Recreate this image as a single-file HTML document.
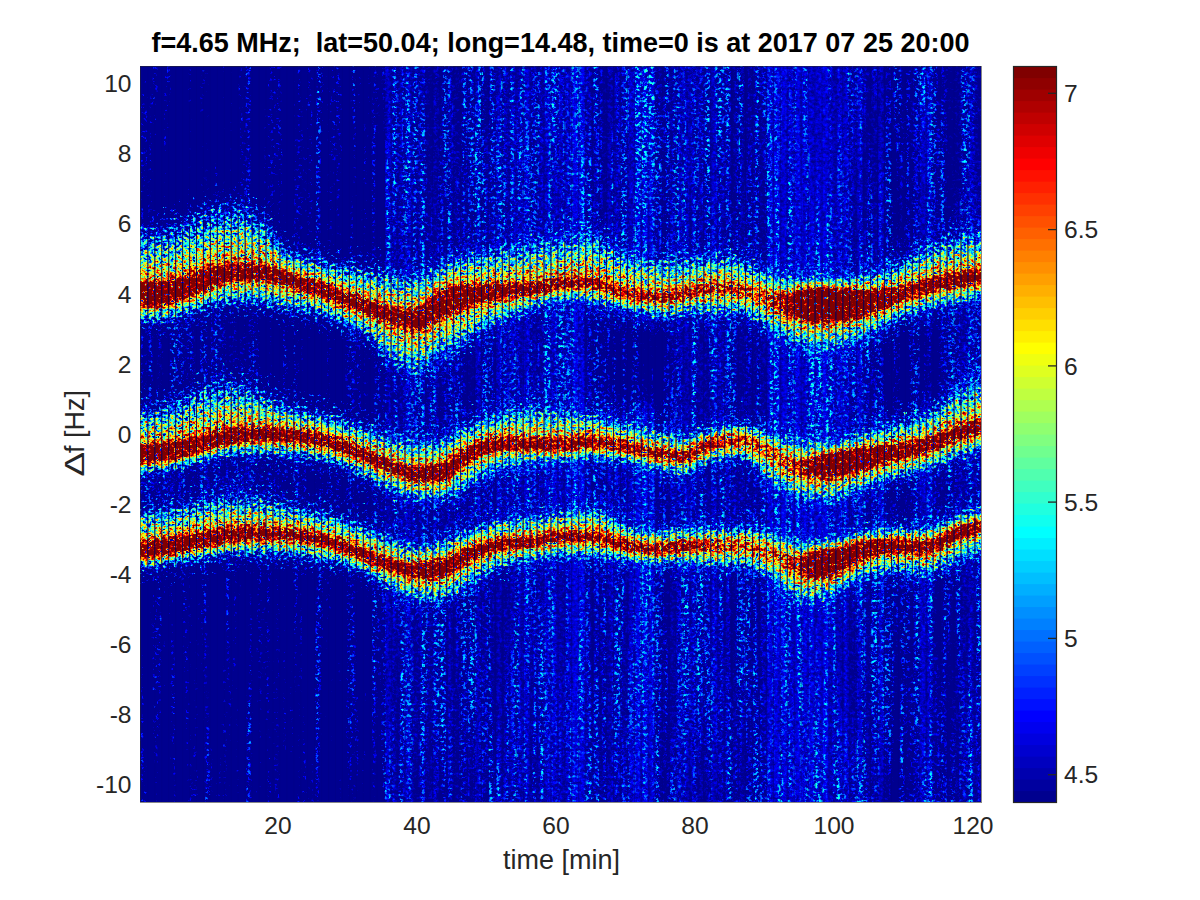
<!DOCTYPE html>
<html><head><meta charset="utf-8"><title>spectrogram</title>
<style>
html,body{margin:0;padding:0;background:#fff;}
svg{display:block}
text{font-family:"Liberation Sans",Arial,Helvetica,sans-serif;fill:#262626;font-size:24.6px}
.t{font-weight:bold;fill:#000;font-size:27.0px}
.l{font-size:27.0px}
</style></head><body>
<svg width="1200" height="900" viewBox="0 0 1200 900">
<defs>
<clipPath id="cb"><polygon points="119.0,238.0 126.0,238.0 132.9,238.0 139.9,238.0 146.8,237.8 153.8,237.1 160.7,236.2 167.7,235.1 174.6,232.8 181.6,229.8 188.5,226.8 195.5,223.9 202.4,220.6 209.4,217.8 216.3,216.2 223.3,215.1 230.2,214.3 237.2,213.9 244.1,214.4 251.1,217.3 258.0,221.8 265.0,226.8 271.9,234.3 278.9,244.4 285.8,252.9 292.8,256.5 299.7,258.1 306.7,259.4 313.6,260.7 320.6,262.3 327.5,263.9 334.5,265.5 341.4,267.1 348.4,268.7 355.3,270.3 362.3,271.8 369.2,272.9 376.2,273.9 383.1,274.8 390.1,275.6 397.0,276.6 404.0,277.5 410.9,278.1 417.9,277.7 424.8,274.9 431.8,270.9 438.7,267.0 445.7,264.1 452.6,261.2 459.6,258.7 466.5,257.0 473.5,255.7 480.4,254.6 487.4,253.5 494.3,252.3 501.3,251.1 508.2,249.9 515.2,248.7 522.1,247.3 529.1,246.0 536.0,244.8 543.0,243.8 549.9,243.0 556.9,242.3 563.8,241.5 570.8,240.1 577.7,237.8 584.7,235.7 591.6,235.2 598.6,238.7 605.5,244.5 612.5,249.9 619.4,252.8 626.4,255.2 633.3,257.2 640.3,258.5 647.2,259.4 654.2,260.2 661.1,260.7 668.1,260.8 675.0,260.6 682.0,260.3 688.9,260.1 695.9,259.5 702.8,258.5 709.8,257.5 716.7,257.2 723.7,257.9 730.6,259.2 737.6,260.8 744.5,262.7 751.5,265.5 758.4,268.7 765.4,271.4 772.3,273.8 779.3,276.1 786.2,277.6 793.2,277.7 800.1,277.4 807.1,277.1 814.0,277.0 821.0,277.0 827.9,277.1 834.9,277.1 841.8,277.2 848.8,276.9 855.7,276.3 862.7,275.5 869.6,274.5 876.6,273.0 883.5,270.9 890.5,268.5 897.4,265.3 904.4,261.2 911.3,257.0 918.3,253.4 925.2,249.8 932.2,246.5 939.1,243.6 946.1,241.1 953.0,238.6 960.0,236.9 966.9,236.3 973.9,236.9 980.8,238.4 987.8,238.5 994.7,238.5 1001.7,238.5 1001.7,299.5 994.7,299.5 987.8,299.5 980.8,299.5 973.9,300.6 966.9,301.7 960.0,302.9 953.0,304.3 946.1,305.6 939.1,307.0 932.2,308.4 925.2,309.7 918.3,311.3 911.3,313.5 904.4,316.6 897.4,320.4 890.5,324.0 883.5,327.4 876.6,330.8 869.6,334.1 862.7,337.2 855.7,340.2 848.8,342.9 841.8,345.1 834.9,346.8 827.9,348.4 821.0,349.6 814.0,350.0 807.1,348.5 800.1,345.6 793.2,342.2 786.2,338.8 779.3,334.7 772.3,330.2 765.4,326.0 758.4,321.8 751.5,317.5 744.5,314.3 737.6,313.5 730.6,313.5 723.7,313.5 716.7,313.6 709.8,313.4 702.8,312.8 695.9,312.3 688.9,312.3 682.0,313.6 675.0,315.5 668.1,317.0 661.1,317.0 654.2,315.9 647.2,314.3 640.3,312.8 633.3,311.4 626.4,310.0 619.4,308.5 612.5,307.0 605.5,305.4 598.6,303.7 591.6,302.5 584.7,301.7 577.7,300.9 570.8,300.4 563.8,300.3 556.9,301.0 549.9,302.6 543.0,304.5 536.0,306.6 529.1,309.7 522.1,313.2 515.2,316.4 508.2,318.9 501.3,321.2 494.3,323.7 487.4,326.9 480.4,331.1 473.5,335.9 466.5,340.6 459.6,344.7 452.6,348.6 445.7,352.3 438.7,356.2 431.8,361.4 424.8,366.8 417.9,370.2 410.9,369.8 404.0,367.1 397.0,363.1 390.1,358.7 383.1,352.6 376.2,344.7 369.2,337.2 362.3,332.1 355.3,328.5 348.4,325.4 341.4,322.5 334.5,319.3 327.5,316.1 320.6,313.3 313.6,311.6 306.7,310.6 299.7,309.8 292.8,309.0 285.8,307.9 278.9,306.2 271.9,304.6 265.0,303.4 258.0,302.5 251.1,301.8 244.1,301.3 237.2,301.3 230.2,301.9 223.3,302.8 216.3,304.0 209.4,305.5 202.4,307.8 195.5,310.4 188.5,312.7 181.6,315.3 174.6,317.8 167.7,319.5 160.7,319.8 153.8,319.9 146.8,320.0 139.9,320.1 132.9,320.1 126.0,320.1 119.0,320.1"/><polygon points="119.0,412.8 126.0,412.8 132.9,412.8 139.9,412.8 146.8,412.2 153.8,411.1 160.7,409.7 167.7,408.0 174.6,405.9 181.6,402.6 188.5,398.7 195.5,395.1 202.4,392.6 209.4,390.6 216.3,388.7 223.3,387.2 230.2,386.5 237.2,387.0 244.1,389.2 251.1,392.2 258.0,395.5 265.0,398.4 271.9,401.6 278.9,405.0 285.8,408.2 292.8,410.5 299.7,412.0 306.7,413.2 313.6,414.4 320.6,415.7 327.5,417.4 334.5,419.3 341.4,421.5 348.4,423.7 355.3,425.9 362.3,428.1 369.2,430.5 376.2,432.7 383.1,434.8 390.1,436.8 397.0,438.9 404.0,440.7 410.9,441.8 417.9,441.9 424.8,441.4 431.8,440.6 438.7,439.6 445.7,438.0 452.6,434.9 459.6,431.1 466.5,427.4 473.5,424.4 480.4,421.4 487.4,418.5 494.3,416.0 501.3,414.1 508.2,412.5 515.2,411.1 522.1,409.9 529.1,409.2 536.0,409.3 543.0,409.8 549.9,410.5 556.9,411.3 563.8,412.1 570.8,412.8 577.7,413.6 584.7,414.5 591.6,415.5 598.6,416.9 605.5,418.6 612.5,420.5 619.4,422.4 626.4,424.1 633.3,425.8 640.3,427.4 647.2,428.9 654.2,430.3 661.1,431.7 668.1,433.1 675.0,434.3 682.0,435.0 688.9,434.6 695.9,433.2 702.8,431.4 709.8,428.7 716.7,426.7 723.7,425.5 730.6,424.6 737.6,424.1 744.5,424.5 751.5,426.3 758.4,429.1 765.4,431.9 772.3,434.1 779.3,436.2 786.2,438.2 793.2,439.8 800.1,440.9 807.1,441.5 814.0,441.9 821.0,442.2 827.9,442.4 834.9,442.1 841.8,440.6 848.8,438.2 855.7,435.6 862.7,433.4 869.6,431.5 876.6,429.7 883.5,427.9 890.5,426.1 897.4,424.3 904.4,422.6 911.3,420.9 918.3,418.8 925.2,416.0 932.2,411.6 939.1,406.1 946.1,400.3 953.0,395.1 960.0,390.9 966.9,387.0 973.9,383.4 980.8,380.2 987.8,380.1 994.7,380.1 1001.7,380.1 1001.7,449.9 994.7,449.9 987.8,449.9 980.8,449.9 973.9,452.1 966.9,454.4 960.0,456.7 953.0,459.2 946.1,461.9 939.1,464.8 932.2,467.6 925.2,470.2 918.3,472.4 911.3,474.4 904.4,476.4 897.4,478.3 890.5,480.3 883.5,482.4 876.6,484.5 869.6,486.6 862.7,488.9 855.7,491.7 848.8,495.1 841.8,498.3 834.9,500.3 827.9,500.6 821.0,500.3 814.0,499.6 807.1,498.7 800.1,497.6 793.2,495.3 786.2,491.6 779.3,487.3 772.3,482.8 765.4,477.8 758.4,471.0 751.5,464.2 744.5,459.5 737.6,458.5 730.6,458.8 723.7,459.5 716.7,460.4 709.8,462.4 702.8,466.1 695.9,469.7 688.9,473.5 682.0,474.5 675.0,473.9 668.1,472.8 661.1,471.3 654.2,469.8 647.2,468.0 640.3,465.8 633.3,463.5 626.4,461.7 619.4,460.8 612.5,460.1 605.5,459.4 598.6,459.0 591.6,458.9 584.7,459.2 577.7,459.8 570.8,460.4 563.8,461.0 556.9,461.4 549.9,461.7 543.0,462.0 536.0,462.4 529.1,462.9 522.1,463.7 515.2,464.8 508.2,466.1 501.3,467.7 494.3,470.3 487.4,474.2 480.4,478.7 473.5,483.0 466.5,486.8 459.6,491.3 452.6,495.5 445.7,498.6 438.7,499.6 431.8,499.6 424.8,499.2 417.9,498.8 410.9,497.8 404.0,495.6 397.0,492.4 390.1,488.9 383.1,485.6 376.2,482.3 369.2,478.8 362.3,475.3 355.3,472.0 348.4,468.9 341.4,465.8 334.5,462.9 327.5,460.6 320.6,459.3 313.6,458.4 306.7,457.6 299.7,457.0 292.8,456.4 285.8,455.7 278.9,454.8 271.9,454.1 265.0,453.7 258.0,453.7 251.1,453.8 244.1,453.9 237.2,454.0 230.2,454.1 223.3,454.9 216.3,456.4 209.4,458.2 202.4,460.1 195.5,462.0 188.5,464.2 181.6,466.6 174.6,468.5 167.7,469.7 160.7,470.6 153.8,471.5 146.8,472.1 139.9,472.3 132.9,472.3 126.0,472.3 119.0,472.3"/><polygon points="119.0,513.0 126.0,513.0 132.9,513.0 139.9,513.0 146.8,512.5 153.8,511.8 160.7,511.0 167.7,510.1 174.6,509.1 181.6,507.8 188.5,506.4 195.5,504.9 202.4,503.5 209.4,501.8 216.3,500.1 223.3,498.7 230.2,497.9 237.2,498.0 244.1,498.4 251.1,499.1 258.0,499.9 265.0,500.9 271.9,502.5 278.9,504.6 285.8,506.7 292.8,508.5 299.7,509.9 306.7,511.1 313.6,512.4 320.6,513.9 327.5,515.5 334.5,517.5 341.4,519.6 348.4,521.9 355.3,524.2 362.3,526.9 369.2,529.9 376.2,532.8 383.1,535.5 390.1,538.1 397.0,541.0 404.0,543.5 410.9,545.0 417.9,545.2 424.8,544.4 431.8,543.2 438.7,541.7 445.7,539.9 452.6,537.0 459.6,533.8 466.5,530.6 473.5,528.2 480.4,525.8 487.4,523.6 494.3,521.7 501.3,520.3 508.2,519.5 515.2,518.9 522.1,518.3 529.1,517.6 536.0,516.7 543.0,515.2 549.9,513.6 556.9,512.2 563.8,511.3 570.8,510.5 577.7,509.7 584.7,509.1 591.6,508.9 598.6,509.9 605.5,513.2 612.5,517.5 619.4,521.5 626.4,524.2 633.3,526.7 640.3,529.0 647.2,530.7 654.2,531.4 661.1,530.9 668.1,530.0 675.0,529.0 682.0,528.4 688.9,528.4 695.9,528.4 702.8,528.4 709.8,528.4 716.7,528.4 723.7,528.3 730.6,528.2 737.6,528.2 744.5,528.3 751.5,528.9 758.4,529.9 765.4,531.1 772.3,532.4 779.3,534.7 786.2,537.5 793.2,539.8 800.1,540.9 807.1,540.5 814.0,540.1 821.0,539.9 827.9,539.8 834.9,539.5 841.8,537.7 848.8,535.0 855.7,532.4 862.7,530.8 869.6,529.9 876.6,529.1 883.5,528.4 890.5,528.1 897.4,528.1 904.4,528.1 911.3,528.2 918.3,528.3 925.2,528.2 932.2,526.3 939.1,523.1 946.1,519.5 953.0,516.5 960.0,514.5 966.9,512.7 973.9,511.1 980.8,509.7 987.8,509.7 994.7,509.7 1001.7,509.7 1001.7,550.3 994.7,550.3 987.8,550.3 980.8,550.4 973.9,553.5 966.9,556.6 960.0,559.6 953.0,562.5 946.1,565.9 939.1,569.5 932.2,572.5 925.2,574.2 918.3,574.1 911.3,573.4 904.4,572.5 897.4,571.8 890.5,571.7 883.5,572.3 876.6,573.7 869.6,575.5 862.7,577.6 855.7,580.7 848.8,585.3 841.8,590.2 834.9,594.3 827.9,596.7 821.0,598.6 814.0,600.1 807.1,600.8 800.1,600.8 793.2,597.6 786.2,591.4 779.3,584.3 772.3,578.6 765.4,574.9 758.4,571.4 751.5,568.4 744.5,566.4 737.6,566.1 730.6,566.1 723.7,566.2 716.7,566.2 709.8,566.0 702.8,565.3 695.9,564.4 688.9,563.7 682.0,563.5 675.0,563.6 668.1,563.7 661.1,563.9 654.2,563.9 647.2,563.7 640.3,563.0 633.3,562.0 626.4,561.1 619.4,560.2 612.5,559.1 605.5,558.0 598.6,557.2 591.6,556.9 584.7,556.9 577.7,556.9 570.8,556.9 563.8,556.9 556.9,557.1 549.9,557.7 543.0,558.6 536.0,559.7 529.1,560.7 522.1,561.7 515.2,562.8 508.2,564.3 501.3,566.0 494.3,568.7 487.4,572.5 480.4,576.9 473.5,581.3 466.5,585.4 459.6,590.4 452.6,595.3 445.7,598.8 438.7,600.0 431.8,599.9 424.8,599.7 417.9,599.3 410.9,598.4 404.0,595.8 397.0,591.9 390.1,587.7 383.1,583.7 376.2,579.5 369.2,575.0 362.3,570.7 355.3,567.5 348.4,565.4 341.4,563.7 334.5,562.3 327.5,561.0 320.6,559.7 313.6,558.3 306.7,557.1 299.7,556.0 292.8,555.3 285.8,554.9 278.9,554.5 271.9,554.2 265.0,554.1 258.0,554.1 251.1,554.2 244.1,554.2 237.2,554.3 230.2,554.4 223.3,554.9 216.3,555.6 209.4,556.6 202.4,557.6 195.5,558.8 188.5,560.3 181.6,562.0 174.6,563.5 167.7,564.5 160.7,565.4 153.8,566.3 146.8,566.9 139.9,567.4 132.9,567.4 126.0,567.4 119.0,567.4"/></clipPath>
<clipPath id="cp"><rect x="140" y="66" width="841" height="736"/></clipPath>
<filter id="b1" x="-5%" y="-5%" width="110%" height="110%" color-interpolation-filters="sRGB"><feGaussianBlur stdDeviation="0.8 0"/></filter>
<filter id="b2" x="-5%" y="-30%" width="110%" height="160%" color-interpolation-filters="sRGB"><feGaussianBlur stdDeviation="2 2.5"/></filter>
<filter id="b3" x="-5%" y="-30%" width="110%" height="160%" color-interpolation-filters="sRGB"><feGaussianBlur stdDeviation="2.5 3"/></filter>
<filter id="b8" x="-10%" y="-20%" width="120%" height="140%" color-interpolation-filters="sRGB"><feGaussianBlur stdDeviation="9"/></filter>
<filter id="spec" filterUnits="userSpaceOnUse" x="115" y="41" width="891" height="786" color-interpolation-filters="sRGB">
<feTurbulence type="fractalNoise" baseFrequency="0.27 0.33" numOctaves="3" seed="5" result="tp"/>
<feComponentTransfer in="tp" result="npA"><feFuncR type="table" tableValues="0 0 0 0 0 0 0 0 0 0 0 0 0 0 0 0 0 0 0 0 0 0 0 0 0 0 0 0 0 0 0 0 0 0 0 0 0 0 0 0 0 0 0 0 0 0 0 0 0 0 0 0 0 0 0 0 0 0 0 0 0 0 0 0 0 0 0 0 0.001 0.059 0.124 0.227 0.265 0.283 0.296 0.305 0.314 0.321 0.327 0.333 0.338 0.343 0.348 0.353 0.357 0.361 0.365 0.369 0.373 0.377 0.38 0.384 0.387 0.391 0.394 0.397 0.401 0.404 0.407 0.41 0.413 0.416 0.419 0.422 0.425 0.428 0.431 0.435 0.438 0.44 0.444 0.447 0.45 0.453 0.455 0.458 0.461 0.464 0.467 0.47 0.473 0.476 0.479 0.483 0.486 0.489 0.492 0.494 0.497 0.501 0.504 0.507 0.51 0.513 0.516 0.519 0.522 0.525 0.528 0.53 0.533 0.536 0.539 0.541 0.544 0.547 0.55 0.552 0.555 0.558 0.561 0.563 0.566 0.569 0.572 0.574 0.577 0.58 0.582 0.585 0.588 0.59 0.593 0.596 0.599 0.601 0.604 0.607 0.61 0.613 0.616 0.618 0.621 0.624 0.627 0.63 0.633 0.636 0.639 0.642 0.645 0.648 0.652 0.655 0.658 0.662 0.665 0.668 0.672 0.675 0.679 0.682 0.686 0.689 0.693 0.696 0.7 0.703 0.707 0.711 0.715 0.718 0.722 0.726 0.73 0.734 0.737 0.742 0.746 0.75 0.753 0.757 0.761 0.766 0.77 0.773 0.778 0.782 0.786 0.79 0.795 0.799 0.803 0.808 0.813 0.818 0.823 0.829 0.831 0.831 0.831 0.831 0.831 0.831 0.831 0.831 0.831 0.831 0.831 0.831 0.831 0.831 0.831 0.831 0.831 0.831 0.831 0.831 0.831 0.831 0.831 0.831 0.831 0.831 0.831 0.831"/><feFuncG type="table" tableValues="0.445 0.445 0.445 0.445 0.445 0.445 0.445 0.445 0.445 0.445 0.445 0.445 0.445 0.445 0.445 0.445 0.445 0.445 0.446 0.447 0.447 0.448 0.449 0.449 0.45 0.451 0.451 0.452 0.453 0.453 0.454 0.455 0.456 0.456 0.457 0.458 0.458 0.459 0.459 0.46 0.46 0.461 0.462 0.462 0.463 0.463 0.464 0.465 0.465 0.466 0.466 0.467 0.467 0.468 0.468 0.469 0.469 0.47 0.47 0.471 0.471 0.472 0.472 0.473 0.473 0.474 0.474 0.475 0.475 0.476 0.476 0.477 0.477 0.478 0.478 0.479 0.479 0.479 0.48 0.48 0.481 0.481 0.482 0.482 0.482 0.483 0.483 0.484 0.484 0.484 0.485 0.485 0.486 0.486 0.486 0.487 0.487 0.488 0.488 0.488 0.489 0.489 0.49 0.49 0.49 0.491 0.491 0.492 0.492 0.492 0.493 0.493 0.494 0.494 0.494 0.495 0.495 0.496 0.496 0.496 0.497 0.497 0.498 0.498 0.499 0.499 0.499 0.5 0.5 0.501 0.501 0.502 0.502 0.502 0.503 0.503 0.504 0.504 0.504 0.505 0.505 0.506 0.506 0.506 0.507 0.507 0.508 0.508 0.508 0.509 0.509 0.51 0.51 0.51 0.511 0.511 0.512 0.512 0.512 0.513 0.513 0.513 0.514 0.514 0.515 0.515 0.515 0.516 0.516 0.517 0.517 0.517 0.518 0.518 0.519 0.519 0.52 0.52 0.52 0.521 0.521 0.522 0.522 0.523 0.523 0.524 0.524 0.525 0.525 0.526 0.526 0.527 0.527 0.528 0.528 0.529 0.529 0.53 0.53 0.531 0.531 0.532 0.533 0.533 0.534 0.534 0.535 0.535 0.536 0.537 0.537 0.538 0.538 0.539 0.539 0.54 0.541 0.541 0.542 0.542 0.543 0.544 0.544 0.545 0.546 0.546 0.547 0.548 0.549 0.549 0.55 0.551 0.552 0.552 0.553 0.553 0.554 0.554 0.555 0.555 0.555 0.555 0.555 0.555 0.555 0.555 0.555 0.555 0.555 0.555 0.555 0.555 0.555 0.555 0.555 0.555"/><feFuncB type="linear" slope="0" intercept="0"/><feFuncA type="linear" slope="0" intercept="1"/></feComponentTransfer>
<feComponentTransfer in="tp" result="npB"><feFuncR type="linear" slope="0" intercept="0"/><feFuncG type="linear" slope="0" intercept="0"/><feFuncB type="table" tableValues="0 0 0 0 0 0 0 0 0 0 0 0 0 0 0 0 0 0 0 0 0 0 0 0 0 0 0 0 0 0 0 0 0 0 0 0 0 0 0 0 0 0 0 0 0 0 0 0 0 0 0 0 0 0 0 0 0 0 0 0 0 0 0 0 0 0 0 0 0 0 0 0 0 0 0 0 0 0 0 0 0 0 0 0 0 0 0 0 0 0 0 0 0 0 0 0 0 0 0 0 0 0 0 0 0 0 0 0 0 0 0 0 0 0 0 0 0 0 0 0 0 0 0.006 0.017 0.03 0.045 0.061 0.074 0.09 0.113 0.132 0.151 0.171 0.19 0.21 0.229 0.249 0.269 0.289 0.309 0.328 0.347 0.367 0.386 0.405 0.424 0.443 0.461 0.479 0.497 0.515 0.533 0.55 0.567 0.584 0.6 0.616 0.631 0.646 0.661 0.676 0.69 0.704 0.717 0.73 0.744 0.756 0.768 0.78 0.792 0.803 0.813 0.824 0.834 0.844 0.853 0.862 0.87 0.879 0.887 0.895 0.902 0.909 0.916 0.922 0.929 0.934 0.94 0.945 0.95 0.954 0.958 0.962 0.966 0.969 0.972 0.974 0.977 0.979 0.982 0.984 0.985 0.987 0.989 0.99 0.991 0.992 0.993 0.994 0.995 0.995 0.996 0.997 0.997 0.997 0.998 0.998 0.998 0.999 0.999 0.999 0.999 0.999 0.999 1 1 1 1 1 1 1 1 1 1 1 1 1 1 1 1 1 1 1 1 1 1 1 1 1 1 1 1 1 1 1 1"/><feFuncA type="linear" slope="0" intercept="1"/></feComponentTransfer>
<feTurbulence type="fractalNoise" baseFrequency="0.15 0.004" numOctaves="2" seed="8" result="ts"/>
<feComponentTransfer in="ts" result="ns"><feFuncR type="linear" slope="0" intercept="0"/><feFuncG type="linear" slope="0" intercept="0"/><feFuncB type="table" tableValues="0 0 0 0 0 0 0 0 0 0 0 0 0 0 0 0 0 0 0 0 0 0 0 0 0 0 0 0 0 0 0 0 0 0 0 0 0 0 0 0 0 0 0 0 0 0 0 0 0 0 0 0 0 0 0 0 0 0 0 0 0 0 0 0 0 0 0 0 0 0 0 0 0 0 0 0 0 0 0.002 0.005 0.008 0.011 0.015 0.018 0.023 0.027 0.031 0.035 0.04 0.045 0.051 0.057 0.063 0.069 0.075 0.081 0.088 0.095 0.103 0.11 0.118 0.127 0.135 0.145 0.154 0.163 0.173 0.183 0.193 0.203 0.213 0.224 0.235 0.246 0.257 0.269 0.281 0.294 0.306 0.319 0.332 0.345 0.359 0.373 0.387 0.401 0.416 0.428 0.442 0.461 0.476 0.491 0.505 0.519 0.533 0.547 0.56 0.574 0.588 0.601 0.613 0.626 0.639 0.651 0.663 0.675 0.687 0.697 0.708 0.719 0.73 0.74 0.75 0.76 0.77 0.78 0.789 0.799 0.807 0.816 0.825 0.833 0.841 0.849 0.857 0.864 0.871 0.878 0.885 0.892 0.898 0.903 0.909 0.915 0.92 0.925 0.93 0.935 0.939 0.943 0.947 0.951 0.955 0.958 0.961 0.964 0.967 0.97 0.972 0.974 0.977 0.979 0.981 0.983 0.984 0.986 0.987 0.988 0.99 0.991 0.992 0.992 0.993 0.994 0.995 0.995 0.996 0.996 0.997 0.997 0.998 0.998 0.998 0.999 0.999 0.999 0.999 0.999 0.999 0.999 1 1 1 1 1 1 1 1 1 1 1 1 1 1 1 1 1 1 1 1 1 1 1 1 1 1 1 1 1 1 1 1 1 1 1 1"/><feFuncA type="linear" slope="0" intercept="1"/></feComponentTransfer>
<feComposite in="npB" in2="ns" operator="arithmetic" k1="1" k2="0" k3="0" k4="0" result="pr0"/>
<feColorMatrix in="pr0" type="matrix" values="0 0 0 0 0  0 0 0.1852 0 0  0 0 0 0 0  0 0 0 0 1" result="pr"/>
<feComposite in="SourceGraphic" in2="npA" operator="arithmetic" k1="0" k2="1" k3="1" k4="-0.5" result="s1"/>
<feComposite in="s1" in2="pr" operator="arithmetic" k1="0" k2="1" k3="1" k4="0" result="s2"/>
<feColorMatrix in="s2" type="matrix" values="1 0 0 0 0  1 0 0 0 0  1 0 0 0 0  0 0 0 0 1" result="ga"/>
<feColorMatrix in="s2" type="matrix" values="0 1 0 0 0  0 1 0 0 0  0 1 0 0 0  0 0 0 0 1" result="gb"/>
<feBlend in="ga" in2="gb" mode="lighten" result="mx"/>
<feComponentTransfer in="mx"><feFuncR type="table" tableValues="0 0 0 0 0 0 0 0 0 0 0 0 0 0 0 0 0 0 0 0 0 0 0 0 0 0 0 0 0 0 0 0 0 0 0 0 0 0 0 0 0 0 0 0 0 0 0 0 0 0 0 0 0 0 0 0 0 0 0 0 0 0 0 0 0 0 0 0 0 0 0 0 0 0 0 0 0 0 0 0 0 0 0 0 0 0 0 0 0 0 0 0 0 0 0 0 0 0 0 0 0 0 0 0 0 0 0 0 0 0 0 0 0 0 0 0 0 0 0 0 0 0 0 0 0 0 0 0 0 0 0 0 0 0.062 0.062 0.125 0.125 0.188 0.188 0.25 0.25 0.312 0.312 0.375 0.375 0.438 0.438 0.5 0.5 0.562 0.562 0.625 0.625 0.688 0.688 0.75 0.75 0.812 0.812 0.875 0.875 0.938 0.938 1 1 1 1 1 1 1 1 1 1 1 1 1 1 1 1 1 1 1 1 1 1 1 1 1 1 1 1 1 1 1 1 1 1 0.938 0.938 0.875 0.875 0.812 0.812 0.75 0.75 0.688 0.688 0.625 0.625 0.562 0.562 0.5 0.5 0.5 0.5 0.5 0.5 0.5 0.5 0.5 0.5 0.5 0.5 0.5 0.5 0.5 0.5 0.5 0.5 0.5 0.5 0.5 0.5 0.5 0.5 0.5 0.5 0.5 0.5 0.5 0.5 0.5 0.5 0.5 0.5 0.5 0.5 0.5 0.5 0.5 0.5 0.5 0.5 0.5 0.5 0.5"/><feFuncG type="table" tableValues="0 0 0 0 0 0 0 0 0 0 0 0 0 0 0 0 0 0 0 0 0 0 0 0 0 0 0 0 0 0 0 0 0 0 0 0 0 0 0 0 0 0 0 0 0 0 0 0 0 0 0 0 0 0 0 0 0 0 0 0 0 0 0 0 0 0 0 0 0 0 0 0 0 0 0 0 0 0 0 0 0 0 0 0 0 0 0 0 0 0 0 0 0 0 0 0 0 0 0 0 0 0.062 0.062 0.125 0.125 0.188 0.188 0.25 0.25 0.312 0.312 0.375 0.375 0.438 0.438 0.5 0.5 0.562 0.562 0.625 0.625 0.688 0.688 0.75 0.75 0.812 0.812 0.875 0.875 0.938 0.938 1 1 1 1 1 1 1 1 1 1 1 1 1 1 1 1 1 1 1 1 1 1 1 1 1 1 1 1 1 1 1 1 1 1 0.938 0.938 0.875 0.875 0.812 0.812 0.75 0.75 0.688 0.688 0.625 0.625 0.562 0.562 0.5 0.5 0.438 0.438 0.375 0.375 0.312 0.312 0.25 0.25 0.188 0.188 0.125 0.125 0.062 0.062 0 0 0 0 0 0 0 0 0 0 0 0 0 0 0 0 0 0 0 0 0 0 0 0 0 0 0 0 0 0 0 0 0 0 0 0 0 0 0 0 0 0 0 0 0 0 0 0 0 0 0 0 0 0 0 0 0 0 0 0 0"/><feFuncB type="table" tableValues="0.562 0.562 0.562 0.562 0.562 0.562 0.562 0.562 0.562 0.562 0.562 0.562 0.562 0.562 0.562 0.562 0.562 0.562 0.562 0.562 0.562 0.562 0.562 0.562 0.562 0.562 0.562 0.562 0.562 0.562 0.562 0.562 0.562 0.562 0.562 0.562 0.562 0.562 0.562 0.562 0.562 0.562 0.562 0.562 0.562 0.562 0.562 0.562 0.562 0.562 0.562 0.562 0.562 0.562 0.562 0.562 0.562 0.562 0.562 0.562 0.562 0.562 0.562 0.562 0.562 0.562 0.562 0.562 0.562 0.562 0.562 0.562 0.562 0.562 0.562 0.562 0.562 0.562 0.562 0.562 0.562 0.562 0.562 0.562 0.562 0.562 0.562 0.625 0.625 0.688 0.688 0.75 0.75 0.812 0.812 0.875 0.875 0.938 0.938 1 1 1 1 1 1 1 1 1 1 1 1 1 1 1 1 1 1 1 1 1 1 1 1 1 1 1 1 1 1 1 1 1 1 0.938 0.938 0.875 0.875 0.812 0.812 0.75 0.75 0.688 0.688 0.625 0.625 0.562 0.562 0.5 0.5 0.438 0.438 0.375 0.375 0.312 0.312 0.25 0.25 0.188 0.188 0.125 0.125 0.062 0.062 0 0 0 0 0 0 0 0 0 0 0 0 0 0 0 0 0 0 0 0 0 0 0 0 0 0 0 0 0 0 0 0 0 0 0 0 0 0 0 0 0 0 0 0 0 0 0 0 0 0 0 0 0 0 0 0 0 0 0 0 0 0 0 0 0 0 0 0 0 0 0 0 0 0 0 0 0 0 0 0 0 0 0 0 0 0 0 0 0 0 0 0 0"/><feFuncA type="linear" slope="0" intercept="1"/></feComponentTransfer>
</filter>
</defs>
<rect width="1200" height="900" fill="#fff"/>
<g clip-path="url(#cp)">
<g filter="url(#spec)">
<rect x="110" y="36" width="901" height="796" fill="#003b00"/>
<g filter="url(#b1)">
<rect x="133.95" y="36" width="7.00" height="796" fill="#003a00"/>
<rect x="140.90" y="36" width="7.00" height="796" fill="#003900"/>
<rect x="147.85" y="36" width="7.00" height="796" fill="#003c00"/>
<rect x="154.80" y="36" width="7.00" height="796" fill="#003d00"/>
<rect x="161.75" y="36" width="7.00" height="796" fill="#003b00"/>
<rect x="168.70" y="36" width="7.00" height="796" fill="#004700"/>
<rect x="175.65" y="36" width="7.00" height="796" fill="#003900"/>
<rect x="182.60" y="36" width="7.00" height="796" fill="#003c00"/>
<rect x="189.55" y="36" width="7.00" height="796" fill="#003e00"/>
<rect x="196.50" y="36" width="7.00" height="796" fill="#003e00"/>
<rect x="203.45" y="36" width="7.00" height="796" fill="#005100"/>
<rect x="210.40" y="36" width="7.00" height="796" fill="#003900"/>
<rect x="217.35" y="36" width="7.00" height="796" fill="#003e00"/>
<rect x="224.30" y="36" width="7.00" height="796" fill="#004900"/>
<rect x="231.25" y="36" width="7.00" height="796" fill="#003a00"/>
<rect x="238.20" y="36" width="7.00" height="796" fill="#003d00"/>
<rect x="245.15" y="36" width="7.00" height="796" fill="#004f00"/>
<rect x="252.10" y="36" width="7.00" height="796" fill="#003900"/>
<rect x="259.05" y="36" width="7.00" height="796" fill="#004700"/>
<rect x="266.00" y="36" width="7.00" height="796" fill="#003a00"/>
<rect x="272.95" y="36" width="7.00" height="796" fill="#003d00"/>
<rect x="279.90" y="36" width="7.00" height="796" fill="#003e00"/>
<rect x="286.85" y="36" width="7.00" height="796" fill="#003b00"/>
<rect x="293.80" y="36" width="7.00" height="796" fill="#004c00"/>
<rect x="300.75" y="36" width="7.00" height="796" fill="#003900"/>
<rect x="307.70" y="36" width="7.00" height="796" fill="#003900"/>
<rect x="314.65" y="36" width="7.00" height="796" fill="#005100"/>
<rect x="321.60" y="36" width="7.00" height="796" fill="#003c00"/>
<rect x="328.55" y="36" width="7.00" height="796" fill="#003900"/>
<rect x="335.50" y="36" width="7.00" height="796" fill="#003c00"/>
<rect x="342.45" y="36" width="7.00" height="796" fill="#003b00"/>
<rect x="349.40" y="36" width="7.00" height="796" fill="#004c00"/>
<rect x="356.35" y="36" width="7.00" height="796" fill="#003d00"/>
<rect x="363.30" y="36" width="7.00" height="796" fill="#003c00"/>
<rect x="370.25" y="36" width="7.00" height="796" fill="#005000"/>
<rect x="377.20" y="36" width="7.00" height="796" fill="#003e00"/>
<rect x="384.15" y="36" width="7.00" height="796" fill="#005b00"/>
<rect x="391.10" y="36" width="7.00" height="796" fill="#005700"/>
<rect x="398.05" y="36" width="7.00" height="796" fill="#005600"/>
<rect x="405.00" y="36" width="7.00" height="796" fill="#005a00"/>
<rect x="411.95" y="36" width="7.00" height="796" fill="#005500"/>
<rect x="418.90" y="36" width="7.00" height="796" fill="#005700"/>
<rect x="425.85" y="36" width="7.00" height="796" fill="#005500"/>
<rect x="432.80" y="36" width="7.00" height="796" fill="#005700"/>
<rect x="439.75" y="36" width="7.00" height="796" fill="#005400"/>
<rect x="446.70" y="36" width="7.00" height="796" fill="#005700"/>
<rect x="453.65" y="36" width="7.00" height="796" fill="#005500"/>
<rect x="460.60" y="36" width="7.00" height="796" fill="#005400"/>
<rect x="467.55" y="36" width="7.00" height="796" fill="#005500"/>
<rect x="474.50" y="36" width="7.00" height="796" fill="#005900"/>
<rect x="481.45" y="36" width="7.00" height="796" fill="#005500"/>
<rect x="488.40" y="36" width="7.00" height="796" fill="#005500"/>
<rect x="495.35" y="36" width="7.00" height="796" fill="#005a00"/>
<rect x="502.30" y="36" width="7.00" height="796" fill="#005700"/>
<rect x="509.25" y="36" width="7.00" height="796" fill="#005900"/>
<rect x="516.20" y="36" width="7.00" height="796" fill="#005900"/>
<rect x="523.15" y="36" width="7.00" height="796" fill="#005b00"/>
<rect x="530.10" y="36" width="7.00" height="796" fill="#005700"/>
<rect x="537.05" y="36" width="7.00" height="796" fill="#005700"/>
<rect x="544.00" y="36" width="7.00" height="796" fill="#005a00"/>
<rect x="550.95" y="36" width="7.00" height="796" fill="#005a00"/>
<rect x="557.90" y="36" width="7.00" height="796" fill="#005900"/>
<rect x="564.85" y="36" width="7.00" height="796" fill="#005a00"/>
<rect x="571.80" y="36" width="7.00" height="796" fill="#005f00"/>
<rect x="578.75" y="36" width="7.00" height="796" fill="#005e00"/>
<rect x="585.70" y="36" width="7.00" height="796" fill="#005700"/>
<rect x="592.65" y="36" width="7.00" height="796" fill="#005700"/>
<rect x="599.60" y="36" width="7.00" height="796" fill="#005500"/>
<rect x="606.55" y="36" width="7.00" height="796" fill="#005900"/>
<rect x="613.50" y="36" width="7.00" height="796" fill="#005800"/>
<rect x="620.45" y="36" width="7.00" height="796" fill="#005700"/>
<rect x="627.40" y="36" width="7.00" height="796" fill="#005b00"/>
<rect x="634.35" y="36" width="7.00" height="796" fill="#005e00"/>
<rect x="641.30" y="36" width="7.00" height="796" fill="#005e00"/>
<rect x="648.25" y="36" width="7.00" height="796" fill="#005d00"/>
<rect x="655.20" y="36" width="7.00" height="796" fill="#005400"/>
<rect x="662.15" y="36" width="7.00" height="796" fill="#005200"/>
<rect x="669.10" y="36" width="7.00" height="796" fill="#005700"/>
<rect x="676.05" y="36" width="7.00" height="796" fill="#005800"/>
<rect x="683.00" y="36" width="7.00" height="796" fill="#005900"/>
<rect x="689.95" y="36" width="7.00" height="796" fill="#005800"/>
<rect x="696.90" y="36" width="7.00" height="796" fill="#005700"/>
<rect x="703.85" y="36" width="7.00" height="796" fill="#005600"/>
<rect x="710.80" y="36" width="7.00" height="796" fill="#005a00"/>
<rect x="717.75" y="36" width="7.00" height="796" fill="#005700"/>
<rect x="724.70" y="36" width="7.00" height="796" fill="#005700"/>
<rect x="731.65" y="36" width="7.00" height="796" fill="#005500"/>
<rect x="738.60" y="36" width="7.00" height="796" fill="#005700"/>
<rect x="745.55" y="36" width="7.00" height="796" fill="#005500"/>
<rect x="752.50" y="36" width="7.00" height="796" fill="#005600"/>
<rect x="759.45" y="36" width="7.00" height="796" fill="#005600"/>
<rect x="766.40" y="36" width="7.00" height="796" fill="#005d00"/>
<rect x="773.35" y="36" width="7.00" height="796" fill="#005e00"/>
<rect x="780.30" y="36" width="7.00" height="796" fill="#005e00"/>
<rect x="787.25" y="36" width="7.00" height="796" fill="#005b00"/>
<rect x="794.20" y="36" width="7.00" height="796" fill="#005e00"/>
<rect x="801.15" y="36" width="7.00" height="796" fill="#005c00"/>
<rect x="808.10" y="36" width="7.00" height="796" fill="#005d00"/>
<rect x="815.05" y="36" width="7.00" height="796" fill="#005c00"/>
<rect x="822.00" y="36" width="7.00" height="796" fill="#005e00"/>
<rect x="828.95" y="36" width="7.00" height="796" fill="#005a00"/>
<rect x="835.90" y="36" width="7.00" height="796" fill="#005b00"/>
<rect x="842.85" y="36" width="7.00" height="796" fill="#005b00"/>
<rect x="849.80" y="36" width="7.00" height="796" fill="#005700"/>
<rect x="856.75" y="36" width="7.00" height="796" fill="#005b00"/>
<rect x="863.70" y="36" width="7.00" height="796" fill="#005600"/>
<rect x="870.65" y="36" width="7.00" height="796" fill="#005700"/>
<rect x="877.60" y="36" width="7.00" height="796" fill="#005b00"/>
<rect x="884.55" y="36" width="7.00" height="796" fill="#005200"/>
<rect x="891.50" y="36" width="7.00" height="796" fill="#004f00"/>
<rect x="898.45" y="36" width="7.00" height="796" fill="#005000"/>
<rect x="905.40" y="36" width="7.00" height="796" fill="#004f00"/>
<rect x="912.35" y="36" width="7.00" height="796" fill="#005500"/>
<rect x="919.30" y="36" width="7.00" height="796" fill="#005b00"/>
<rect x="926.25" y="36" width="7.00" height="796" fill="#005b00"/>
<rect x="933.20" y="36" width="7.00" height="796" fill="#005200"/>
<rect x="940.15" y="36" width="7.00" height="796" fill="#005300"/>
<rect x="947.10" y="36" width="7.00" height="796" fill="#005300"/>
<rect x="954.05" y="36" width="7.00" height="796" fill="#005500"/>
<rect x="961.00" y="36" width="7.00" height="796" fill="#005600"/>
<rect x="967.95" y="36" width="7.00" height="796" fill="#005900"/>
<rect x="974.90" y="36" width="7.00" height="796" fill="#005500"/>
<rect x="981.85" y="36" width="7.00" height="796" fill="#005a00"/>
<rect x="988.80" y="36" width="7.00" height="796" fill="#005b00"/>
</g>
<g filter="url(#b8)">
<polygon points="585.0,318.0 640.0,328.0 670.0,335.0 670.0,395.0 640.0,402.0 600.0,390.0" fill="#004400" fill-opacity="0.60"/>
<polygon points="878.0,335.0 930.0,325.0 935.0,395.0 880.0,400.0" fill="#004400" fill-opacity="0.60"/>
<polygon points="110.0,472.0 200.0,462.0 265.0,458.0 270.0,500.0 200.0,500.0 110.0,508.0" fill="#005700" fill-opacity="0.90"/>
<polygon points="265.0,462.0 330.0,470.0 385.0,500.0 385.0,525.0 320.0,505.0 265.0,497.0" fill="#005000" fill-opacity="0.80"/>
<polygon points="110.0,325.0 240.0,312.0 250.0,370.0 180.0,385.0 110.0,395.0" fill="#005000" fill-opacity="0.85"/>
<polygon points="250.0,320.0 320.0,328.0 385.0,372.0 385.0,420.0 320.0,400.0 250.0,372.0" fill="#004900" fill-opacity="0.70"/>
</g>
<g style="mix-blend-mode:lighten">
<g filter="url(#b3)">
<polygon points="119.0,206.0 126.0,206.0 132.9,206.0 139.9,206.0 146.8,205.8 153.8,205.1 160.7,204.2 167.7,202.9 174.6,200.5 181.6,197.3 188.5,194.1 195.5,191.1 202.4,187.8 209.4,184.9 216.3,183.3 223.3,182.3 230.2,181.5 237.2,181.0 244.1,181.6 251.1,185.0 258.0,190.2 265.0,196.0 271.9,204.6 278.9,215.9 285.8,225.5 292.8,229.4 299.7,231.0 306.7,232.1 313.6,233.2 320.6,234.6 327.5,236.0 334.5,237.4 341.4,238.8 348.4,240.3 355.3,241.8 362.3,243.1 369.2,244.0 376.2,244.7 383.1,245.4 390.1,246.0 397.0,246.8 404.0,247.7 410.9,248.4 417.9,248.2 424.8,245.9 431.8,242.2 438.7,238.5 445.7,235.7 452.6,232.8 459.6,230.2 466.5,228.1 473.5,226.6 480.4,225.3 487.4,224.0 494.3,222.6 501.3,221.2 508.2,219.9 515.2,218.5 522.1,217.0 529.1,215.5 536.0,214.1 543.0,213.1 549.9,212.5 556.9,211.9 563.8,211.2 570.8,209.5 577.7,206.7 584.7,204.2 591.6,203.7 598.6,207.4 605.5,213.8 612.5,219.6 619.4,222.8 626.4,225.2 633.3,227.2 640.3,228.5 647.2,229.6 654.2,230.4 661.1,230.9 668.1,231.0 675.0,231.0 682.0,231.0 688.9,231.0 695.9,230.7 702.8,229.7 709.8,228.8 716.7,228.5 723.7,229.3 730.6,230.6 737.6,232.4 744.5,234.4 751.5,237.4 758.4,240.8 765.4,243.6 772.3,246.3 779.3,249.0 786.2,250.7 793.2,251.0 800.1,251.0 807.1,251.0 814.0,251.0 821.0,251.0 827.9,251.0 834.9,251.0 841.8,251.0 848.8,250.6 855.7,249.8 862.7,248.9 869.6,247.6 876.6,245.8 883.5,243.5 890.5,240.8 897.4,237.2 904.4,232.7 911.3,228.2 918.3,224.2 925.2,220.4 932.2,216.9 939.1,213.8 946.1,211.1 953.0,208.4 960.0,206.5 966.9,206.0 973.9,206.9 980.8,208.9 987.8,209.0 994.7,209.0 1001.7,209.0 1001.7,322.5 994.7,322.5 987.8,322.5 980.8,322.5 973.9,323.5 966.9,324.7 960.0,325.9 953.0,327.3 946.1,328.8 939.1,330.2 932.2,331.4 925.2,332.7 918.3,334.1 911.3,336.3 904.4,339.6 897.4,343.5 890.5,347.3 883.5,350.8 876.6,354.4 869.6,357.9 862.7,361.1 855.7,364.2 848.8,367.1 841.8,369.5 834.9,371.4 827.9,373.2 821.0,374.6 814.0,375.0 807.1,373.4 800.1,370.3 793.2,366.6 786.2,363.0 779.3,358.9 772.3,354.4 765.4,350.2 758.4,345.8 751.5,341.1 744.5,337.7 737.6,337.0 730.6,337.2 723.7,337.4 716.7,337.5 709.8,337.2 702.8,336.3 695.9,335.3 688.9,335.0 682.0,336.2 675.0,338.2 668.1,339.8 661.1,339.8 654.2,338.5 647.2,336.7 640.3,335.1 633.3,333.7 626.4,332.3 619.4,330.9 612.5,329.5 605.5,328.0 598.6,326.5 591.6,325.2 584.7,324.3 577.7,323.4 570.8,322.7 563.8,322.5 556.9,323.2 549.9,324.7 543.0,326.7 536.0,328.9 529.1,332.4 522.1,336.3 515.2,339.9 508.2,342.7 501.3,345.3 494.3,348.0 487.4,351.5 480.4,356.2 473.5,361.5 466.5,366.5 459.6,370.8 452.6,374.8 445.7,378.7 438.7,382.8 431.8,388.2 424.8,393.6 417.9,397.1 410.9,397.0 404.0,394.2 397.0,389.9 390.1,385.0 383.1,378.3 376.2,369.5 369.2,361.2 362.3,355.7 355.3,351.8 348.4,348.6 341.4,345.6 334.5,342.4 327.5,339.1 320.6,336.4 313.6,334.8 306.7,334.0 299.7,333.5 292.8,332.8 285.8,331.8 278.9,330.3 271.9,328.7 265.0,327.5 258.0,326.5 251.1,325.7 244.1,325.1 237.2,325.0 230.2,325.5 223.3,326.3 216.3,327.3 209.4,328.7 202.4,330.8 195.5,333.2 188.5,335.5 181.6,338.1 174.6,340.7 167.7,342.3 160.7,342.5 153.8,342.5 146.8,342.5 139.9,342.5 132.9,342.5 126.0,342.5 119.0,342.5" fill="#340000"/>
<polygon points="119.0,215.6 126.0,215.6 132.9,215.6 139.9,215.6 146.8,215.4 153.8,214.7 160.7,213.8 167.7,212.5 174.6,210.1 181.6,206.9 188.5,203.7 195.5,200.7 202.4,197.4 209.4,194.5 216.3,192.9 223.3,191.9 230.2,191.1 237.2,190.6 244.1,191.2 251.1,194.6 258.0,199.8 265.0,205.6 271.9,214.2 278.9,225.5 285.8,235.1 292.8,239.0 299.7,240.6 306.7,241.7 313.6,242.8 320.6,244.2 327.5,245.6 334.5,247.0 341.4,248.4 348.4,249.9 355.3,251.4 362.3,252.7 369.2,253.6 376.2,254.3 383.1,255.0 390.1,255.6 397.0,256.4 404.0,257.3 410.9,258.0 417.9,257.8 424.8,255.5 431.8,251.8 438.7,248.1 445.7,245.3 452.6,242.4 459.6,239.8 466.5,237.7 473.5,236.2 480.4,234.9 487.4,233.6 494.3,232.2 501.3,230.8 508.2,229.5 515.2,228.1 522.1,226.6 529.1,225.1 536.0,223.7 543.0,222.7 549.9,222.1 556.9,221.5 563.8,220.8 570.8,219.1 577.7,216.3 584.7,213.8 591.6,213.3 598.6,217.0 605.5,223.4 612.5,229.2 619.4,232.4 626.4,234.8 633.3,236.8 640.3,238.1 647.2,239.2 654.2,240.0 661.1,240.5 668.1,240.6 675.0,240.6 682.0,240.6 688.9,240.6 695.9,240.3 702.8,239.3 709.8,238.4 716.7,238.1 723.7,238.9 730.6,240.2 737.6,242.0 744.5,244.0 751.5,247.0 758.4,250.4 765.4,253.2 772.3,255.9 779.3,258.6 786.2,260.3 793.2,260.6 800.1,260.6 807.1,260.6 814.0,260.6 821.0,260.6 827.9,260.6 834.9,260.6 841.8,260.6 848.8,260.2 855.7,259.4 862.7,258.5 869.6,257.2 876.6,255.4 883.5,253.1 890.5,250.4 897.4,246.8 904.4,242.3 911.3,237.8 918.3,233.8 925.2,230.0 932.2,226.5 939.1,223.4 946.1,220.7 953.0,218.0 960.0,216.1 966.9,215.6 973.9,216.5 980.8,218.5 987.8,218.6 994.7,218.6 1001.7,218.6 1001.7,314.5 994.7,314.5 987.8,314.5 980.8,314.5 973.9,315.5 966.9,316.7 960.0,317.9 953.0,319.3 946.1,320.8 939.1,322.2 932.2,323.4 925.2,324.7 918.3,326.1 911.3,328.3 904.4,331.6 897.4,335.5 890.5,339.3 883.5,342.8 876.6,346.4 869.6,349.9 862.7,353.1 855.7,356.2 848.8,359.1 841.8,361.5 834.9,363.4 827.9,365.2 821.0,366.6 814.0,367.0 807.1,365.4 800.1,362.3 793.2,358.6 786.2,355.0 779.3,350.9 772.3,346.4 765.4,342.2 758.4,337.8 751.5,333.1 744.5,329.7 737.6,329.0 730.6,329.2 723.7,329.4 716.7,329.5 709.8,329.2 702.8,328.3 695.9,327.3 688.9,327.0 682.0,328.2 675.0,330.2 668.1,331.8 661.1,331.8 654.2,330.5 647.2,328.7 640.3,327.1 633.3,325.7 626.4,324.3 619.4,322.9 612.5,321.5 605.5,320.0 598.6,318.5 591.6,317.2 584.7,316.3 577.7,315.4 570.8,314.7 563.8,314.5 556.9,315.2 549.9,316.7 543.0,318.7 536.0,320.9 529.1,324.4 522.1,328.3 515.2,331.9 508.2,334.7 501.3,337.3 494.3,340.0 487.4,343.5 480.4,348.2 473.5,353.5 466.5,358.5 459.6,362.8 452.6,366.8 445.7,370.7 438.7,374.8 431.8,380.2 424.8,385.6 417.9,389.1 410.9,389.0 404.0,386.2 397.0,381.9 390.1,377.0 383.1,370.3 376.2,361.5 369.2,353.2 362.3,347.7 355.3,343.8 348.4,340.6 341.4,337.6 334.5,334.4 327.5,331.1 320.6,328.4 313.6,326.8 306.7,326.0 299.7,325.5 292.8,324.8 285.8,323.8 278.9,322.3 271.9,320.7 265.0,319.5 258.0,318.5 251.1,317.7 244.1,317.1 237.2,317.0 230.2,317.5 223.3,318.3 216.3,319.3 209.4,320.7 202.4,322.8 195.5,325.2 188.5,327.5 181.6,330.1 174.6,332.7 167.7,334.3 160.7,334.5 153.8,334.5 146.8,334.5 139.9,334.5 132.9,334.5 126.0,334.5 119.0,334.5" fill="#420000"/>
<polygon points="119.0,224.0 126.0,224.0 132.9,224.0 139.9,224.0 146.8,223.8 153.8,223.1 160.7,222.2 167.7,220.9 174.6,218.5 181.6,215.3 188.5,212.1 195.5,209.1 202.4,205.8 209.4,202.9 216.3,201.3 223.3,200.3 230.2,199.5 237.2,199.0 244.1,199.6 251.1,203.0 258.0,208.2 265.0,214.0 271.9,222.6 278.9,233.9 285.8,243.5 292.8,247.4 299.7,249.0 306.7,250.1 313.6,251.2 320.6,252.6 327.5,254.0 334.5,255.4 341.4,256.8 348.4,258.3 355.3,259.8 362.3,261.1 369.2,262.0 376.2,262.7 383.1,263.4 390.1,264.0 397.0,264.8 404.0,265.7 410.9,266.4 417.9,266.2 424.8,263.9 431.8,260.2 438.7,256.5 445.7,253.7 452.6,250.8 459.6,248.2 466.5,246.1 473.5,244.6 480.4,243.3 487.4,242.0 494.3,240.6 501.3,239.2 508.2,237.9 515.2,236.5 522.1,235.0 529.1,233.5 536.0,232.1 543.0,231.1 549.9,230.5 556.9,229.9 563.8,229.2 570.8,227.5 577.7,224.7 584.7,222.2 591.6,221.7 598.6,225.4 605.5,231.8 612.5,237.6 619.4,240.8 626.4,243.2 633.3,245.2 640.3,246.5 647.2,247.6 654.2,248.4 661.1,248.9 668.1,249.0 675.0,249.0 682.0,249.0 688.9,249.0 695.9,248.7 702.8,247.7 709.8,246.8 716.7,246.5 723.7,247.3 730.6,248.6 737.6,250.4 744.5,252.4 751.5,255.4 758.4,258.8 765.4,261.6 772.3,264.3 779.3,267.0 786.2,268.7 793.2,269.0 800.1,269.0 807.1,269.0 814.0,269.0 821.0,269.0 827.9,269.0 834.9,269.0 841.8,269.0 848.8,268.6 855.7,267.8 862.7,266.9 869.6,265.6 876.6,263.8 883.5,261.5 890.5,258.8 897.4,255.2 904.4,250.7 911.3,246.2 918.3,242.2 925.2,238.4 932.2,234.9 939.1,231.8 946.1,229.1 953.0,226.4 960.0,224.5 966.9,224.0 973.9,224.9 980.8,226.9 987.8,227.0 994.7,227.0 1001.7,227.0 1001.7,307.5 994.7,307.5 987.8,307.5 980.8,307.5 973.9,308.5 966.9,309.7 960.0,310.9 953.0,312.3 946.1,313.8 939.1,315.2 932.2,316.4 925.2,317.7 918.3,319.1 911.3,321.3 904.4,324.6 897.4,328.5 890.5,332.3 883.5,335.8 876.6,339.4 869.6,342.9 862.7,346.1 855.7,349.2 848.8,352.1 841.8,354.5 834.9,356.4 827.9,358.2 821.0,359.6 814.0,360.0 807.1,358.4 800.1,355.3 793.2,351.6 786.2,348.0 779.3,343.9 772.3,339.4 765.4,335.2 758.4,330.8 751.5,326.1 744.5,322.7 737.6,322.0 730.6,322.2 723.7,322.4 716.7,322.5 709.8,322.2 702.8,321.3 695.9,320.3 688.9,320.0 682.0,321.2 675.0,323.2 668.1,324.8 661.1,324.8 654.2,323.5 647.2,321.7 640.3,320.1 633.3,318.7 626.4,317.3 619.4,315.9 612.5,314.5 605.5,313.0 598.6,311.5 591.6,310.2 584.7,309.3 577.7,308.4 570.8,307.7 563.8,307.5 556.9,308.2 549.9,309.7 543.0,311.7 536.0,313.9 529.1,317.4 522.1,321.3 515.2,324.9 508.2,327.7 501.3,330.3 494.3,333.0 487.4,336.5 480.4,341.2 473.5,346.5 466.5,351.5 459.6,355.8 452.6,359.8 445.7,363.7 438.7,367.8 431.8,373.2 424.8,378.6 417.9,382.1 410.9,382.0 404.0,379.2 397.0,374.9 390.1,370.0 383.1,363.3 376.2,354.5 369.2,346.2 362.3,340.7 355.3,336.8 348.4,333.6 341.4,330.6 334.5,327.4 327.5,324.1 320.6,321.4 313.6,319.8 306.7,319.0 299.7,318.5 292.8,317.8 285.8,316.8 278.9,315.3 271.9,313.7 265.0,312.5 258.0,311.5 251.1,310.7 244.1,310.1 237.2,310.0 230.2,310.5 223.3,311.3 216.3,312.3 209.4,313.7 202.4,315.8 195.5,318.2 188.5,320.5 181.6,323.1 174.6,325.7 167.7,327.3 160.7,327.5 153.8,327.5 146.8,327.5 139.9,327.5 132.9,327.5 126.0,327.5 119.0,327.5" fill="#500000"/>
<polygon points="119.0,230.0 126.0,230.0 132.9,230.0 139.9,230.0 146.8,229.8 153.8,229.1 160.7,228.2 167.7,226.9 174.6,224.5 181.6,221.3 188.5,218.1 195.5,215.1 202.4,211.8 209.4,208.9 216.3,207.3 223.3,206.3 230.2,205.5 237.2,205.0 244.1,205.6 251.1,209.0 258.0,214.2 265.0,220.0 271.9,228.6 278.9,239.9 285.8,249.5 292.8,253.4 299.7,255.0 306.7,256.1 313.6,257.2 320.6,258.6 327.5,260.0 334.5,261.4 341.4,262.8 348.4,264.3 355.3,265.8 362.3,267.1 369.2,268.0 376.2,268.7 383.1,269.4 390.1,270.0 397.0,270.8 404.0,271.7 410.9,272.4 417.9,272.2 424.8,269.9 431.8,266.2 438.7,262.5 445.7,259.7 452.6,256.8 459.6,254.2 466.5,252.1 473.5,250.6 480.4,249.3 487.4,248.0 494.3,246.6 501.3,245.2 508.2,243.9 515.2,242.5 522.1,241.0 529.1,239.5 536.0,238.1 543.0,237.1 549.9,236.5 556.9,235.9 563.8,235.2 570.8,233.5 577.7,230.7 584.7,228.2 591.6,227.7 598.6,231.4 605.5,237.8 612.5,243.6 619.4,246.8 626.4,249.2 633.3,251.2 640.3,252.5 647.2,253.6 654.2,254.4 661.1,254.9 668.1,255.0 675.0,255.0 682.0,255.0 688.9,255.0 695.9,254.7 702.8,253.7 709.8,252.8 716.7,252.5 723.7,253.3 730.6,254.6 737.6,256.4 744.5,258.4 751.5,261.4 758.4,264.8 765.4,267.6 772.3,270.3 779.3,273.0 786.2,274.7 793.2,275.0 800.1,275.0 807.1,275.0 814.0,275.0 821.0,275.0 827.9,275.0 834.9,275.0 841.8,275.0 848.8,274.6 855.7,273.8 862.7,272.9 869.6,271.6 876.6,269.8 883.5,267.5 890.5,264.8 897.4,261.2 904.4,256.7 911.3,252.2 918.3,248.2 925.2,244.4 932.2,240.9 939.1,237.8 946.1,235.1 953.0,232.4 960.0,230.5 966.9,230.0 973.9,230.9 980.8,232.9 987.8,233.0 994.7,233.0 1001.7,233.0 1001.7,302.5 994.7,302.5 987.8,302.5 980.8,302.5 973.9,303.5 966.9,304.7 960.0,305.9 953.0,307.3 946.1,308.8 939.1,310.2 932.2,311.4 925.2,312.7 918.3,314.1 911.3,316.3 904.4,319.6 897.4,323.5 890.5,327.3 883.5,330.8 876.6,334.4 869.6,337.9 862.7,341.1 855.7,344.2 848.8,347.1 841.8,349.5 834.9,351.4 827.9,353.2 821.0,354.6 814.0,355.0 807.1,353.4 800.1,350.3 793.2,346.6 786.2,343.0 779.3,338.9 772.3,334.4 765.4,330.2 758.4,325.8 751.5,321.1 744.5,317.7 737.6,317.0 730.6,317.2 723.7,317.4 716.7,317.5 709.8,317.2 702.8,316.3 695.9,315.3 688.9,315.0 682.0,316.2 675.0,318.2 668.1,319.8 661.1,319.8 654.2,318.5 647.2,316.7 640.3,315.1 633.3,313.7 626.4,312.3 619.4,310.9 612.5,309.5 605.5,308.0 598.6,306.5 591.6,305.2 584.7,304.3 577.7,303.4 570.8,302.7 563.8,302.5 556.9,303.2 549.9,304.7 543.0,306.7 536.0,308.9 529.1,312.4 522.1,316.3 515.2,319.9 508.2,322.7 501.3,325.3 494.3,328.0 487.4,331.5 480.4,336.2 473.5,341.5 466.5,346.5 459.6,350.8 452.6,354.8 445.7,358.7 438.7,362.8 431.8,368.2 424.8,373.6 417.9,377.1 410.9,377.0 404.0,374.2 397.0,369.9 390.1,365.0 383.1,358.3 376.2,349.5 369.2,341.2 362.3,335.7 355.3,331.8 348.4,328.6 341.4,325.6 334.5,322.4 327.5,319.1 320.6,316.4 313.6,314.8 306.7,314.0 299.7,313.5 292.8,312.8 285.8,311.8 278.9,310.3 271.9,308.7 265.0,307.5 258.0,306.5 251.1,305.7 244.1,305.1 237.2,305.0 230.2,305.5 223.3,306.3 216.3,307.3 209.4,308.7 202.4,310.8 195.5,313.2 188.5,315.5 181.6,318.1 174.6,320.7 167.7,322.3 160.7,322.5 153.8,322.5 146.8,322.5 139.9,322.5 132.9,322.5 126.0,322.5 119.0,322.5" fill="#5e0000"/>
<polygon points="119.0,238.0 126.0,238.0 132.9,238.0 139.9,238.0 146.8,237.8 153.8,237.1 160.7,236.2 167.7,235.1 174.6,232.8 181.6,229.8 188.5,226.8 195.5,223.9 202.4,220.6 209.4,217.8 216.3,216.2 223.3,215.1 230.2,214.3 237.2,213.9 244.1,214.4 251.1,217.3 258.0,221.8 265.0,226.8 271.9,234.3 278.9,244.4 285.8,252.9 292.8,256.5 299.7,258.1 306.7,259.4 313.6,260.7 320.6,262.3 327.5,263.9 334.5,265.5 341.4,267.1 348.4,268.7 355.3,270.3 362.3,271.8 369.2,272.9 376.2,273.9 383.1,274.8 390.1,275.6 397.0,276.6 404.0,277.5 410.9,278.1 417.9,277.7 424.8,274.9 431.8,270.9 438.7,267.0 445.7,264.1 452.6,261.2 459.6,258.7 466.5,257.0 473.5,255.7 480.4,254.6 487.4,253.5 494.3,252.3 501.3,251.1 508.2,249.9 515.2,248.7 522.1,247.3 529.1,246.0 536.0,244.8 543.0,243.8 549.9,243.0 556.9,242.3 563.8,241.5 570.8,240.1 577.7,237.8 584.7,235.7 591.6,235.2 598.6,238.7 605.5,244.5 612.5,249.9 619.4,252.8 626.4,255.2 633.3,257.2 640.3,258.5 647.2,259.4 654.2,260.2 661.1,260.7 668.1,260.8 675.0,260.6 682.0,260.3 688.9,260.1 695.9,259.5 702.8,258.5 709.8,257.5 716.7,257.2 723.7,257.9 730.6,259.2 737.6,260.8 744.5,262.7 751.5,265.5 758.4,268.7 765.4,271.4 772.3,273.8 779.3,276.1 786.2,277.6 793.2,277.7 800.1,277.4 807.1,277.1 814.0,277.0 821.0,277.0 827.9,277.1 834.9,277.1 841.8,277.2 848.8,276.9 855.7,276.3 862.7,275.5 869.6,274.5 876.6,273.0 883.5,270.9 890.5,268.5 897.4,265.3 904.4,261.2 911.3,257.0 918.3,253.4 925.2,249.8 932.2,246.5 939.1,243.6 946.1,241.1 953.0,238.6 960.0,236.9 966.9,236.3 973.9,236.9 980.8,238.4 987.8,238.5 994.7,238.5 1001.7,238.5 1001.7,299.5 994.7,299.5 987.8,299.5 980.8,299.5 973.9,300.6 966.9,301.7 960.0,302.9 953.0,304.3 946.1,305.6 939.1,307.0 932.2,308.4 925.2,309.7 918.3,311.3 911.3,313.5 904.4,316.6 897.4,320.4 890.5,324.0 883.5,327.4 876.6,330.8 869.6,334.1 862.7,337.2 855.7,340.2 848.8,342.9 841.8,345.1 834.9,346.8 827.9,348.4 821.0,349.6 814.0,350.0 807.1,348.5 800.1,345.6 793.2,342.2 786.2,338.8 779.3,334.7 772.3,330.2 765.4,326.0 758.4,321.8 751.5,317.5 744.5,314.3 737.6,313.5 730.6,313.5 723.7,313.5 716.7,313.6 709.8,313.4 702.8,312.8 695.9,312.3 688.9,312.3 682.0,313.6 675.0,315.5 668.1,317.0 661.1,317.0 654.2,315.9 647.2,314.3 640.3,312.8 633.3,311.4 626.4,310.0 619.4,308.5 612.5,307.0 605.5,305.4 598.6,303.7 591.6,302.5 584.7,301.7 577.7,300.9 570.8,300.4 563.8,300.3 556.9,301.0 549.9,302.6 543.0,304.5 536.0,306.6 529.1,309.7 522.1,313.2 515.2,316.4 508.2,318.9 501.3,321.2 494.3,323.7 487.4,326.9 480.4,331.1 473.5,335.9 466.5,340.6 459.6,344.7 452.6,348.6 445.7,352.3 438.7,356.2 431.8,361.4 424.8,366.8 417.9,370.2 410.9,369.8 404.0,367.1 397.0,363.1 390.1,358.7 383.1,352.6 376.2,344.7 369.2,337.2 362.3,332.1 355.3,328.5 348.4,325.4 341.4,322.5 334.5,319.3 327.5,316.1 320.6,313.3 313.6,311.6 306.7,310.6 299.7,309.8 292.8,309.0 285.8,307.9 278.9,306.2 271.9,304.6 265.0,303.4 258.0,302.5 251.1,301.8 244.1,301.3 237.2,301.3 230.2,301.9 223.3,302.8 216.3,304.0 209.4,305.5 202.4,307.8 195.5,310.4 188.5,312.7 181.6,315.3 174.6,317.8 167.7,319.5 160.7,319.8 153.8,319.9 146.8,320.0 139.9,320.1 132.9,320.1 126.0,320.1 119.0,320.1" fill="#710000"/>
<polygon points="119.0,248.7 126.0,248.7 132.9,248.7 139.9,248.7 146.8,248.5 153.8,247.9 160.7,247.0 167.7,245.9 174.6,243.8 181.6,241.2 188.5,238.4 195.5,235.6 202.4,232.4 209.4,229.6 216.3,228.0 223.3,226.9 230.2,226.1 237.2,225.7 244.1,226.2 251.1,228.5 258.0,232.1 265.0,236.0 271.9,242.1 278.9,250.2 285.8,257.3 292.8,260.6 299.7,262.4 306.7,263.9 313.6,265.4 320.6,267.2 327.5,269.1 334.5,271.0 341.4,272.8 348.4,274.6 355.3,276.4 362.3,278.0 369.2,279.4 376.2,280.8 383.1,282.0 390.1,283.1 397.0,284.2 404.0,285.3 410.9,285.6 417.9,284.9 424.8,281.7 431.8,277.2 438.7,273.0 445.7,269.9 452.6,267.0 459.6,264.8 466.5,263.5 473.5,262.6 480.4,261.8 487.4,260.9 494.3,259.9 501.3,258.9 508.2,257.9 515.2,256.9 522.1,255.8 529.1,254.7 536.0,253.6 543.0,252.7 549.9,251.7 556.9,250.8 563.8,250.0 570.8,248.9 577.7,247.2 584.7,245.6 591.6,245.3 598.6,248.3 605.5,253.4 612.5,258.2 619.4,260.9 626.4,263.2 633.3,265.1 640.3,266.4 647.2,267.2 654.2,268.0 661.1,268.4 668.1,268.4 675.0,268.0 682.0,267.4 688.9,266.8 695.9,266.0 702.8,264.8 709.8,263.7 716.7,263.4 723.7,264.0 730.6,265.2 737.6,266.6 744.5,268.4 751.5,271.0 758.4,274.0 765.4,276.4 772.3,278.5 779.3,280.4 786.2,281.6 793.2,281.2 800.1,280.5 807.1,280.0 814.0,279.7 821.0,279.7 827.9,279.8 834.9,280.0 841.8,280.2 848.8,280.0 855.7,279.5 862.7,279.0 869.6,278.3 876.6,277.1 883.5,275.4 890.5,273.4 897.4,270.7 904.4,267.2 911.3,263.5 918.3,260.2 925.2,257.0 932.2,253.9 939.1,251.3 946.1,249.0 953.0,246.9 960.0,245.4 966.9,244.7 973.9,244.9 980.8,245.7 987.8,245.8 994.7,245.8 1001.7,245.8 1001.7,295.5 994.7,295.5 987.8,295.5 980.8,295.5 973.9,296.6 966.9,297.8 960.0,298.9 953.0,300.2 946.1,301.5 939.1,302.8 932.2,304.3 925.2,305.8 918.3,307.6 911.3,309.7 904.4,312.7 897.4,316.2 890.5,319.6 883.5,322.8 876.6,326.0 869.6,329.1 862.7,332.0 855.7,334.8 848.8,337.3 841.8,339.2 834.9,340.7 827.9,342.0 821.0,343.0 814.0,343.3 807.1,342.0 800.1,339.4 793.2,336.3 786.2,333.2 779.3,329.2 772.3,324.7 765.4,320.5 758.4,316.6 751.5,312.7 744.5,309.8 737.6,308.8 730.6,308.6 723.7,308.4 716.7,308.4 709.8,308.3 702.8,308.2 695.9,308.3 688.9,308.6 682.0,310.0 675.0,311.9 668.1,313.3 661.1,313.3 654.2,312.4 647.2,311.1 640.3,309.8 633.3,308.5 626.4,307.0 619.4,305.4 612.5,303.8 605.5,301.9 598.6,300.1 591.6,298.9 584.7,298.3 577.7,297.7 570.8,297.3 563.8,297.3 556.9,298.1 549.9,299.8 543.0,301.7 536.0,303.6 529.1,306.1 522.1,309.0 515.2,311.6 508.2,313.8 501.3,315.8 494.3,318.0 487.4,320.7 480.4,324.3 473.5,328.4 466.5,332.7 459.6,336.5 452.6,340.3 445.7,343.8 438.7,347.5 431.8,352.5 424.8,357.7 417.9,360.9 410.9,360.3 404.0,357.7 397.0,354.1 390.1,350.2 383.1,345.0 376.2,338.2 369.2,331.8 362.3,327.3 355.3,324.0 348.4,321.1 341.4,318.2 334.5,315.2 327.5,312.0 320.6,309.3 313.6,307.4 306.7,306.1 299.7,305.0 292.8,304.0 285.8,302.6 278.9,300.8 271.9,299.1 265.0,297.9 258.0,297.2 251.1,296.6 244.1,296.2 237.2,296.3 230.2,297.0 223.3,298.2 216.3,299.5 209.4,301.3 202.4,303.8 195.5,306.6 188.5,309.0 181.6,311.5 174.6,313.9 167.7,315.6 160.7,316.1 153.8,316.5 146.8,316.8 139.9,316.9 132.9,316.9 126.0,316.9 119.0,316.9" fill="#890000"/>
<polygon points="119.0,262.1 126.0,262.1 132.9,262.1 139.9,262.1 146.8,261.8 153.8,261.3 160.7,260.4 167.7,259.4 174.6,257.6 181.6,255.3 188.5,252.9 195.5,250.3 202.4,247.2 209.4,244.4 216.3,242.7 223.3,241.6 230.2,240.8 237.2,240.4 244.1,240.8 251.1,242.4 258.0,244.8 265.0,247.5 271.9,251.7 278.9,257.6 285.8,262.9 292.8,265.8 299.7,267.7 306.7,269.4 313.6,271.2 320.6,273.3 327.5,275.6 334.5,277.9 341.4,280.0 348.4,282.0 355.3,284.0 362.3,285.8 369.2,287.6 376.2,289.4 383.1,291.1 390.1,292.5 397.0,293.8 404.0,294.9 410.9,295.1 417.9,294.0 424.8,290.2 431.8,285.1 438.7,280.4 445.7,277.2 452.6,274.4 459.6,272.5 466.5,271.6 473.5,271.2 480.4,270.7 487.4,270.1 494.3,269.4 501.3,268.7 508.2,268.0 515.2,267.2 522.1,266.4 529.1,265.5 536.0,264.7 543.0,263.8 549.9,262.6 556.9,261.4 563.8,260.6 570.8,260.0 577.7,259.0 584.7,258.1 591.6,257.9 598.6,260.4 605.5,264.6 612.5,268.6 619.4,271.1 626.4,273.2 633.3,275.1 640.3,276.3 647.2,277.0 654.2,277.7 661.1,278.1 668.1,278.0 675.0,277.4 682.0,276.3 688.9,275.3 695.9,274.2 702.8,272.7 709.8,271.5 716.7,271.1 723.7,271.7 730.6,272.7 737.6,273.9 744.5,275.5 751.5,277.8 758.4,280.5 765.4,282.7 772.3,284.3 779.3,285.7 786.2,286.5 793.2,285.7 800.1,284.5 807.1,283.5 814.0,283.1 821.0,283.1 827.9,283.3 834.9,283.6 841.8,283.9 848.8,283.9 855.7,283.6 862.7,283.4 869.6,283.1 876.6,282.3 883.5,281.1 890.5,279.6 897.4,277.5 904.4,274.7 911.3,271.7 918.3,268.8 925.2,265.9 932.2,263.2 939.1,260.9 946.1,259.0 953.0,257.3 960.0,256.0 966.9,255.2 973.9,254.8 980.8,254.9 987.8,254.9 994.7,254.9 1001.7,254.9 1001.7,290.5 994.7,290.5 987.8,290.5 980.8,290.5 973.9,291.7 966.9,292.8 960.0,294.0 953.0,295.1 946.1,296.3 939.1,297.6 932.2,299.1 925.2,301.0 918.3,302.9 911.3,305.1 904.4,307.8 897.4,311.0 890.5,314.2 883.5,317.1 876.6,320.0 869.6,322.9 862.7,325.6 855.7,328.1 848.8,330.3 841.8,331.9 834.9,333.0 827.9,334.0 821.0,334.7 814.0,334.9 807.1,333.8 800.1,331.6 793.2,329.0 786.2,326.2 779.3,322.4 772.3,317.8 765.4,313.6 758.4,310.1 751.5,306.7 744.5,304.1 737.6,303.0 730.6,302.4 723.7,302.1 716.7,301.9 709.8,302.0 702.8,302.5 695.9,303.2 688.9,304.0 682.0,305.5 675.0,307.4 668.1,308.7 661.1,308.8 654.2,308.1 647.2,307.1 640.3,306.0 633.3,304.8 626.4,303.2 619.4,301.5 612.5,299.8 605.5,297.7 598.6,295.6 591.6,294.3 584.7,294.0 577.7,293.7 570.8,293.5 563.8,293.5 556.9,294.5 549.9,296.2 543.0,298.1 536.0,299.7 529.1,301.7 522.1,303.8 515.2,305.7 508.2,307.4 501.3,309.0 494.3,310.8 487.4,313.0 480.4,315.8 473.5,319.1 466.5,322.7 459.6,326.3 452.6,329.9 445.7,333.2 438.7,336.5 431.8,341.2 424.8,346.3 417.9,349.3 410.9,348.4 404.0,345.8 397.0,342.8 390.1,339.5 383.1,335.4 376.2,330.2 369.2,325.1 362.3,321.4 355.3,318.4 348.4,315.6 341.4,313.0 334.5,310.1 327.5,307.0 320.6,304.2 313.6,302.0 306.7,300.4 299.7,299.0 292.8,297.6 285.8,296.0 278.9,294.0 271.9,292.2 265.0,291.1 258.0,290.5 251.1,290.1 244.1,289.9 237.2,290.1 230.2,291.0 223.3,292.4 216.3,293.9 209.4,296.0 202.4,298.8 195.5,301.8 188.5,304.3 181.6,306.8 174.6,309.1 167.7,310.8 160.7,311.6 153.8,312.2 146.8,312.7 139.9,312.9 132.9,312.9 126.0,312.9 119.0,312.9" fill="#9e0000"/>
<polygon points="119.0,275.5 126.0,275.5 132.9,275.5 139.9,275.5 146.8,275.2 153.8,274.7 160.7,273.9 167.7,272.9 174.6,271.4 181.6,269.5 188.5,267.3 195.5,264.9 202.4,261.9 209.4,259.2 216.3,257.5 223.3,256.4 230.2,255.5 237.2,255.1 244.1,255.5 251.1,256.4 258.0,257.6 265.0,259.0 271.9,261.4 278.9,265.0 285.8,268.5 292.8,271.0 299.7,273.0 306.7,274.9 313.6,277.0 320.6,279.4 327.5,282.1 334.5,284.7 341.4,287.2 348.4,289.4 355.3,291.5 362.3,293.6 369.2,295.7 376.2,298.0 383.1,300.1 390.1,301.9 397.0,303.4 404.0,304.6 410.9,304.5 417.9,303.0 424.8,298.6 431.8,293.0 438.7,287.9 445.7,284.5 452.6,281.7 459.6,280.1 466.5,279.7 473.5,279.7 480.4,279.7 487.4,279.3 494.3,278.9 501.3,278.5 508.2,278.1 515.2,277.5 522.1,277.0 529.1,276.4 536.0,275.7 543.0,274.9 549.9,273.5 556.9,272.0 563.8,271.2 570.8,271.0 577.7,270.7 584.7,270.5 591.6,270.5 598.6,272.4 605.5,275.7 612.5,279.0 619.4,281.2 626.4,283.3 633.3,285.0 640.3,286.1 647.2,286.8 654.2,287.4 661.1,287.7 668.1,287.6 675.0,286.7 682.0,285.2 688.9,283.7 695.9,282.3 702.8,280.6 709.8,279.3 716.7,278.9 723.7,279.3 730.6,280.2 737.6,281.3 744.5,282.6 751.5,284.7 758.4,287.1 765.4,289.0 772.3,290.1 779.3,291.1 786.2,291.4 793.2,290.1 800.1,288.4 807.1,287.1 814.0,286.4 821.0,286.5 827.9,286.8 834.9,287.1 841.8,287.6 848.8,287.7 855.7,287.6 862.7,287.7 869.6,287.9 876.6,287.6 883.5,286.7 890.5,285.7 897.4,284.2 904.4,282.2 911.3,279.8 918.3,277.4 925.2,274.8 932.2,272.4 939.1,270.5 946.1,269.0 953.0,267.7 960.0,266.6 966.9,265.7 973.9,264.8 980.8,264.1 987.8,264.0 994.7,264.0 1001.7,264.0 1001.7,285.5 994.7,285.5 987.8,285.5 980.8,285.5 973.9,286.7 966.9,287.9 960.0,289.0 953.0,290.0 946.1,291.0 939.1,292.3 932.2,294.0 925.2,296.1 918.3,298.3 911.3,300.4 904.4,302.9 897.4,305.8 890.5,308.7 883.5,311.4 876.6,314.0 869.6,316.6 862.7,319.1 855.7,321.5 848.8,323.3 841.8,324.5 834.9,325.3 827.9,326.0 821.0,326.4 814.0,326.6 807.1,325.7 800.1,323.9 793.2,321.6 786.2,319.2 779.3,315.5 772.3,310.8 765.4,306.6 758.4,303.5 751.5,300.7 744.5,298.4 737.6,297.1 730.6,296.3 723.7,295.7 716.7,295.4 709.8,295.7 702.8,296.7 695.9,298.1 688.9,299.4 682.0,301.1 675.0,302.9 668.1,304.1 661.1,304.2 654.2,303.7 647.2,303.0 640.3,302.2 633.3,301.1 626.4,299.4 619.4,297.5 612.5,295.7 605.5,293.4 598.6,291.1 591.6,289.8 584.7,289.7 577.7,289.6 570.8,289.6 563.8,289.7 556.9,290.8 549.9,292.7 543.0,294.6 536.0,295.9 529.1,297.2 522.1,298.5 515.2,299.8 508.2,301.0 501.3,302.3 494.3,303.7 487.4,305.4 480.4,307.3 473.5,309.8 466.5,312.8 459.6,316.2 452.6,319.5 445.7,322.5 438.7,325.5 431.8,330.0 424.8,335.0 417.9,337.7 410.9,336.5 404.0,334.0 397.0,331.5 390.1,328.9 383.1,325.9 376.2,322.2 369.2,318.5 362.3,315.4 355.3,312.8 348.4,310.2 341.4,307.7 334.5,304.9 327.5,301.9 320.6,299.1 313.6,296.7 306.7,294.8 299.7,293.0 292.8,291.3 285.8,289.4 278.9,287.2 271.9,285.3 265.0,284.2 258.0,283.8 251.1,283.6 244.1,283.6 237.2,283.9 230.2,285.0 223.3,286.6 216.3,288.4 209.4,290.6 202.4,293.8 195.5,297.0 188.5,299.7 181.6,302.1 174.6,304.3 167.7,306.0 160.7,307.0 153.8,307.9 146.8,308.6 139.9,308.9 132.9,308.9 126.0,308.9 119.0,308.9" fill="#af0000"/>
<polygon points="119.0,283.5 126.0,283.5 132.9,283.5 139.9,283.5 146.8,283.2 153.8,282.7 160.7,281.9 167.7,281.1 174.6,279.7 181.6,278.0 188.5,276.0 195.5,273.7 202.4,270.8 209.4,268.1 216.3,266.4 223.3,265.2 230.2,264.3 237.2,264.0 244.1,264.3 251.1,264.8 258.0,265.3 265.0,265.9 271.9,267.2 278.9,269.4 285.8,271.9 292.8,274.1 299.7,276.1 306.7,278.2 313.6,280.5 320.6,283.1 327.5,285.9 334.5,288.8 341.4,291.5 348.4,293.8 355.3,296.1 362.3,298.3 369.2,300.6 376.2,303.2 383.1,305.6 390.1,307.5 397.0,309.1 404.0,310.4 410.9,310.2 417.9,308.5 424.8,303.7 431.8,297.7 438.7,292.3 445.7,288.9 452.6,286.1 459.6,284.7 466.5,284.5 473.5,284.9 480.4,285.0 487.4,284.9 494.3,284.6 501.3,284.4 508.2,284.1 515.2,283.7 522.1,283.3 529.1,282.9 536.0,282.4 543.0,281.6 549.9,280.0 556.9,278.4 563.8,277.6 570.8,277.7 577.7,277.8 584.7,277.9 591.6,278.1 598.6,279.7 605.5,282.4 612.5,285.2 619.4,287.3 626.4,289.3 633.3,291.0 640.3,292.1 647.2,292.7 654.2,293.2 661.1,293.5 668.1,293.4 675.0,292.3 682.0,290.5 688.9,288.8 695.9,287.2 702.8,285.3 709.8,283.9 716.7,283.6 723.7,283.9 730.6,284.7 737.6,285.7 744.5,286.9 751.5,288.8 758.4,291.0 765.4,292.7 772.3,293.6 779.3,294.3 786.2,294.3 793.2,292.8 800.1,290.8 807.1,289.2 814.0,288.5 821.0,288.5 827.9,288.8 834.9,289.3 841.8,289.8 848.8,290.0 855.7,290.1 862.7,290.4 869.6,290.7 876.6,290.7 883.5,290.1 890.5,289.4 897.4,288.3 904.4,286.7 911.3,284.7 918.3,282.5 925.2,280.2 932.2,278.0 939.1,276.2 946.1,275.0 953.0,274.0 960.0,273.0 966.9,272.0 973.9,270.8 980.8,269.6 987.8,269.5 994.7,269.5 1001.7,269.5 1001.7,282.5 994.7,282.5 987.8,282.5 980.8,282.5 973.9,283.7 966.9,284.9 960.0,286.0 953.0,286.9 946.1,287.9 939.1,289.2 932.2,291.0 925.2,293.2 918.3,295.5 911.3,297.6 904.4,300.0 897.4,302.7 890.5,305.4 883.5,307.9 876.6,310.4 869.6,312.9 862.7,315.3 855.7,317.5 848.8,319.1 841.8,320.1 834.9,320.7 827.9,321.2 821.0,321.5 814.0,321.5 807.1,320.8 800.1,319.2 793.2,317.2 786.2,315.0 779.3,311.4 772.3,306.7 765.4,302.5 758.4,299.6 751.5,297.1 744.5,294.9 737.6,293.6 730.6,292.6 723.7,291.9 716.7,291.5 709.8,291.9 702.8,293.3 695.9,295.1 688.9,296.7 682.0,298.4 675.0,300.2 668.1,301.3 661.1,301.4 654.2,301.1 647.2,300.6 640.3,300.0 633.3,298.9 626.4,297.2 619.4,295.2 612.5,293.3 605.5,290.8 598.6,288.4 591.6,287.0 584.7,287.1 577.7,287.2 570.8,287.3 563.8,287.5 556.9,288.6 549.9,290.6 543.0,292.4 536.0,293.6 529.1,294.5 522.1,295.4 515.2,296.3 508.2,297.2 501.3,298.2 494.3,299.4 487.4,300.8 480.4,302.2 473.5,304.2 466.5,306.9 459.6,310.0 452.6,313.3 445.7,316.1 438.7,318.9 431.8,323.3 424.8,328.2 417.9,330.7 410.9,329.4 404.0,326.9 397.0,324.7 390.1,322.5 383.1,320.2 376.2,317.4 369.2,314.5 362.3,311.8 355.3,309.4 348.4,307.0 341.4,304.5 334.5,301.8 327.5,298.9 320.6,296.1 313.6,293.6 306.7,291.4 299.7,289.4 292.8,287.5 285.8,285.5 278.9,283.2 271.9,281.2 265.0,280.1 258.0,279.8 251.1,279.7 244.1,279.8 237.2,280.2 230.2,281.3 223.3,283.1 216.3,285.0 209.4,287.5 202.4,290.8 195.5,294.2 188.5,296.9 181.6,299.3 174.6,301.4 167.7,303.1 160.7,304.3 153.8,305.3 146.8,306.1 139.9,306.5 132.9,306.5 126.0,306.5 119.0,306.5" fill="#b80000"/>
</g>
<g filter="url(#b2)">
<polygon points="119.0,283.5 126.2,283.5 126.2,306.5 119.0,306.5" fill="#e70000"/>
<polygon points="126.0,283.5 133.2,283.5 133.2,306.5 126.0,306.5" fill="#e70000"/>
<polygon points="132.9,283.5 140.2,283.5 140.2,306.5 132.9,306.5" fill="#e70000"/>
<polygon points="139.9,283.5 147.1,283.2 147.1,306.1 139.9,306.5" fill="#e70000"/>
<polygon points="146.8,283.2 154.1,282.7 154.1,305.3 146.8,306.1" fill="#e60000"/>
<polygon points="153.8,282.7 161.0,281.9 161.0,304.3 153.8,305.3" fill="#e60000"/>
<polygon points="160.7,281.9 168.0,281.1 168.0,303.1 160.7,304.3" fill="#e50000"/>
<polygon points="167.7,281.1 174.9,279.7 174.9,301.4 167.7,303.1" fill="#e50000"/>
<polygon points="174.6,279.7 181.9,278.0 181.9,299.3 174.6,301.4" fill="#e40000"/>
<polygon points="181.6,278.0 188.8,276.0 188.8,296.9 181.6,299.3" fill="#e40000"/>
<polygon points="188.5,276.0 195.8,273.7 195.8,294.2 188.5,296.9" fill="#e30000"/>
<polygon points="195.5,273.7 202.7,270.8 202.7,290.8 195.5,294.2" fill="#e30000"/>
<polygon points="202.4,270.8 209.7,268.1 209.7,287.5 202.4,290.8" fill="#e20000"/>
<polygon points="209.4,268.1 216.6,266.4 216.6,285.0 209.4,287.5" fill="#e20000"/>
<polygon points="216.3,266.4 223.6,265.2 223.6,283.1 216.3,285.0" fill="#e20000"/>
<polygon points="223.3,265.2 230.5,264.3 230.5,281.3 223.3,283.1" fill="#e10000"/>
<polygon points="230.2,264.3 237.5,264.0 237.5,280.2 230.2,281.3" fill="#e10000"/>
<polygon points="237.2,264.0 244.4,264.3 244.4,279.8 237.2,280.2" fill="#e10000"/>
<polygon points="244.1,264.3 251.4,264.8 251.4,279.7 244.1,279.8" fill="#e10000"/>
<polygon points="251.1,264.8 258.3,265.3 258.3,279.8 251.1,279.7" fill="#e10000"/>
<polygon points="258.0,265.3 265.3,265.9 265.3,280.1 258.0,279.8" fill="#e00000"/>
<polygon points="265.0,265.9 272.2,267.2 272.2,281.2 265.0,280.1" fill="#e00000"/>
<polygon points="271.9,267.2 279.2,269.4 279.2,283.2 271.9,281.2" fill="#e00000"/>
<polygon points="278.9,269.4 286.1,271.9 286.1,285.5 278.9,283.2" fill="#df0000"/>
<polygon points="285.8,271.9 293.1,274.1 293.1,287.5 285.8,285.5" fill="#df0000"/>
<polygon points="292.8,274.1 300.0,276.1 300.0,289.4 292.8,287.5" fill="#df0000"/>
<polygon points="299.7,276.1 307.0,278.2 307.0,291.4 299.7,289.4" fill="#de0000"/>
<polygon points="306.7,278.2 313.9,280.5 313.9,293.6 306.7,291.4" fill="#de0000"/>
<polygon points="313.6,280.5 320.9,283.1 320.9,296.1 313.6,293.6" fill="#de0000"/>
<polygon points="320.6,283.1 327.8,285.9 327.8,298.9 320.6,296.1" fill="#de0000"/>
<polygon points="327.5,285.9 334.8,288.8 334.8,301.8 327.5,298.9" fill="#de0000"/>
<polygon points="334.5,288.8 341.7,291.5 341.7,304.5 334.5,301.8" fill="#de0000"/>
<polygon points="341.4,291.5 348.7,293.8 348.7,307.0 341.4,304.5" fill="#de0000"/>
<polygon points="348.4,293.8 355.6,296.1 355.6,309.4 348.4,307.0" fill="#de0000"/>
<polygon points="355.3,296.1 362.6,298.3 362.6,311.8 355.3,309.4" fill="#df0000"/>
<polygon points="362.3,298.3 369.5,300.6 369.5,314.5 362.3,311.8" fill="#df0000"/>
<polygon points="369.2,300.6 376.5,303.2 376.5,317.4 369.2,314.5" fill="#e00000"/>
<polygon points="376.2,303.2 383.4,305.6 383.4,320.2 376.2,317.4" fill="#e00000"/>
<polygon points="383.1,305.6 390.4,307.5 390.4,322.5 383.1,320.2" fill="#e00000"/>
<polygon points="390.1,307.5 397.3,309.1 397.3,324.7 390.1,322.5" fill="#e00000"/>
<polygon points="397.0,309.1 404.3,310.4 404.3,326.9 397.0,324.7" fill="#e00000"/>
<polygon points="404.0,310.4 411.2,310.2 411.2,329.4 404.0,326.9" fill="#e00000"/>
<polygon points="410.9,310.2 418.2,308.5 418.2,330.7 410.9,329.4" fill="#df0000"/>
<polygon points="417.9,308.5 425.1,303.7 425.1,328.2 417.9,330.7" fill="#de0000"/>
<polygon points="424.8,303.7 432.1,297.7 432.1,323.3 424.8,328.2" fill="#de0000"/>
<polygon points="431.8,297.7 439.0,292.3 439.0,318.9 431.8,323.3" fill="#de0000"/>
<polygon points="438.7,292.3 446.0,288.9 446.0,316.1 438.7,318.9" fill="#de0000"/>
<polygon points="445.7,288.9 452.9,286.1 452.9,313.3 445.7,316.1" fill="#de0000"/>
<polygon points="452.6,286.1 459.9,284.7 459.9,310.0 452.6,313.3" fill="#de0000"/>
<polygon points="459.6,284.7 466.8,284.5 466.8,306.9 459.6,310.0" fill="#de0000"/>
<polygon points="466.5,284.5 473.8,284.9 473.8,304.2 466.5,306.9" fill="#de0000"/>
<polygon points="473.5,284.9 480.7,285.0 480.7,302.2 473.5,304.2" fill="#de0000"/>
<polygon points="480.4,285.0 487.7,284.9 487.7,300.8 480.4,302.2" fill="#de0000"/>
<polygon points="487.4,284.9 494.6,284.6 494.6,299.4 487.4,300.8" fill="#de0000"/>
<polygon points="494.3,284.6 501.6,284.4 501.6,298.2 494.3,299.4" fill="#de0000"/>
<polygon points="501.3,284.4 508.5,284.1 508.5,297.2 501.3,298.2" fill="#de0000"/>
<polygon points="508.2,284.1 515.5,283.7 515.5,296.3 508.2,297.2" fill="#de0000"/>
<polygon points="515.2,283.7 522.4,283.3 522.4,295.4 515.2,296.3" fill="#de0000"/>
<polygon points="522.1,283.3 529.4,282.9 529.4,294.5 522.1,295.4" fill="#dd0000"/>
<polygon points="529.1,282.9 536.3,282.4 536.3,293.6 529.1,294.5" fill="#dd0000"/>
<polygon points="536.0,282.4 543.3,281.6 543.3,292.4 536.0,293.6" fill="#dc0000"/>
<polygon points="543.0,281.6 550.2,280.0 550.2,290.6 543.0,292.4" fill="#db0000"/>
<polygon points="549.9,280.0 557.2,278.4 557.2,288.6 549.9,290.6" fill="#da0000"/>
<polygon points="556.9,278.4 564.1,277.6 564.1,287.5 556.9,288.6" fill="#d90000"/>
<polygon points="563.8,277.6 571.1,277.7 571.1,287.3 563.8,287.5" fill="#d80000"/>
<polygon points="570.8,277.7 578.0,277.8 578.0,287.2 570.8,287.3" fill="#d80000"/>
<polygon points="577.7,277.8 585.0,277.9 585.0,287.1 577.7,287.2" fill="#d70000"/>
<polygon points="584.7,277.9 591.9,278.1 591.9,287.0 584.7,287.1" fill="#d60000"/>
<polygon points="591.6,278.1 598.9,279.7 598.9,288.4 591.6,287.0" fill="#d50000"/>
<polygon points="598.6,279.7 605.8,282.4 605.8,290.8 598.6,288.4" fill="#d40000"/>
<polygon points="605.5,282.4 612.8,285.2 612.8,293.3 605.5,290.8" fill="#d30000"/>
<polygon points="612.5,285.2 619.7,287.3 619.7,295.2 612.5,293.3" fill="#d30000"/>
<polygon points="619.4,287.3 626.7,289.3 626.7,297.2 619.4,295.2" fill="#d20000"/>
<polygon points="626.4,289.3 633.6,291.0 633.6,298.9 626.4,297.2" fill="#d20000"/>
<polygon points="633.3,291.0 640.6,292.1 640.6,300.0 633.3,298.9" fill="#d10000"/>
<polygon points="640.3,292.1 647.5,292.7 647.5,300.6 640.3,300.0" fill="#d10000"/>
<polygon points="647.2,292.7 654.5,293.2 654.5,301.1 647.2,300.6" fill="#d10000"/>
<polygon points="654.2,293.2 661.4,293.5 661.4,301.4 654.2,301.1" fill="#d10000"/>
<polygon points="661.1,293.5 668.4,293.4 668.4,301.3 661.1,301.4" fill="#d10000"/>
<polygon points="668.1,293.4 675.3,292.3 675.3,300.2 668.1,301.3" fill="#d00000"/>
<polygon points="675.0,292.3 682.3,290.5 682.3,298.4 675.0,300.2" fill="#d00000"/>
<polygon points="682.0,290.5 689.2,288.8 689.2,296.7 682.0,298.4" fill="#cf0000"/>
<polygon points="688.9,288.8 696.2,287.2 696.2,295.1 688.9,296.7" fill="#ce0000"/>
<polygon points="695.9,287.2 703.1,285.3 703.1,293.3 695.9,295.1" fill="#cd0000"/>
<polygon points="702.8,285.3 710.1,283.9 710.1,291.9 702.8,293.3" fill="#cc0000"/>
<polygon points="709.8,283.9 717.0,283.6 717.0,291.5 709.8,291.9" fill="#ca0000"/>
<polygon points="716.7,283.6 724.0,283.9 724.0,291.9 716.7,291.5" fill="#c90000"/>
<polygon points="723.7,283.9 730.9,284.7 730.9,292.6 723.7,291.9" fill="#c70000"/>
<polygon points="730.6,284.7 737.9,285.7 737.9,293.6 730.6,292.6" fill="#c50000"/>
<polygon points="737.6,285.7 744.8,286.9 744.8,294.9 737.6,293.6" fill="#c20000"/>
<polygon points="744.5,286.9 751.8,288.8 751.8,297.1 744.5,294.9" fill="#c00000"/>
<polygon points="751.5,288.8 758.7,291.0 758.7,299.6 751.5,297.1" fill="#be0000"/>
<polygon points="758.4,291.0 765.7,292.7 765.7,302.5 758.4,299.6" fill="#be0000"/>
<polygon points="765.4,292.7 772.6,293.6 772.6,306.7 765.4,302.5" fill="#c20000"/>
<polygon points="772.3,293.6 779.6,294.3 779.6,311.4 772.3,306.7" fill="#ca0000"/>
<polygon points="779.3,294.3 786.5,294.3 786.5,315.0 779.3,311.4" fill="#d20000"/>
<polygon points="786.2,294.3 793.5,292.8 793.5,317.2 786.2,315.0" fill="#d90000"/>
<polygon points="793.2,292.8 800.4,290.8 800.4,319.2 793.2,317.2" fill="#e00000"/>
<polygon points="800.1,290.8 807.4,289.2 807.4,320.8 800.1,319.2" fill="#e60000"/>
<polygon points="807.1,289.2 814.3,288.5 814.3,321.5 807.1,320.8" fill="#eb0000"/>
<polygon points="814.0,288.5 821.3,288.5 821.3,321.5 814.0,321.5" fill="#ec0000"/>
<polygon points="821.0,288.5 828.2,288.8 828.2,321.2 821.0,321.5" fill="#eb0000"/>
<polygon points="827.9,288.8 835.2,289.3 835.2,320.7 827.9,321.2" fill="#eb0000"/>
<polygon points="834.9,289.3 842.1,289.8 842.1,320.1 834.9,320.7" fill="#e90000"/>
<polygon points="841.8,289.8 849.1,290.0 849.1,319.1 841.8,320.1" fill="#e80000"/>
<polygon points="848.8,290.0 856.0,290.1 856.0,317.5 848.8,319.1" fill="#e70000"/>
<polygon points="855.7,290.1 863.0,290.4 863.0,315.3 855.7,317.5" fill="#e60000"/>
<polygon points="862.7,290.4 869.9,290.7 869.9,312.9 862.7,315.3" fill="#e50000"/>
<polygon points="869.6,290.7 876.9,290.7 876.9,310.4 869.6,312.9" fill="#e40000"/>
<polygon points="876.6,290.7 883.8,290.1 883.8,307.9 876.6,310.4" fill="#e30000"/>
<polygon points="883.5,290.1 890.8,289.4 890.8,305.4 883.5,307.9" fill="#e10000"/>
<polygon points="890.5,289.4 897.7,288.3 897.7,302.7 890.5,305.4" fill="#e00000"/>
<polygon points="897.4,288.3 904.7,286.7 904.7,300.0 897.4,302.7" fill="#df0000"/>
<polygon points="904.4,286.7 911.6,284.7 911.6,297.6 904.4,300.0" fill="#de0000"/>
<polygon points="911.3,284.7 918.6,282.5 918.6,295.5 911.3,297.6" fill="#de0000"/>
<polygon points="918.3,282.5 925.5,280.2 925.5,293.2 918.3,295.5" fill="#de0000"/>
<polygon points="925.2,280.2 932.5,278.0 932.5,291.0 925.2,293.2" fill="#de0000"/>
<polygon points="932.2,278.0 939.4,276.2 939.4,289.2 932.2,291.0" fill="#de0000"/>
<polygon points="939.1,276.2 946.4,275.0 946.4,287.9 939.1,289.2" fill="#de0000"/>
<polygon points="946.1,275.0 953.3,274.0 953.3,286.9 946.1,287.9" fill="#df0000"/>
<polygon points="953.0,274.0 960.3,273.0 960.3,286.0 953.0,286.9" fill="#df0000"/>
<polygon points="960.0,273.0 967.2,272.0 967.2,284.9 960.0,286.0" fill="#e00000"/>
<polygon points="966.9,272.0 974.2,270.8 974.2,283.7 966.9,284.9" fill="#e10000"/>
<polygon points="973.9,270.8 981.1,269.6 981.1,282.5 973.9,283.7" fill="#e20000"/>
<polygon points="980.8,269.6 988.1,269.5 988.1,282.5 980.8,282.5" fill="#e30000"/>
<polygon points="987.8,269.5 995.0,269.5 995.0,282.5 987.8,282.5" fill="#e30000"/>
<polygon points="994.7,269.5 1002.0,269.5 1002.0,282.5 994.7,282.5" fill="#e30000"/>
</g>
<g filter="url(#b3)">
<polygon points="119.0,383.0 126.0,383.0 132.9,383.0 139.9,383.0 146.8,382.4 153.8,381.2 160.7,379.7 167.7,377.8 174.6,375.5 181.6,371.9 188.5,367.6 195.5,363.7 202.4,361.1 209.4,359.0 216.3,357.1 223.3,355.7 230.2,355.0 237.2,355.7 244.1,358.3 251.1,361.9 258.0,365.7 265.0,369.1 271.9,372.9 278.9,376.8 285.8,380.4 292.8,383.0 299.7,384.7 306.7,386.0 313.6,387.1 320.6,388.5 327.5,390.1 334.5,392.1 341.4,394.2 348.4,396.3 355.3,398.4 362.3,400.5 369.2,402.7 376.2,404.9 383.1,406.8 390.1,408.6 397.0,410.6 404.0,412.2 410.9,413.3 417.9,413.5 424.8,413.0 431.8,412.2 438.7,411.2 445.7,409.6 452.6,406.7 459.6,403.3 466.5,399.8 473.5,396.8 480.4,393.7 487.4,390.8 494.3,388.1 501.3,385.9 508.2,384.1 515.2,382.3 522.1,380.9 529.1,380.1 536.0,380.1 543.0,380.6 549.9,381.4 556.9,382.3 563.8,383.2 570.8,384.2 577.7,385.2 584.7,386.4 591.6,387.8 598.6,389.3 605.5,391.2 612.5,393.1 619.4,395.1 626.4,396.8 633.3,398.5 640.3,400.1 647.2,401.6 654.2,403.0 661.1,404.5 668.1,406.0 675.0,407.3 682.0,408.0 688.9,407.7 695.9,406.7 702.8,405.3 709.8,402.6 716.7,400.7 723.7,399.5 730.6,398.5 737.6,398.0 744.5,398.4 751.5,400.2 758.4,402.8 765.4,405.4 772.3,407.4 779.3,409.2 786.2,410.8 793.2,412.2 800.1,413.4 807.1,414.3 814.0,415.2 821.0,416.0 827.9,416.4 834.9,416.3 841.8,414.7 848.8,412.1 855.7,409.3 862.7,406.8 869.6,404.7 876.6,402.7 883.5,400.7 890.5,398.7 897.4,396.7 904.4,394.9 911.3,393.1 918.3,390.9 925.2,387.9 932.2,383.2 939.1,377.2 946.1,370.9 953.0,365.3 960.0,360.8 966.9,356.5 973.9,352.6 980.8,349.1 987.8,349.0 994.7,349.0 1001.7,349.0 1001.7,472.8 994.7,472.8 987.8,472.8 980.8,472.9 973.9,475.1 966.9,477.5 960.0,479.9 953.0,482.4 946.1,485.0 939.1,487.9 932.2,490.6 925.2,493.2 918.3,495.5 911.3,497.6 904.4,499.6 897.4,501.6 890.5,503.7 883.5,505.8 876.6,507.8 869.6,510.0 862.7,512.3 855.7,515.2 848.8,518.9 841.8,522.3 834.9,524.4 827.9,524.6 821.0,524.3 814.0,523.6 807.1,522.6 800.1,521.5 793.2,519.4 786.2,515.9 779.3,511.7 772.3,507.1 765.4,501.9 758.4,494.5 751.5,487.2 744.5,482.1 737.6,481.0 730.6,481.3 723.7,481.9 716.7,482.8 709.8,484.8 702.8,488.6 695.9,492.2 688.9,495.9 682.0,497.0 675.0,496.3 668.1,495.1 661.1,493.6 654.2,492.0 647.2,490.1 640.3,487.7 633.3,485.3 626.4,483.5 619.4,482.6 612.5,482.0 605.5,481.4 598.6,481.1 591.6,481.0 584.7,481.2 577.7,481.7 570.8,482.3 563.8,482.9 556.9,483.3 549.9,483.7 543.0,484.1 536.0,484.6 529.1,485.3 522.1,486.2 515.2,487.5 508.2,489.1 501.3,490.9 494.3,493.8 487.4,498.1 480.4,502.8 473.5,507.4 466.5,511.2 459.6,515.4 452.6,519.4 445.7,522.2 438.7,523.0 431.8,522.8 424.8,522.5 417.9,521.9 410.9,521.0 404.0,518.7 397.0,515.5 390.1,511.9 383.1,508.6 376.2,505.2 369.2,501.6 362.3,497.9 355.3,494.6 348.4,491.4 341.4,488.2 334.5,485.3 327.5,483.0 320.6,481.6 313.6,480.8 306.7,480.2 299.7,479.6 292.8,479.0 285.8,478.2 278.9,477.3 271.9,476.5 265.0,476.1 258.0,476.0 251.1,476.0 244.1,476.0 237.2,476.0 230.2,476.0 223.3,476.7 216.3,478.1 209.4,479.9 202.4,481.7 195.5,483.5 188.5,485.9 181.6,488.2 174.6,490.2 167.7,491.4 160.7,492.4 153.8,493.2 146.8,493.8 139.9,494.0 132.9,494.0 126.0,494.0 119.0,494.0" fill="#340000"/>
<polygon points="119.0,392.6 126.0,392.6 132.9,392.6 139.9,392.6 146.8,392.0 153.8,390.8 160.7,389.3 167.7,387.4 174.6,385.1 181.6,381.5 188.5,377.2 195.5,373.3 202.4,370.7 209.4,368.6 216.3,366.7 223.3,365.3 230.2,364.6 237.2,365.3 244.1,367.9 251.1,371.5 258.0,375.3 265.0,378.7 271.9,382.5 278.9,386.4 285.8,390.0 292.8,392.6 299.7,394.3 306.7,395.6 313.6,396.7 320.6,398.1 327.5,399.7 334.5,401.7 341.4,403.8 348.4,405.9 355.3,408.0 362.3,410.1 369.2,412.3 376.2,414.5 383.1,416.4 390.1,418.2 397.0,420.2 404.0,421.8 410.9,422.9 417.9,423.1 424.8,422.6 431.8,421.8 438.7,420.8 445.7,419.2 452.6,416.3 459.6,412.9 466.5,409.4 473.5,406.4 480.4,403.3 487.4,400.4 494.3,397.7 501.3,395.5 508.2,393.7 515.2,391.9 522.1,390.5 529.1,389.7 536.0,389.7 543.0,390.2 549.9,391.0 556.9,391.9 563.8,392.8 570.8,393.8 577.7,394.8 584.7,396.0 591.6,397.4 598.6,398.9 605.5,400.8 612.5,402.7 619.4,404.7 626.4,406.4 633.3,408.1 640.3,409.7 647.2,411.2 654.2,412.6 661.1,414.1 668.1,415.6 675.0,416.9 682.0,417.6 688.9,417.3 695.9,416.3 702.8,414.9 709.8,412.2 716.7,410.3 723.7,409.1 730.6,408.1 737.6,407.6 744.5,408.0 751.5,409.8 758.4,412.4 765.4,415.0 772.3,417.0 779.3,418.8 786.2,420.4 793.2,421.8 800.1,423.0 807.1,423.9 814.0,424.8 821.0,425.6 827.9,426.0 834.9,425.9 841.8,424.3 848.8,421.7 855.7,418.9 862.7,416.4 869.6,414.3 876.6,412.3 883.5,410.3 890.5,408.3 897.4,406.3 904.4,404.5 911.3,402.7 918.3,400.5 925.2,397.5 932.2,392.8 939.1,386.8 946.1,380.5 953.0,374.9 960.0,370.4 966.9,366.1 973.9,362.2 980.8,358.7 987.8,358.6 994.7,358.6 1001.7,358.6 1001.7,464.8 994.7,464.8 987.8,464.8 980.8,464.9 973.9,467.1 966.9,469.5 960.0,471.9 953.0,474.4 946.1,477.0 939.1,479.9 932.2,482.6 925.2,485.2 918.3,487.5 911.3,489.6 904.4,491.6 897.4,493.6 890.5,495.7 883.5,497.8 876.6,499.8 869.6,502.0 862.7,504.3 855.7,507.2 848.8,510.9 841.8,514.3 834.9,516.4 827.9,516.6 821.0,516.3 814.0,515.6 807.1,514.6 800.1,513.5 793.2,511.4 786.2,507.9 779.3,503.7 772.3,499.1 765.4,493.9 758.4,486.5 751.5,479.2 744.5,474.1 737.6,473.0 730.6,473.3 723.7,473.9 716.7,474.8 709.8,476.8 702.8,480.6 695.9,484.2 688.9,487.9 682.0,489.0 675.0,488.3 668.1,487.1 661.1,485.6 654.2,484.0 647.2,482.1 640.3,479.7 633.3,477.3 626.4,475.5 619.4,474.6 612.5,474.0 605.5,473.4 598.6,473.1 591.6,473.0 584.7,473.2 577.7,473.7 570.8,474.3 563.8,474.9 556.9,475.3 549.9,475.7 543.0,476.1 536.0,476.6 529.1,477.3 522.1,478.2 515.2,479.5 508.2,481.1 501.3,482.9 494.3,485.8 487.4,490.1 480.4,494.8 473.5,499.4 466.5,503.2 459.6,507.4 452.6,511.4 445.7,514.2 438.7,515.0 431.8,514.8 424.8,514.5 417.9,513.9 410.9,513.0 404.0,510.7 397.0,507.5 390.1,503.9 383.1,500.6 376.2,497.2 369.2,493.6 362.3,489.9 355.3,486.6 348.4,483.4 341.4,480.2 334.5,477.3 327.5,475.0 320.6,473.6 313.6,472.8 306.7,472.2 299.7,471.6 292.8,471.0 285.8,470.2 278.9,469.3 271.9,468.5 265.0,468.1 258.0,468.0 251.1,468.0 244.1,468.0 237.2,468.0 230.2,468.0 223.3,468.7 216.3,470.1 209.4,471.9 202.4,473.7 195.5,475.5 188.5,477.9 181.6,480.2 174.6,482.2 167.7,483.4 160.7,484.4 153.8,485.2 146.8,485.8 139.9,486.0 132.9,486.0 126.0,486.0 119.0,486.0" fill="#420000"/>
<polygon points="119.0,401.0 126.0,401.0 132.9,401.0 139.9,401.0 146.8,400.4 153.8,399.2 160.7,397.7 167.7,395.8 174.6,393.5 181.6,389.9 188.5,385.6 195.5,381.7 202.4,379.1 209.4,377.0 216.3,375.1 223.3,373.7 230.2,373.0 237.2,373.7 244.1,376.3 251.1,379.9 258.0,383.7 265.0,387.1 271.9,390.9 278.9,394.8 285.8,398.4 292.8,401.0 299.7,402.7 306.7,404.0 313.6,405.1 320.6,406.5 327.5,408.1 334.5,410.1 341.4,412.2 348.4,414.3 355.3,416.4 362.3,418.5 369.2,420.7 376.2,422.9 383.1,424.8 390.1,426.6 397.0,428.6 404.0,430.2 410.9,431.3 417.9,431.5 424.8,431.0 431.8,430.2 438.7,429.2 445.7,427.6 452.6,424.7 459.6,421.3 466.5,417.8 473.5,414.8 480.4,411.7 487.4,408.8 494.3,406.1 501.3,403.9 508.2,402.1 515.2,400.3 522.1,398.9 529.1,398.1 536.0,398.1 543.0,398.6 549.9,399.4 556.9,400.3 563.8,401.2 570.8,402.2 577.7,403.2 584.7,404.4 591.6,405.8 598.6,407.3 605.5,409.2 612.5,411.1 619.4,413.1 626.4,414.8 633.3,416.5 640.3,418.1 647.2,419.6 654.2,421.0 661.1,422.5 668.1,424.0 675.0,425.3 682.0,426.0 688.9,425.7 695.9,424.7 702.8,423.3 709.8,420.6 716.7,418.7 723.7,417.5 730.6,416.5 737.6,416.0 744.5,416.4 751.5,418.2 758.4,420.8 765.4,423.4 772.3,425.4 779.3,427.2 786.2,428.8 793.2,430.2 800.1,431.4 807.1,432.3 814.0,433.2 821.0,434.0 827.9,434.4 834.9,434.3 841.8,432.7 848.8,430.1 855.7,427.3 862.7,424.8 869.6,422.7 876.6,420.7 883.5,418.7 890.5,416.7 897.4,414.7 904.4,412.9 911.3,411.1 918.3,408.9 925.2,405.9 932.2,401.2 939.1,395.2 946.1,388.9 953.0,383.3 960.0,378.8 966.9,374.5 973.9,370.6 980.8,367.1 987.8,367.0 994.7,367.0 1001.7,367.0 1001.7,457.8 994.7,457.8 987.8,457.8 980.8,457.9 973.9,460.1 966.9,462.5 960.0,464.9 953.0,467.4 946.1,470.0 939.1,472.9 932.2,475.6 925.2,478.2 918.3,480.5 911.3,482.6 904.4,484.6 897.4,486.6 890.5,488.7 883.5,490.8 876.6,492.8 869.6,495.0 862.7,497.3 855.7,500.2 848.8,503.9 841.8,507.3 834.9,509.4 827.9,509.6 821.0,509.3 814.0,508.6 807.1,507.6 800.1,506.5 793.2,504.4 786.2,500.9 779.3,496.7 772.3,492.1 765.4,486.9 758.4,479.5 751.5,472.2 744.5,467.1 737.6,466.0 730.6,466.3 723.7,466.9 716.7,467.8 709.8,469.8 702.8,473.6 695.9,477.2 688.9,480.9 682.0,482.0 675.0,481.3 668.1,480.1 661.1,478.6 654.2,477.0 647.2,475.1 640.3,472.7 633.3,470.3 626.4,468.5 619.4,467.6 612.5,467.0 605.5,466.4 598.6,466.1 591.6,466.0 584.7,466.2 577.7,466.7 570.8,467.3 563.8,467.9 556.9,468.3 549.9,468.7 543.0,469.1 536.0,469.6 529.1,470.3 522.1,471.2 515.2,472.5 508.2,474.1 501.3,475.9 494.3,478.8 487.4,483.1 480.4,487.8 473.5,492.4 466.5,496.2 459.6,500.4 452.6,504.4 445.7,507.2 438.7,508.0 431.8,507.8 424.8,507.5 417.9,506.9 410.9,506.0 404.0,503.7 397.0,500.5 390.1,496.9 383.1,493.6 376.2,490.2 369.2,486.6 362.3,482.9 355.3,479.6 348.4,476.4 341.4,473.2 334.5,470.3 327.5,468.0 320.6,466.6 313.6,465.8 306.7,465.2 299.7,464.6 292.8,464.0 285.8,463.2 278.9,462.3 271.9,461.5 265.0,461.1 258.0,461.0 251.1,461.0 244.1,461.0 237.2,461.0 230.2,461.0 223.3,461.7 216.3,463.1 209.4,464.9 202.4,466.7 195.5,468.5 188.5,470.9 181.6,473.2 174.6,475.2 167.7,476.4 160.7,477.4 153.8,478.2 146.8,478.8 139.9,479.0 132.9,479.0 126.0,479.0 119.0,479.0" fill="#500000"/>
<polygon points="119.0,407.0 126.0,407.0 132.9,407.0 139.9,407.0 146.8,406.4 153.8,405.2 160.7,403.7 167.7,401.8 174.6,399.5 181.6,395.9 188.5,391.6 195.5,387.7 202.4,385.1 209.4,383.0 216.3,381.1 223.3,379.7 230.2,379.0 237.2,379.7 244.1,382.3 251.1,385.9 258.0,389.7 265.0,393.1 271.9,396.9 278.9,400.8 285.8,404.4 292.8,407.0 299.7,408.7 306.7,410.0 313.6,411.1 320.6,412.5 327.5,414.1 334.5,416.1 341.4,418.2 348.4,420.3 355.3,422.4 362.3,424.5 369.2,426.7 376.2,428.9 383.1,430.8 390.1,432.6 397.0,434.6 404.0,436.2 410.9,437.3 417.9,437.5 424.8,437.0 431.8,436.2 438.7,435.2 445.7,433.6 452.6,430.7 459.6,427.3 466.5,423.8 473.5,420.8 480.4,417.7 487.4,414.8 494.3,412.1 501.3,409.9 508.2,408.1 515.2,406.3 522.1,404.9 529.1,404.1 536.0,404.1 543.0,404.6 549.9,405.4 556.9,406.3 563.8,407.2 570.8,408.2 577.7,409.2 584.7,410.4 591.6,411.8 598.6,413.3 605.5,415.2 612.5,417.1 619.4,419.1 626.4,420.8 633.3,422.5 640.3,424.1 647.2,425.6 654.2,427.0 661.1,428.5 668.1,430.0 675.0,431.3 682.0,432.0 688.9,431.7 695.9,430.7 702.8,429.3 709.8,426.6 716.7,424.7 723.7,423.5 730.6,422.5 737.6,422.0 744.5,422.4 751.5,424.2 758.4,426.8 765.4,429.4 772.3,431.4 779.3,433.2 786.2,434.8 793.2,436.2 800.1,437.4 807.1,438.3 814.0,439.2 821.0,440.0 827.9,440.4 834.9,440.3 841.8,438.7 848.8,436.1 855.7,433.3 862.7,430.8 869.6,428.7 876.6,426.7 883.5,424.7 890.5,422.7 897.4,420.7 904.4,418.9 911.3,417.1 918.3,414.9 925.2,411.9 932.2,407.2 939.1,401.2 946.1,394.9 953.0,389.3 960.0,384.8 966.9,380.5 973.9,376.6 980.8,373.1 987.8,373.0 994.7,373.0 1001.7,373.0 1001.7,452.8 994.7,452.8 987.8,452.8 980.8,452.9 973.9,455.1 966.9,457.5 960.0,459.9 953.0,462.4 946.1,465.0 939.1,467.9 932.2,470.6 925.2,473.2 918.3,475.5 911.3,477.6 904.4,479.6 897.4,481.6 890.5,483.7 883.5,485.8 876.6,487.8 869.6,490.0 862.7,492.3 855.7,495.2 848.8,498.9 841.8,502.3 834.9,504.4 827.9,504.6 821.0,504.3 814.0,503.6 807.1,502.6 800.1,501.5 793.2,499.4 786.2,495.9 779.3,491.7 772.3,487.1 765.4,481.9 758.4,474.5 751.5,467.2 744.5,462.1 737.6,461.0 730.6,461.3 723.7,461.9 716.7,462.8 709.8,464.8 702.8,468.6 695.9,472.2 688.9,475.9 682.0,477.0 675.0,476.3 668.1,475.1 661.1,473.6 654.2,472.0 647.2,470.1 640.3,467.7 633.3,465.3 626.4,463.5 619.4,462.6 612.5,462.0 605.5,461.4 598.6,461.1 591.6,461.0 584.7,461.2 577.7,461.7 570.8,462.3 563.8,462.9 556.9,463.3 549.9,463.7 543.0,464.1 536.0,464.6 529.1,465.3 522.1,466.2 515.2,467.5 508.2,469.1 501.3,470.9 494.3,473.8 487.4,478.1 480.4,482.8 473.5,487.4 466.5,491.2 459.6,495.4 452.6,499.4 445.7,502.2 438.7,503.0 431.8,502.8 424.8,502.5 417.9,501.9 410.9,501.0 404.0,498.7 397.0,495.5 390.1,491.9 383.1,488.6 376.2,485.2 369.2,481.6 362.3,477.9 355.3,474.6 348.4,471.4 341.4,468.2 334.5,465.3 327.5,463.0 320.6,461.6 313.6,460.8 306.7,460.2 299.7,459.6 292.8,459.0 285.8,458.2 278.9,457.3 271.9,456.5 265.0,456.1 258.0,456.0 251.1,456.0 244.1,456.0 237.2,456.0 230.2,456.0 223.3,456.7 216.3,458.1 209.4,459.9 202.4,461.7 195.5,463.5 188.5,465.9 181.6,468.2 174.6,470.2 167.7,471.4 160.7,472.4 153.8,473.2 146.8,473.8 139.9,474.0 132.9,474.0 126.0,474.0 119.0,474.0" fill="#5e0000"/>
<polygon points="119.0,412.8 126.0,412.8 132.9,412.8 139.9,412.8 146.8,412.2 153.8,411.1 160.7,409.7 167.7,408.0 174.6,405.9 181.6,402.6 188.5,398.7 195.5,395.1 202.4,392.6 209.4,390.6 216.3,388.7 223.3,387.2 230.2,386.5 237.2,387.0 244.1,389.2 251.1,392.2 258.0,395.5 265.0,398.4 271.9,401.6 278.9,405.0 285.8,408.2 292.8,410.5 299.7,412.0 306.7,413.2 313.6,414.4 320.6,415.7 327.5,417.4 334.5,419.3 341.4,421.5 348.4,423.7 355.3,425.9 362.3,428.1 369.2,430.5 376.2,432.7 383.1,434.8 390.1,436.8 397.0,438.9 404.0,440.7 410.9,441.8 417.9,441.9 424.8,441.4 431.8,440.6 438.7,439.6 445.7,438.0 452.6,434.9 459.6,431.1 466.5,427.4 473.5,424.4 480.4,421.4 487.4,418.5 494.3,416.0 501.3,414.1 508.2,412.5 515.2,411.1 522.1,409.9 529.1,409.2 536.0,409.3 543.0,409.8 549.9,410.5 556.9,411.3 563.8,412.1 570.8,412.8 577.7,413.6 584.7,414.5 591.6,415.5 598.6,416.9 605.5,418.6 612.5,420.5 619.4,422.4 626.4,424.1 633.3,425.8 640.3,427.4 647.2,428.9 654.2,430.3 661.1,431.7 668.1,433.1 675.0,434.3 682.0,435.0 688.9,434.6 695.9,433.2 702.8,431.4 709.8,428.7 716.7,426.7 723.7,425.5 730.6,424.6 737.6,424.1 744.5,424.5 751.5,426.3 758.4,429.1 765.4,431.9 772.3,434.1 779.3,436.2 786.2,438.2 793.2,439.8 800.1,440.9 807.1,441.5 814.0,441.9 821.0,442.2 827.9,442.4 834.9,442.1 841.8,440.6 848.8,438.2 855.7,435.6 862.7,433.4 869.6,431.5 876.6,429.7 883.5,427.9 890.5,426.1 897.4,424.3 904.4,422.6 911.3,420.9 918.3,418.8 925.2,416.0 932.2,411.6 939.1,406.1 946.1,400.3 953.0,395.1 960.0,390.9 966.9,387.0 973.9,383.4 980.8,380.2 987.8,380.1 994.7,380.1 1001.7,380.1 1001.7,449.9 994.7,449.9 987.8,449.9 980.8,449.9 973.9,452.1 966.9,454.4 960.0,456.7 953.0,459.2 946.1,461.9 939.1,464.8 932.2,467.6 925.2,470.2 918.3,472.4 911.3,474.4 904.4,476.4 897.4,478.3 890.5,480.3 883.5,482.4 876.6,484.5 869.6,486.6 862.7,488.9 855.7,491.7 848.8,495.1 841.8,498.3 834.9,500.3 827.9,500.6 821.0,500.3 814.0,499.6 807.1,498.7 800.1,497.6 793.2,495.3 786.2,491.6 779.3,487.3 772.3,482.8 765.4,477.8 758.4,471.0 751.5,464.2 744.5,459.5 737.6,458.5 730.6,458.8 723.7,459.5 716.7,460.4 709.8,462.4 702.8,466.1 695.9,469.7 688.9,473.5 682.0,474.5 675.0,473.9 668.1,472.8 661.1,471.3 654.2,469.8 647.2,468.0 640.3,465.8 633.3,463.5 626.4,461.7 619.4,460.8 612.5,460.1 605.5,459.4 598.6,459.0 591.6,458.9 584.7,459.2 577.7,459.8 570.8,460.4 563.8,461.0 556.9,461.4 549.9,461.7 543.0,462.0 536.0,462.4 529.1,462.9 522.1,463.7 515.2,464.8 508.2,466.1 501.3,467.7 494.3,470.3 487.4,474.2 480.4,478.7 473.5,483.0 466.5,486.8 459.6,491.3 452.6,495.5 445.7,498.6 438.7,499.6 431.8,499.6 424.8,499.2 417.9,498.8 410.9,497.8 404.0,495.6 397.0,492.4 390.1,488.9 383.1,485.6 376.2,482.3 369.2,478.8 362.3,475.3 355.3,472.0 348.4,468.9 341.4,465.8 334.5,462.9 327.5,460.6 320.6,459.3 313.6,458.4 306.7,457.6 299.7,457.0 292.8,456.4 285.8,455.7 278.9,454.8 271.9,454.1 265.0,453.7 258.0,453.7 251.1,453.8 244.1,453.9 237.2,454.0 230.2,454.1 223.3,454.9 216.3,456.4 209.4,458.2 202.4,460.1 195.5,462.0 188.5,464.2 181.6,466.6 174.6,468.5 167.7,469.7 160.7,470.6 153.8,471.5 146.8,472.1 139.9,472.3 132.9,472.3 126.0,472.3 119.0,472.3" fill="#710000"/>
<polygon points="119.0,420.4 126.0,420.4 132.9,420.4 139.9,420.4 146.8,419.9 153.8,419.0 160.7,417.7 167.7,416.2 174.6,414.4 181.6,411.5 188.5,408.2 195.5,405.0 202.4,402.7 209.4,400.7 216.3,398.8 223.3,397.3 230.2,396.5 237.2,396.8 244.1,398.4 251.1,400.6 258.0,403.1 265.0,405.4 271.9,408.0 278.9,410.7 285.8,413.2 292.8,415.1 299.7,416.5 306.7,417.6 313.6,418.8 320.6,420.1 327.5,421.7 334.5,423.7 341.4,425.9 348.4,428.3 355.3,430.6 362.3,432.9 369.2,435.4 376.2,437.9 383.1,440.1 390.1,442.3 397.0,444.6 404.0,446.7 410.9,447.9 417.9,447.9 424.8,447.4 431.8,446.5 438.7,445.6 445.7,443.8 452.6,440.4 459.6,436.2 466.5,432.2 473.5,429.2 480.4,426.3 487.4,423.6 494.3,421.3 501.3,419.7 508.2,418.5 515.2,417.4 522.1,416.6 529.1,416.1 536.0,416.2 543.0,416.6 549.9,417.3 556.9,418.0 563.8,418.6 570.8,419.0 577.7,419.4 584.7,419.9 591.6,420.6 598.6,421.7 605.5,423.2 612.5,425.0 619.4,426.8 626.4,428.5 633.3,430.1 640.3,431.7 647.2,433.3 654.2,434.6 661.1,436.0 668.1,437.3 675.0,438.4 682.0,439.0 688.9,438.5 695.9,436.4 702.8,434.2 709.8,431.4 716.7,429.5 723.7,428.3 730.6,427.3 737.6,426.8 744.5,427.2 751.5,429.2 758.4,432.1 765.4,435.2 772.3,437.7 779.3,440.2 786.2,442.7 793.2,444.5 800.1,445.6 807.1,445.7 814.0,445.5 821.0,445.3 827.9,444.9 834.9,444.5 841.8,443.1 848.8,441.1 855.7,438.8 862.7,436.9 869.6,435.3 876.6,433.7 883.5,432.2 890.5,430.7 897.4,429.1 904.4,427.5 911.3,425.9 918.3,424.0 925.2,421.5 932.2,417.5 939.1,412.6 946.1,407.5 953.0,402.9 960.0,399.2 966.9,395.7 973.9,392.5 980.8,389.6 987.8,389.6 994.7,389.6 1001.7,389.6 1001.7,446.0 994.7,446.0 987.8,446.0 980.8,446.0 973.9,448.1 966.9,450.3 960.0,452.6 953.0,455.0 946.1,457.7 939.1,460.6 932.2,463.5 925.2,466.1 918.3,468.3 911.3,470.2 904.4,472.0 897.4,473.8 890.5,475.8 883.5,477.9 876.6,480.0 869.6,482.1 862.7,484.3 855.7,486.9 848.8,490.0 841.8,492.9 834.9,494.7 827.9,495.2 821.0,495.0 814.0,494.4 807.1,493.4 800.1,492.3 793.2,489.9 786.2,486.0 779.3,481.4 772.3,476.9 765.4,472.3 758.4,466.2 751.5,460.2 744.5,456.1 737.6,455.2 730.6,455.6 723.7,456.3 716.7,457.2 709.8,459.2 702.8,462.8 695.9,466.4 688.9,470.2 682.0,471.3 675.0,470.7 668.1,469.6 661.1,468.3 654.2,466.9 647.2,465.2 640.3,463.1 633.3,461.0 626.4,459.3 619.4,458.4 612.5,457.5 605.5,456.8 598.6,456.3 591.6,456.2 584.7,456.5 577.7,457.2 570.8,457.9 563.8,458.5 556.9,458.8 549.9,458.9 543.0,459.1 536.0,459.3 529.1,459.7 522.1,460.3 515.2,461.1 508.2,462.1 501.3,463.4 494.3,465.5 487.4,469.0 480.4,473.1 473.5,477.2 466.5,481.0 459.6,485.7 452.6,490.4 445.7,493.9 438.7,495.2 431.8,495.2 424.8,494.9 417.9,494.5 410.9,493.6 404.0,491.4 397.0,488.3 390.1,484.9 383.1,481.7 376.2,478.5 369.2,475.1 362.3,471.7 355.3,468.5 348.4,465.5 341.4,462.5 334.5,459.7 327.5,457.5 320.6,456.1 313.6,455.1 306.7,454.3 299.7,453.6 292.8,453.0 285.8,452.3 278.9,451.6 271.9,451.0 265.0,450.7 258.0,450.7 251.1,450.8 244.1,451.1 237.2,451.3 230.2,451.6 223.3,452.5 216.3,454.2 209.4,456.1 202.4,458.0 195.5,459.9 188.5,462.1 181.6,464.3 174.6,466.1 167.7,467.3 160.7,468.3 153.8,469.2 146.8,469.8 139.9,470.0 132.9,470.0 126.0,470.0 119.0,470.0" fill="#890000"/>
<polygon points="119.0,430.0 126.0,430.0 132.9,430.0 139.9,430.0 146.8,429.6 153.8,428.8 160.7,427.8 167.7,426.5 174.6,425.0 181.6,422.7 188.5,420.0 195.5,417.3 202.4,415.3 209.4,413.3 216.3,411.4 223.3,409.9 230.2,409.0 237.2,409.0 244.1,409.8 251.1,411.2 258.0,412.7 265.0,414.2 271.9,415.9 278.9,417.7 285.8,419.5 292.8,420.9 299.7,422.0 306.7,423.1 313.6,424.2 320.6,425.5 327.5,427.1 334.5,429.2 341.4,431.5 348.4,434.0 355.3,436.4 362.3,439.0 369.2,441.6 376.2,444.3 383.1,446.7 390.1,449.2 397.0,451.8 404.0,454.1 410.9,455.4 417.9,455.4 424.8,454.7 431.8,453.9 438.7,453.0 445.7,451.2 452.6,447.3 459.6,442.6 466.5,438.2 473.5,435.2 480.4,432.4 487.4,429.9 494.3,427.9 501.3,426.7 508.2,426.0 515.2,425.4 522.1,424.9 529.1,424.7 536.0,424.8 543.0,425.2 549.9,425.8 556.9,426.3 563.8,426.7 570.8,426.8 577.7,426.6 584.7,426.6 591.6,426.8 598.6,427.7 605.5,429.0 612.5,430.6 619.4,432.4 626.4,433.9 633.3,435.6 640.3,437.2 647.2,438.7 654.2,440.0 661.1,441.3 668.1,442.5 675.0,443.5 682.0,444.1 688.9,443.3 695.9,440.4 702.8,437.8 709.8,434.8 716.7,432.9 723.7,431.7 730.6,430.7 737.6,430.2 744.5,430.7 751.5,432.8 758.4,435.9 765.4,439.3 772.3,442.2 779.3,445.3 786.2,448.3 793.2,450.5 800.1,451.4 807.1,450.9 814.0,450.0 821.0,449.0 827.9,448.2 834.9,447.5 841.8,446.3 848.8,444.6 855.7,442.8 862.7,441.3 869.6,439.9 876.6,438.7 883.5,437.5 890.5,436.3 897.4,435.1 904.4,433.7 911.3,432.2 918.3,430.5 925.2,428.3 932.2,424.9 939.1,420.8 946.1,416.4 953.0,412.6 960.0,409.5 966.9,406.6 973.9,403.9 980.8,401.5 987.8,401.4 994.7,401.4 1001.7,401.4 1001.7,441.1 994.7,441.1 987.8,441.1 980.8,441.1 973.9,443.1 966.9,445.1 960.0,447.4 953.0,449.7 946.1,452.5 939.1,455.5 932.2,458.4 925.2,461.0 918.3,463.1 911.3,464.9 904.4,466.5 897.4,468.2 890.5,470.1 883.5,472.3 876.6,474.5 869.6,476.5 862.7,478.6 855.7,481.0 848.8,483.6 841.8,486.1 834.9,487.8 827.9,488.5 821.0,488.4 814.0,487.8 807.1,486.8 800.1,485.7 793.2,483.2 786.2,478.9 779.3,474.1 772.3,469.7 765.4,465.5 758.4,460.2 751.5,455.2 744.5,451.7 737.6,451.0 730.6,451.4 723.7,452.2 716.7,453.3 709.8,455.3 702.8,458.7 695.9,462.2 688.9,466.1 682.0,467.3 675.0,466.7 668.1,465.7 661.1,464.5 654.2,463.2 647.2,461.7 640.3,459.8 633.3,457.9 626.4,456.4 619.4,455.3 612.5,454.3 605.5,453.5 598.6,452.8 591.6,452.7 584.7,453.1 577.7,453.9 570.8,454.7 563.8,455.3 556.9,455.5 549.9,455.5 543.0,455.5 536.0,455.6 529.1,455.8 522.1,456.1 515.2,456.6 508.2,457.2 501.3,458.0 494.3,459.6 487.4,462.5 480.4,466.2 473.5,469.9 466.5,473.7 459.6,478.8 452.6,484.0 445.7,488.1 438.7,489.6 431.8,489.7 424.8,489.6 417.9,489.2 410.9,488.3 404.0,486.1 397.0,483.1 390.1,479.8 383.1,476.8 376.2,473.7 369.2,470.5 362.3,467.2 355.3,464.2 348.4,461.3 341.4,458.4 334.5,455.8 327.5,453.6 320.6,452.1 313.6,451.0 306.7,450.1 299.7,449.3 292.8,448.7 285.8,448.1 278.9,447.5 271.9,447.0 265.0,446.8 258.0,446.9 251.1,447.2 244.1,447.5 237.2,447.9 230.2,448.4 223.3,449.6 216.3,451.3 209.4,453.4 202.4,455.3 195.5,457.2 188.5,459.4 181.6,461.5 174.6,463.2 167.7,464.4 160.7,465.4 153.8,466.2 146.8,466.9 139.9,467.2 132.9,467.2 126.0,467.2 119.0,467.2" fill="#9e0000"/>
<polygon points="119.0,439.6 126.0,439.6 132.9,439.6 139.9,439.6 146.8,439.3 153.8,438.7 160.7,437.8 167.7,436.9 174.6,435.7 181.6,433.9 188.5,431.8 195.5,429.7 202.4,427.8 209.4,425.9 216.3,424.0 223.3,422.4 230.2,421.4 237.2,421.2 244.1,421.3 251.1,421.7 258.0,422.3 265.0,422.9 271.9,423.8 278.9,424.8 285.8,425.8 292.8,426.7 299.7,427.6 306.7,428.5 313.6,429.7 320.6,431.0 327.5,432.6 334.5,434.6 341.4,437.1 348.4,439.7 355.3,442.2 362.3,445.0 369.2,447.9 376.2,450.7 383.1,453.4 390.1,456.1 397.0,459.0 404.0,461.6 410.9,463.0 417.9,462.8 424.8,462.1 431.8,461.2 438.7,460.4 445.7,458.5 452.6,454.2 459.6,449.0 466.5,444.2 473.5,441.2 480.4,438.6 487.4,436.2 494.3,434.4 501.3,433.7 508.2,433.5 515.2,433.3 522.1,433.3 529.1,433.3 536.0,433.5 543.0,433.8 549.9,434.2 556.9,434.6 563.8,434.8 570.8,434.5 577.7,433.9 584.7,433.3 591.6,433.1 598.6,433.6 605.5,434.8 612.5,436.3 619.4,437.9 626.4,439.4 633.3,441.0 640.3,442.7 647.2,444.2 654.2,445.5 661.1,446.6 668.1,447.7 675.0,448.6 682.0,449.1 688.9,448.1 695.9,444.5 702.8,441.3 709.8,438.2 716.7,436.3 723.7,435.1 730.6,434.2 737.6,433.7 744.5,434.1 751.5,436.4 758.4,439.7 765.4,443.4 772.3,446.7 779.3,450.4 786.2,453.9 793.2,456.4 800.1,457.3 807.1,456.2 814.0,454.5 821.0,452.8 827.9,451.4 834.9,450.5 841.8,449.5 848.8,448.1 855.7,446.8 862.7,445.6 869.6,444.6 876.6,443.6 883.5,442.8 890.5,442.0 897.4,441.0 904.4,439.8 911.3,438.6 918.3,437.1 925.2,435.2 932.2,432.4 939.1,428.9 946.1,425.4 953.0,422.3 960.0,419.8 966.9,417.4 973.9,415.2 980.8,413.3 987.8,413.2 994.7,413.2 1001.7,413.2 1001.7,436.2 994.7,436.2 987.8,436.2 980.8,436.3 973.9,438.0 966.9,440.0 960.0,442.2 953.0,444.5 946.1,447.2 939.1,450.3 932.2,453.3 925.2,455.9 918.3,457.9 911.3,459.5 904.4,461.0 897.4,462.6 890.5,464.5 883.5,466.7 876.6,468.9 869.6,470.9 862.7,472.9 855.7,475.0 848.8,477.3 841.8,479.3 834.9,480.9 827.9,481.7 821.0,481.8 814.0,481.2 807.1,480.2 800.1,479.1 793.2,476.4 786.2,471.8 779.3,466.7 772.3,462.4 765.4,458.6 758.4,454.2 751.5,450.2 744.5,447.4 737.6,446.9 730.6,447.3 723.7,448.2 716.7,449.4 709.8,451.3 702.8,454.5 695.9,458.1 688.9,462.0 682.0,463.2 675.0,462.7 668.1,461.8 661.1,460.7 654.2,459.5 647.2,458.2 640.3,456.5 633.3,454.8 626.4,453.4 619.4,452.3 612.5,451.2 605.5,450.1 598.6,449.4 591.6,449.2 584.7,449.7 577.7,450.6 570.8,451.6 563.8,452.2 556.9,452.2 549.9,452.1 543.0,452.0 536.0,451.8 529.1,451.8 522.1,451.9 515.2,452.0 508.2,452.3 501.3,452.6 494.3,453.7 487.4,456.1 480.4,459.2 473.5,462.7 466.5,466.4 459.6,471.8 452.6,477.6 445.7,482.2 438.7,484.0 431.8,484.3 424.8,484.2 417.9,483.8 410.9,483.0 404.0,480.9 397.0,478.0 390.1,474.8 383.1,471.9 376.2,469.0 369.2,465.9 362.3,462.8 355.3,459.9 348.4,457.1 341.4,454.4 334.5,451.8 327.5,449.7 320.6,448.1 313.6,446.9 306.7,445.9 299.7,445.0 292.8,444.4 285.8,443.9 278.9,443.4 271.9,443.1 265.0,443.0 258.0,443.1 251.1,443.5 244.1,444.0 237.2,444.6 230.2,445.3 223.3,446.6 216.3,448.5 209.4,450.7 202.4,452.7 195.5,454.6 188.5,456.7 181.6,458.7 174.6,460.3 167.7,461.5 160.7,462.5 153.8,463.3 146.8,464.0 139.9,464.3 132.9,464.3 126.0,464.3 119.0,464.3" fill="#af0000"/>
<polygon points="119.0,445.4 126.0,445.4 132.9,445.4 139.9,445.4 146.8,445.1 153.8,444.6 160.7,443.9 167.7,443.0 174.6,442.0 181.6,440.6 188.5,438.9 195.5,437.1 202.4,435.4 209.4,433.5 216.3,431.6 223.3,430.0 230.2,428.9 237.2,428.5 244.1,428.2 251.1,428.0 258.0,428.0 265.0,428.2 271.9,428.5 278.9,429.0 285.8,429.6 292.8,430.2 299.7,430.9 306.7,431.8 313.6,432.9 320.6,434.2 327.5,435.8 334.5,437.9 341.4,440.4 348.4,443.1 355.3,445.7 362.3,448.6 369.2,451.6 376.2,454.6 383.1,457.4 390.1,460.2 397.0,463.4 404.0,466.1 410.9,467.5 417.9,467.3 424.8,466.5 431.8,465.6 438.7,464.8 445.7,462.9 452.6,458.4 459.6,452.8 466.5,447.8 473.5,444.8 480.4,442.2 487.4,440.0 494.3,438.4 501.3,437.9 508.2,438.0 515.2,438.1 522.1,438.3 529.1,438.5 536.0,438.7 543.0,439.0 549.9,439.3 556.9,439.6 563.8,439.7 570.8,439.1 577.7,438.2 584.7,437.3 591.6,436.9 598.6,437.2 605.5,438.2 612.5,439.6 619.4,441.2 626.4,442.6 633.3,444.3 640.3,445.9 647.2,447.5 654.2,448.7 661.1,449.8 668.1,450.9 675.0,451.7 682.0,452.2 688.9,450.9 695.9,446.9 702.8,443.4 709.8,440.3 716.7,438.4 723.7,437.1 730.6,436.2 737.6,435.7 744.5,436.2 751.5,438.5 758.4,442.0 765.4,445.9 772.3,449.4 779.3,453.4 786.2,457.3 793.2,460.0 800.1,460.8 807.1,459.4 814.0,457.2 821.0,455.0 827.9,453.3 834.9,452.4 841.8,451.3 848.8,450.3 855.7,449.2 862.7,448.3 869.6,447.4 876.6,446.6 883.5,446.0 890.5,445.4 897.4,444.6 904.4,443.5 911.3,442.3 918.3,441.0 925.2,439.3 932.2,436.8 939.1,433.9 946.1,430.8 953.0,428.2 960.0,426.0 966.9,423.9 973.9,422.1 980.8,420.4 987.8,420.3 994.7,420.3 1001.7,420.3 1001.7,433.3 994.7,433.3 987.8,433.3 980.8,433.3 973.9,435.0 966.9,436.9 960.0,439.0 953.0,441.3 946.1,444.1 939.1,447.2 932.2,450.3 925.2,452.9 918.3,454.8 911.3,456.4 904.4,457.8 897.4,459.2 890.5,461.1 883.5,463.3 876.6,465.5 869.6,467.6 862.7,469.5 855.7,471.4 848.8,473.4 841.8,475.3 834.9,476.7 827.9,477.7 821.0,477.8 814.0,477.3 807.1,476.3 800.1,475.2 793.2,472.4 786.2,467.6 779.3,462.3 772.3,458.0 765.4,454.5 758.4,450.7 751.5,447.2 744.5,444.8 737.6,444.4 730.6,444.8 723.7,445.8 716.7,447.0 709.8,448.9 702.8,452.1 695.9,455.6 688.9,459.6 682.0,460.8 675.0,460.3 668.1,459.5 661.1,458.4 654.2,457.3 647.2,456.1 640.3,454.6 633.3,453.0 626.4,451.6 619.4,450.5 612.5,449.3 605.5,448.1 598.6,447.3 591.6,447.1 584.7,447.7 577.7,448.7 570.8,449.7 563.8,450.3 556.9,450.3 549.9,450.1 543.0,449.8 536.0,449.6 529.1,449.4 522.1,449.4 515.2,449.3 508.2,449.3 501.3,449.3 494.3,450.1 487.4,452.2 480.4,455.1 473.5,458.3 466.5,462.0 459.6,467.7 452.6,473.8 445.7,478.7 438.7,480.6 431.8,481.0 424.8,481.0 417.9,480.6 410.9,479.8 404.0,477.7 397.0,474.9 390.1,471.8 383.1,468.9 376.2,466.1 369.2,463.1 362.3,460.1 355.3,457.3 348.4,454.6 341.4,451.9 334.5,449.4 327.5,447.3 320.6,445.8 313.6,444.5 306.7,443.3 299.7,442.4 292.8,441.8 285.8,441.3 278.9,440.9 271.9,440.7 265.0,440.7 258.0,440.9 251.1,441.3 244.1,441.9 237.2,442.6 230.2,443.4 223.3,444.8 216.3,446.8 209.4,449.0 202.4,451.1 195.5,453.0 188.5,455.0 181.6,457.0 174.6,458.6 167.7,459.8 160.7,460.7 153.8,461.6 146.8,462.3 139.9,462.6 132.9,462.6 126.0,462.6 119.0,462.6" fill="#b80000"/>
</g>
<g filter="url(#b2)">
<polygon points="119.0,445.4 126.2,445.4 126.2,462.6 119.0,462.6" fill="#e30000"/>
<polygon points="126.0,445.4 133.2,445.4 133.2,462.6 126.0,462.6" fill="#e30000"/>
<polygon points="132.9,445.4 140.2,445.4 140.2,462.6 132.9,462.6" fill="#e30000"/>
<polygon points="139.9,445.4 147.1,445.1 147.1,462.3 139.9,462.6" fill="#e30000"/>
<polygon points="146.8,445.1 154.1,444.6 154.1,461.6 146.8,462.3" fill="#e20000"/>
<polygon points="153.8,444.6 161.0,443.9 161.0,460.7 153.8,461.6" fill="#e20000"/>
<polygon points="160.7,443.9 168.0,443.0 168.0,459.8 160.7,460.7" fill="#e20000"/>
<polygon points="167.7,443.0 174.9,442.0 174.9,458.6 167.7,459.8" fill="#e10000"/>
<polygon points="174.6,442.0 181.9,440.6 181.9,457.0 174.6,458.6" fill="#e10000"/>
<polygon points="181.6,440.6 188.8,438.9 188.8,455.0 181.6,457.0" fill="#e10000"/>
<polygon points="188.5,438.9 195.8,437.1 195.8,453.0 188.5,455.0" fill="#e10000"/>
<polygon points="195.5,437.1 202.7,435.4 202.7,451.1 195.5,453.0" fill="#e00000"/>
<polygon points="202.4,435.4 209.7,433.5 209.7,449.0 202.4,451.1" fill="#e00000"/>
<polygon points="209.4,433.5 216.6,431.6 216.6,446.8 209.4,449.0" fill="#e00000"/>
<polygon points="216.3,431.6 223.6,430.0 223.6,444.8 216.3,446.8" fill="#e00000"/>
<polygon points="223.3,430.0 230.5,428.9 230.5,443.4 223.3,444.8" fill="#df0000"/>
<polygon points="230.2,428.9 237.5,428.5 237.5,442.6 230.2,443.4" fill="#df0000"/>
<polygon points="237.2,428.5 244.4,428.2 244.4,441.9 237.2,442.6" fill="#df0000"/>
<polygon points="244.1,428.2 251.4,428.0 251.4,441.3 244.1,441.9" fill="#df0000"/>
<polygon points="251.1,428.0 258.3,428.0 258.3,440.9 251.1,441.3" fill="#df0000"/>
<polygon points="258.0,428.0 265.3,428.2 265.3,440.7 258.0,440.9" fill="#de0000"/>
<polygon points="265.0,428.2 272.2,428.5 272.2,440.7 265.0,440.7" fill="#de0000"/>
<polygon points="271.9,428.5 279.2,429.0 279.2,440.9 271.9,440.7" fill="#de0000"/>
<polygon points="278.9,429.0 286.1,429.6 286.1,441.3 278.9,440.9" fill="#de0000"/>
<polygon points="285.8,429.6 293.1,430.2 293.1,441.8 285.8,441.3" fill="#de0000"/>
<polygon points="292.8,430.2 300.0,430.9 300.0,442.4 292.8,441.8" fill="#de0000"/>
<polygon points="299.7,430.9 307.0,431.8 307.0,443.3 299.7,442.4" fill="#de0000"/>
<polygon points="306.7,431.8 313.9,432.9 313.9,444.5 306.7,443.3" fill="#de0000"/>
<polygon points="313.6,432.9 320.9,434.2 320.9,445.8 313.6,444.5" fill="#de0000"/>
<polygon points="320.6,434.2 327.8,435.8 327.8,447.3 320.6,445.8" fill="#de0000"/>
<polygon points="327.5,435.8 334.8,437.9 334.8,449.4 327.5,447.3" fill="#de0000"/>
<polygon points="334.5,437.9 341.7,440.4 341.7,451.9 334.5,449.4" fill="#de0000"/>
<polygon points="341.4,440.4 348.7,443.1 348.7,454.6 341.4,451.9" fill="#de0000"/>
<polygon points="348.4,443.1 355.6,445.7 355.6,457.3 348.4,454.6" fill="#de0000"/>
<polygon points="355.3,445.7 362.6,448.6 362.6,460.1 355.3,457.3" fill="#de0000"/>
<polygon points="362.3,448.6 369.5,451.6 369.5,463.1 362.3,460.1" fill="#de0000"/>
<polygon points="369.2,451.6 376.5,454.6 376.5,466.1 369.2,463.1" fill="#de0000"/>
<polygon points="376.2,454.6 383.4,457.4 383.4,468.9 376.2,466.1" fill="#de0000"/>
<polygon points="383.1,457.4 390.4,460.2 390.4,471.8 383.1,468.9" fill="#de0000"/>
<polygon points="390.1,460.2 397.3,463.4 397.3,474.9 390.1,471.8" fill="#de0000"/>
<polygon points="397.0,463.4 404.3,466.1 404.3,477.7 397.0,474.9" fill="#de0000"/>
<polygon points="404.0,466.1 411.2,467.5 411.2,479.8 404.0,477.7" fill="#de0000"/>
<polygon points="410.9,467.5 418.2,467.3 418.2,480.6 410.9,479.8" fill="#df0000"/>
<polygon points="417.9,467.3 425.1,466.5 425.1,481.0 417.9,480.6" fill="#e10000"/>
<polygon points="424.8,466.5 432.1,465.6 432.1,481.0 424.8,481.0" fill="#e20000"/>
<polygon points="431.8,465.6 439.0,464.8 439.0,480.6 431.8,481.0" fill="#e20000"/>
<polygon points="438.7,464.8 446.0,462.9 446.0,478.7 438.7,480.6" fill="#e30000"/>
<polygon points="445.7,462.9 452.9,458.4 452.9,473.8 445.7,478.7" fill="#e20000"/>
<polygon points="452.6,458.4 459.9,452.8 459.9,467.7 452.6,473.8" fill="#e20000"/>
<polygon points="459.6,452.8 466.8,447.8 466.8,462.0 459.6,467.7" fill="#e10000"/>
<polygon points="466.5,447.8 473.8,444.8 473.8,458.3 466.5,462.0" fill="#e10000"/>
<polygon points="473.5,444.8 480.7,442.2 480.7,455.1 473.5,458.3" fill="#e00000"/>
<polygon points="480.4,442.2 487.7,440.0 487.7,452.2 480.4,455.1" fill="#df0000"/>
<polygon points="487.4,440.0 494.6,438.4 494.6,450.1 487.4,452.2" fill="#df0000"/>
<polygon points="494.3,438.4 501.6,437.9 501.6,449.3 494.3,450.1" fill="#de0000"/>
<polygon points="501.3,437.9 508.5,438.0 508.5,449.3 501.3,449.3" fill="#de0000"/>
<polygon points="508.2,438.0 515.5,438.1 515.5,449.3 508.2,449.3" fill="#dd0000"/>
<polygon points="515.2,438.1 522.4,438.3 522.4,449.4 515.2,449.3" fill="#dd0000"/>
<polygon points="522.1,438.3 529.4,438.5 529.4,449.4 522.1,449.4" fill="#dd0000"/>
<polygon points="529.1,438.5 536.3,438.7 536.3,449.6 529.1,449.4" fill="#dc0000"/>
<polygon points="536.0,438.7 543.3,439.0 543.3,449.8 536.0,449.6" fill="#dc0000"/>
<polygon points="543.0,439.0 550.2,439.3 550.2,450.1 543.0,449.8" fill="#dc0000"/>
<polygon points="549.9,439.3 557.2,439.6 557.2,450.3 549.9,450.1" fill="#dc0000"/>
<polygon points="556.9,439.6 564.1,439.7 564.1,450.3 556.9,450.3" fill="#db0000"/>
<polygon points="563.8,439.7 571.1,439.1 571.1,449.7 563.8,450.3" fill="#db0000"/>
<polygon points="570.8,439.1 578.0,438.2 578.0,448.7 570.8,449.7" fill="#db0000"/>
<polygon points="577.7,438.2 585.0,437.3 585.0,447.7 577.7,448.7" fill="#da0000"/>
<polygon points="584.7,437.3 591.9,436.9 591.9,447.1 584.7,447.7" fill="#da0000"/>
<polygon points="591.6,436.9 598.9,437.2 598.9,447.3 591.6,447.1" fill="#da0000"/>
<polygon points="598.6,437.2 605.8,438.2 605.8,448.1 598.6,447.3" fill="#d90000"/>
<polygon points="605.5,438.2 612.8,439.6 612.8,449.3 605.5,448.1" fill="#d80000"/>
<polygon points="612.5,439.6 619.7,441.2 619.7,450.5 612.5,449.3" fill="#d70000"/>
<polygon points="619.4,441.2 626.7,442.6 626.7,451.6 619.4,450.5" fill="#d60000"/>
<polygon points="626.4,442.6 633.6,444.3 633.6,453.0 626.4,451.6" fill="#d50000"/>
<polygon points="633.3,444.3 640.6,445.9 640.6,454.6 633.3,453.0" fill="#d50000"/>
<polygon points="640.3,445.9 647.5,447.5 647.5,456.1 640.3,454.6" fill="#d40000"/>
<polygon points="647.2,447.5 654.5,448.7 654.5,457.3 647.2,456.1" fill="#d40000"/>
<polygon points="654.2,448.7 661.4,449.8 661.4,458.4 654.2,457.3" fill="#d40000"/>
<polygon points="661.1,449.8 668.4,450.9 668.4,459.5 661.1,458.4" fill="#d40000"/>
<polygon points="668.1,450.9 675.3,451.7 675.3,460.3 668.1,459.5" fill="#d40000"/>
<polygon points="675.0,451.7 682.3,452.2 682.3,460.8 675.0,460.3" fill="#d40000"/>
<polygon points="682.0,452.2 689.2,450.9 689.2,459.6 682.0,460.8" fill="#d40000"/>
<polygon points="688.9,450.9 696.2,446.9 696.2,455.6 688.9,459.6" fill="#d40000"/>
<polygon points="695.9,446.9 703.1,443.4 703.1,452.1 695.9,455.6" fill="#d40000"/>
<polygon points="702.8,443.4 710.1,440.3 710.1,448.9 702.8,452.1" fill="#d30000"/>
<polygon points="709.8,440.3 717.0,438.4 717.0,447.0 709.8,448.9" fill="#d10000"/>
<polygon points="716.7,438.4 724.0,437.1 724.0,445.8 716.7,447.0" fill="#ce0000"/>
<polygon points="723.7,437.1 730.9,436.2 730.9,444.8 723.7,445.8" fill="#ca0000"/>
<polygon points="730.6,436.2 737.9,435.7 737.9,444.4 730.6,444.8" fill="#c70000"/>
<polygon points="737.6,435.7 744.8,436.2 744.8,444.8 737.6,444.4" fill="#c40000"/>
<polygon points="744.5,436.2 751.8,438.5 751.8,447.2 744.5,444.8" fill="#c10000"/>
<polygon points="751.5,438.5 758.7,442.0 758.7,450.7 751.5,447.2" fill="#bd0000"/>
<polygon points="758.4,442.0 765.7,445.9 765.7,454.5 758.4,450.7" fill="#bb0000"/>
<polygon points="765.4,445.9 772.6,449.4 772.6,458.0 765.4,454.5" fill="#b90000"/>
<polygon points="772.3,449.4 779.6,453.4 779.6,462.3 772.3,458.0" fill="#b90000"/>
<polygon points="779.3,453.4 786.5,457.3 786.5,467.6 779.3,462.3" fill="#bb0000"/>
<polygon points="786.2,457.3 793.5,460.0 793.5,472.4 786.2,467.6" fill="#c10000"/>
<polygon points="793.2,460.0 800.4,460.8 800.4,475.2 793.2,472.4" fill="#c80000"/>
<polygon points="800.1,460.8 807.4,459.4 807.4,476.3 800.1,475.2" fill="#cf0000"/>
<polygon points="807.1,459.4 814.3,457.2 814.3,477.3 807.1,476.3" fill="#d70000"/>
<polygon points="814.0,457.2 821.3,455.0 821.3,477.8 814.0,477.3" fill="#df0000"/>
<polygon points="821.0,455.0 828.2,453.3 828.2,477.7 821.0,477.8" fill="#e50000"/>
<polygon points="827.9,453.3 835.2,452.4 835.2,476.7 827.9,477.7" fill="#e70000"/>
<polygon points="834.9,452.4 842.1,451.3 842.1,475.3 834.9,476.7" fill="#e70000"/>
<polygon points="841.8,451.3 849.1,450.3 849.1,473.4 841.8,475.3" fill="#e60000"/>
<polygon points="848.8,450.3 856.0,449.2 856.0,471.4 848.8,473.4" fill="#e50000"/>
<polygon points="855.7,449.2 863.0,448.3 863.0,469.5 855.7,471.4" fill="#e40000"/>
<polygon points="862.7,448.3 869.9,447.4 869.9,467.6 862.7,469.5" fill="#e30000"/>
<polygon points="869.6,447.4 876.9,446.6 876.9,465.5 869.6,467.6" fill="#e20000"/>
<polygon points="876.6,446.6 883.8,446.0 883.8,463.3 876.6,465.5" fill="#e20000"/>
<polygon points="883.5,446.0 890.8,445.4 890.8,461.1 883.5,463.3" fill="#e10000"/>
<polygon points="890.5,445.4 897.7,444.6 897.7,459.2 890.5,461.1" fill="#e10000"/>
<polygon points="897.4,444.6 904.7,443.5 904.7,457.8 897.4,459.2" fill="#e00000"/>
<polygon points="904.4,443.5 911.6,442.3 911.6,456.4 904.4,457.8" fill="#e00000"/>
<polygon points="911.3,442.3 918.6,441.0 918.6,454.8 911.3,456.4" fill="#e00000"/>
<polygon points="918.3,441.0 925.5,439.3 925.5,452.9 918.3,454.8" fill="#e00000"/>
<polygon points="925.2,439.3 932.5,436.8 932.5,450.3 925.2,452.9" fill="#e00000"/>
<polygon points="932.2,436.8 939.4,433.9 939.4,447.2 932.2,450.3" fill="#e10000"/>
<polygon points="939.1,433.9 946.4,430.8 946.4,444.1 939.1,447.2" fill="#e10000"/>
<polygon points="946.1,430.8 953.3,428.2 953.3,441.3 946.1,444.1" fill="#e10000"/>
<polygon points="953.0,428.2 960.3,426.0 960.3,439.0 953.0,441.3" fill="#e10000"/>
<polygon points="960.0,426.0 967.2,423.9 967.2,436.9 960.0,439.0" fill="#e10000"/>
<polygon points="966.9,423.9 974.2,422.1 974.2,435.0 966.9,436.9" fill="#e20000"/>
<polygon points="973.9,422.1 981.1,420.4 981.1,433.3 973.9,435.0" fill="#e20000"/>
<polygon points="980.8,420.4 988.1,420.3 988.1,433.3 980.8,433.3" fill="#e30000"/>
<polygon points="987.8,420.3 995.0,420.3 995.0,433.3 987.8,433.3" fill="#e30000"/>
<polygon points="994.7,420.3 1002.0,420.3 1002.0,433.3 994.7,433.3" fill="#e30000"/>
</g>
<g filter="url(#b3)">
<polygon points="119.0,483.8 126.0,483.8 132.9,483.8 139.9,483.8 146.8,483.3 153.8,482.7 160.7,482.0 167.7,481.1 174.6,480.1 181.6,478.8 188.5,477.3 195.5,475.8 202.4,474.3 209.4,472.6 216.3,470.8 223.3,469.3 230.2,468.5 237.2,468.6 244.1,469.2 251.1,469.9 258.0,470.9 265.0,472.0 271.9,473.9 278.9,476.3 285.8,478.7 292.8,480.7 299.7,482.2 306.7,483.5 313.6,484.8 320.6,486.2 327.5,487.9 334.5,489.8 341.4,491.9 348.4,494.1 355.3,496.5 362.3,499.1 369.2,502.0 376.2,505.0 383.1,507.7 390.1,510.4 397.0,513.4 404.0,516.0 410.9,517.7 417.9,517.9 424.8,517.2 431.8,515.9 438.7,514.3 445.7,512.4 452.6,509.6 459.6,506.5 466.5,503.5 473.5,501.0 480.4,498.6 487.4,496.3 494.3,494.3 501.3,493.0 508.2,492.1 515.2,491.5 522.1,490.9 529.1,490.2 536.0,489.2 543.0,487.8 549.9,486.1 556.9,484.6 563.8,483.6 570.8,482.6 577.7,481.7 584.7,481.0 591.6,480.7 598.6,481.8 605.5,485.4 612.5,490.1 619.4,494.4 626.4,497.3 633.3,500.0 640.3,502.5 647.2,504.3 654.2,505.0 661.1,504.6 668.1,503.6 675.0,502.6 682.0,502.0 688.9,502.0 695.9,502.0 702.8,502.0 709.8,502.0 716.7,502.0 723.7,502.0 730.6,502.0 737.6,502.0 744.5,502.1 751.5,502.6 758.4,503.3 765.4,504.2 772.3,505.3 779.3,507.5 786.2,510.2 793.2,512.7 800.1,514.0 807.1,514.0 814.0,514.0 821.0,514.0 827.9,514.0 834.9,513.8 841.8,512.0 848.8,509.3 855.7,506.6 862.7,504.9 869.6,503.9 876.6,503.0 883.5,502.4 890.5,502.0 897.4,502.0 904.4,502.0 911.3,502.0 918.3,502.0 925.2,501.9 932.2,500.0 939.1,496.7 946.1,493.1 953.0,490.2 960.0,488.3 966.9,486.5 973.9,485.0 980.8,483.8 987.8,483.8 994.7,483.8 1001.7,483.8 1001.7,573.6 994.7,573.6 987.8,573.6 980.8,573.7 973.9,577.0 966.9,580.2 960.0,583.2 953.0,586.2 946.1,589.6 939.1,593.2 932.2,596.2 925.2,597.9 918.3,597.8 911.3,597.0 904.4,596.0 897.4,595.2 890.5,595.1 883.5,595.7 876.6,597.1 869.6,598.8 862.7,600.8 855.7,603.8 848.8,608.5 841.8,613.6 834.9,617.8 827.9,620.2 821.0,622.3 814.0,624.0 807.1,625.1 800.1,625.5 793.2,622.3 786.2,615.7 779.3,608.2 772.3,602.1 765.4,598.2 758.4,594.5 751.5,591.4 744.5,589.4 737.6,589.0 730.6,589.0 723.7,589.0 716.7,589.0 709.8,588.8 702.8,587.9 695.9,586.8 688.9,586.0 682.0,585.8 675.0,585.8 668.1,585.8 661.1,585.8 654.2,585.8 647.2,585.5 640.3,584.9 633.3,584.0 626.4,583.2 619.4,582.4 612.5,581.5 605.5,580.6 598.6,579.9 591.6,579.7 584.7,579.7 577.7,579.7 570.8,579.7 563.8,579.7 556.9,579.8 549.9,580.4 543.0,581.2 536.0,582.2 529.1,583.2 522.1,584.2 515.2,585.5 508.2,587.0 501.3,588.9 494.3,591.8 487.4,595.9 480.4,600.6 473.5,605.2 466.5,609.5 459.6,614.6 452.6,619.4 445.7,623.0 438.7,624.0 431.8,623.9 424.8,623.6 417.9,623.2 410.9,622.3 404.0,619.4 397.0,615.3 390.1,610.7 383.1,606.5 376.2,602.0 369.2,597.2 362.3,592.7 355.3,589.4 348.4,587.5 341.4,586.0 334.5,584.7 327.5,583.6 320.6,582.4 313.6,581.0 306.7,579.8 299.7,578.7 292.8,578.0 285.8,577.5 278.9,577.2 271.9,576.9 265.0,576.7 258.0,576.7 251.1,576.7 244.1,576.7 237.2,576.7 230.2,576.7 223.3,577.0 216.3,577.7 209.4,578.6 202.4,579.5 195.5,580.6 188.5,582.2 181.6,583.9 174.6,585.3 167.7,586.4 160.7,587.2 153.8,588.0 146.8,588.6 139.9,589.0 132.9,589.0 126.0,589.0 119.0,589.0" fill="#340000"/>
<polygon points="119.0,493.4 126.0,493.4 132.9,493.4 139.9,493.4 146.8,492.9 153.8,492.3 160.7,491.6 167.7,490.7 174.6,489.7 181.6,488.4 188.5,486.9 195.5,485.4 202.4,483.9 209.4,482.2 216.3,480.4 223.3,478.9 230.2,478.1 237.2,478.2 244.1,478.8 251.1,479.5 258.0,480.5 265.0,481.6 271.9,483.5 278.9,485.9 285.8,488.3 292.8,490.3 299.7,491.8 306.7,493.1 313.6,494.4 320.6,495.8 327.5,497.5 334.5,499.4 341.4,501.5 348.4,503.7 355.3,506.1 362.3,508.7 369.2,511.6 376.2,514.6 383.1,517.3 390.1,520.0 397.0,523.0 404.0,525.6 410.9,527.3 417.9,527.5 424.8,526.8 431.8,525.5 438.7,523.9 445.7,522.0 452.6,519.2 459.6,516.1 466.5,513.1 473.5,510.6 480.4,508.2 487.4,505.9 494.3,503.9 501.3,502.6 508.2,501.7 515.2,501.1 522.1,500.5 529.1,499.8 536.0,498.8 543.0,497.4 549.9,495.7 556.9,494.2 563.8,493.2 570.8,492.2 577.7,491.3 584.7,490.6 591.6,490.3 598.6,491.4 605.5,495.0 612.5,499.7 619.4,504.0 626.4,506.9 633.3,509.6 640.3,512.1 647.2,513.9 654.2,514.6 661.1,514.2 668.1,513.2 675.0,512.2 682.0,511.6 688.9,511.6 695.9,511.6 702.8,511.6 709.8,511.6 716.7,511.6 723.7,511.6 730.6,511.6 737.6,511.6 744.5,511.7 751.5,512.2 758.4,512.9 765.4,513.8 772.3,514.9 779.3,517.1 786.2,519.8 793.2,522.3 800.1,523.6 807.1,523.6 814.0,523.6 821.0,523.6 827.9,523.6 834.9,523.4 841.8,521.6 848.8,518.9 855.7,516.2 862.7,514.5 869.6,513.5 876.6,512.6 883.5,512.0 890.5,511.6 897.4,511.6 904.4,511.6 911.3,511.6 918.3,511.6 925.2,511.5 932.2,509.6 939.1,506.3 946.1,502.7 953.0,499.8 960.0,497.9 966.9,496.1 973.9,494.6 980.8,493.4 987.8,493.4 994.7,493.4 1001.7,493.4 1001.7,565.6 994.7,565.6 987.8,565.6 980.8,565.7 973.9,569.0 966.9,572.2 960.0,575.2 953.0,578.2 946.1,581.6 939.1,585.2 932.2,588.2 925.2,589.9 918.3,589.8 911.3,589.0 904.4,588.0 897.4,587.2 890.5,587.1 883.5,587.7 876.6,589.1 869.6,590.8 862.7,592.8 855.7,595.8 848.8,600.5 841.8,605.6 834.9,609.8 827.9,612.2 821.0,614.3 814.0,616.0 807.1,617.1 800.1,617.5 793.2,614.3 786.2,607.7 779.3,600.2 772.3,594.1 765.4,590.2 758.4,586.5 751.5,583.4 744.5,581.4 737.6,581.0 730.6,581.0 723.7,581.0 716.7,581.0 709.8,580.8 702.8,579.9 695.9,578.8 688.9,578.0 682.0,577.8 675.0,577.8 668.1,577.8 661.1,577.8 654.2,577.8 647.2,577.5 640.3,576.9 633.3,576.0 626.4,575.2 619.4,574.4 612.5,573.5 605.5,572.6 598.6,571.9 591.6,571.7 584.7,571.7 577.7,571.7 570.8,571.7 563.8,571.7 556.9,571.8 549.9,572.4 543.0,573.2 536.0,574.2 529.1,575.2 522.1,576.2 515.2,577.5 508.2,579.0 501.3,580.9 494.3,583.8 487.4,587.9 480.4,592.6 473.5,597.2 466.5,601.5 459.6,606.6 452.6,611.4 445.7,615.0 438.7,616.0 431.8,615.9 424.8,615.6 417.9,615.2 410.9,614.3 404.0,611.4 397.0,607.3 390.1,602.7 383.1,598.5 376.2,594.0 369.2,589.2 362.3,584.7 355.3,581.4 348.4,579.5 341.4,578.0 334.5,576.7 327.5,575.6 320.6,574.4 313.6,573.0 306.7,571.8 299.7,570.7 292.8,570.0 285.8,569.5 278.9,569.2 271.9,568.9 265.0,568.7 258.0,568.7 251.1,568.7 244.1,568.7 237.2,568.7 230.2,568.7 223.3,569.0 216.3,569.7 209.4,570.6 202.4,571.5 195.5,572.6 188.5,574.2 181.6,575.9 174.6,577.3 167.7,578.4 160.7,579.2 153.8,580.0 146.8,580.6 139.9,581.0 132.9,581.0 126.0,581.0 119.0,581.0" fill="#420000"/>
<polygon points="119.0,501.8 126.0,501.8 132.9,501.8 139.9,501.8 146.8,501.3 153.8,500.7 160.7,500.0 167.7,499.1 174.6,498.1 181.6,496.8 188.5,495.3 195.5,493.8 202.4,492.3 209.4,490.6 216.3,488.8 223.3,487.3 230.2,486.5 237.2,486.6 244.1,487.2 251.1,487.9 258.0,488.9 265.0,490.0 271.9,491.9 278.9,494.3 285.8,496.7 292.8,498.7 299.7,500.2 306.7,501.5 313.6,502.8 320.6,504.2 327.5,505.9 334.5,507.8 341.4,509.9 348.4,512.1 355.3,514.5 362.3,517.1 369.2,520.0 376.2,523.0 383.1,525.7 390.1,528.4 397.0,531.4 404.0,534.0 410.9,535.7 417.9,535.9 424.8,535.2 431.8,533.9 438.7,532.3 445.7,530.4 452.6,527.6 459.6,524.5 466.5,521.5 473.5,519.0 480.4,516.6 487.4,514.3 494.3,512.3 501.3,511.0 508.2,510.1 515.2,509.5 522.1,508.9 529.1,508.2 536.0,507.2 543.0,505.8 549.9,504.1 556.9,502.6 563.8,501.6 570.8,500.6 577.7,499.7 584.7,499.0 591.6,498.7 598.6,499.8 605.5,503.4 612.5,508.1 619.4,512.4 626.4,515.3 633.3,518.0 640.3,520.5 647.2,522.3 654.2,523.0 661.1,522.6 668.1,521.6 675.0,520.6 682.0,520.0 688.9,520.0 695.9,520.0 702.8,520.0 709.8,520.0 716.7,520.0 723.7,520.0 730.6,520.0 737.6,520.0 744.5,520.1 751.5,520.6 758.4,521.3 765.4,522.2 772.3,523.3 779.3,525.5 786.2,528.2 793.2,530.7 800.1,532.0 807.1,532.0 814.0,532.0 821.0,532.0 827.9,532.0 834.9,531.8 841.8,530.0 848.8,527.3 855.7,524.6 862.7,522.9 869.6,521.9 876.6,521.0 883.5,520.4 890.5,520.0 897.4,520.0 904.4,520.0 911.3,520.0 918.3,520.0 925.2,519.9 932.2,518.0 939.1,514.7 946.1,511.1 953.0,508.2 960.0,506.3 966.9,504.5 973.9,503.0 980.8,501.8 987.8,501.8 994.7,501.8 1001.7,501.8 1001.7,558.6 994.7,558.6 987.8,558.6 980.8,558.7 973.9,562.0 966.9,565.2 960.0,568.2 953.0,571.2 946.1,574.6 939.1,578.2 932.2,581.2 925.2,582.9 918.3,582.8 911.3,582.0 904.4,581.0 897.4,580.2 890.5,580.1 883.5,580.7 876.6,582.1 869.6,583.8 862.7,585.8 855.7,588.8 848.8,593.5 841.8,598.6 834.9,602.8 827.9,605.2 821.0,607.3 814.0,609.0 807.1,610.1 800.1,610.5 793.2,607.3 786.2,600.7 779.3,593.2 772.3,587.1 765.4,583.2 758.4,579.5 751.5,576.4 744.5,574.4 737.6,574.0 730.6,574.0 723.7,574.0 716.7,574.0 709.8,573.8 702.8,572.9 695.9,571.8 688.9,571.0 682.0,570.8 675.0,570.8 668.1,570.8 661.1,570.8 654.2,570.8 647.2,570.5 640.3,569.9 633.3,569.0 626.4,568.2 619.4,567.4 612.5,566.5 605.5,565.6 598.6,564.9 591.6,564.7 584.7,564.7 577.7,564.7 570.8,564.7 563.8,564.7 556.9,564.8 549.9,565.4 543.0,566.2 536.0,567.2 529.1,568.2 522.1,569.2 515.2,570.5 508.2,572.0 501.3,573.9 494.3,576.8 487.4,580.9 480.4,585.6 473.5,590.2 466.5,594.5 459.6,599.6 452.6,604.4 445.7,608.0 438.7,609.0 431.8,608.9 424.8,608.6 417.9,608.2 410.9,607.3 404.0,604.4 397.0,600.3 390.1,595.7 383.1,591.5 376.2,587.0 369.2,582.2 362.3,577.7 355.3,574.4 348.4,572.5 341.4,571.0 334.5,569.7 327.5,568.6 320.6,567.4 313.6,566.0 306.7,564.8 299.7,563.7 292.8,563.0 285.8,562.5 278.9,562.2 271.9,561.9 265.0,561.7 258.0,561.7 251.1,561.7 244.1,561.7 237.2,561.7 230.2,561.7 223.3,562.0 216.3,562.7 209.4,563.6 202.4,564.5 195.5,565.6 188.5,567.2 181.6,568.9 174.6,570.3 167.7,571.4 160.7,572.2 153.8,573.0 146.8,573.6 139.9,574.0 132.9,574.0 126.0,574.0 119.0,574.0" fill="#500000"/>
<polygon points="119.0,507.8 126.0,507.8 132.9,507.8 139.9,507.8 146.8,507.3 153.8,506.7 160.7,506.0 167.7,505.1 174.6,504.1 181.6,502.8 188.5,501.3 195.5,499.8 202.4,498.3 209.4,496.6 216.3,494.8 223.3,493.3 230.2,492.5 237.2,492.6 244.1,493.2 251.1,493.9 258.0,494.9 265.0,496.0 271.9,497.9 278.9,500.3 285.8,502.7 292.8,504.7 299.7,506.2 306.7,507.5 313.6,508.8 320.6,510.2 327.5,511.9 334.5,513.8 341.4,515.9 348.4,518.1 355.3,520.5 362.3,523.1 369.2,526.0 376.2,529.0 383.1,531.7 390.1,534.4 397.0,537.4 404.0,540.0 410.9,541.7 417.9,541.9 424.8,541.2 431.8,539.9 438.7,538.3 445.7,536.4 452.6,533.6 459.6,530.5 466.5,527.5 473.5,525.0 480.4,522.6 487.4,520.3 494.3,518.3 501.3,517.0 508.2,516.1 515.2,515.5 522.1,514.9 529.1,514.2 536.0,513.2 543.0,511.8 549.9,510.1 556.9,508.6 563.8,507.6 570.8,506.6 577.7,505.7 584.7,505.0 591.6,504.7 598.6,505.8 605.5,509.4 612.5,514.1 619.4,518.4 626.4,521.3 633.3,524.0 640.3,526.5 647.2,528.3 654.2,529.0 661.1,528.6 668.1,527.6 675.0,526.6 682.0,526.0 688.9,526.0 695.9,526.0 702.8,526.0 709.8,526.0 716.7,526.0 723.7,526.0 730.6,526.0 737.6,526.0 744.5,526.1 751.5,526.6 758.4,527.3 765.4,528.2 772.3,529.3 779.3,531.5 786.2,534.2 793.2,536.7 800.1,538.0 807.1,538.0 814.0,538.0 821.0,538.0 827.9,538.0 834.9,537.8 841.8,536.0 848.8,533.3 855.7,530.6 862.7,528.9 869.6,527.9 876.6,527.0 883.5,526.4 890.5,526.0 897.4,526.0 904.4,526.0 911.3,526.0 918.3,526.0 925.2,525.9 932.2,524.0 939.1,520.7 946.1,517.1 953.0,514.2 960.0,512.3 966.9,510.5 973.9,509.0 980.8,507.8 987.8,507.8 994.7,507.8 1001.7,507.8 1001.7,553.6 994.7,553.6 987.8,553.6 980.8,553.7 973.9,557.0 966.9,560.2 960.0,563.2 953.0,566.2 946.1,569.6 939.1,573.2 932.2,576.2 925.2,577.9 918.3,577.8 911.3,577.0 904.4,576.0 897.4,575.2 890.5,575.1 883.5,575.7 876.6,577.1 869.6,578.8 862.7,580.8 855.7,583.8 848.8,588.5 841.8,593.6 834.9,597.8 827.9,600.2 821.0,602.3 814.0,604.0 807.1,605.1 800.1,605.5 793.2,602.3 786.2,595.7 779.3,588.2 772.3,582.1 765.4,578.2 758.4,574.5 751.5,571.4 744.5,569.4 737.6,569.0 730.6,569.0 723.7,569.0 716.7,569.0 709.8,568.8 702.8,567.9 695.9,566.8 688.9,566.0 682.0,565.8 675.0,565.8 668.1,565.8 661.1,565.8 654.2,565.8 647.2,565.5 640.3,564.9 633.3,564.0 626.4,563.2 619.4,562.4 612.5,561.5 605.5,560.6 598.6,559.9 591.6,559.7 584.7,559.7 577.7,559.7 570.8,559.7 563.8,559.7 556.9,559.8 549.9,560.4 543.0,561.2 536.0,562.2 529.1,563.2 522.1,564.2 515.2,565.5 508.2,567.0 501.3,568.9 494.3,571.8 487.4,575.9 480.4,580.6 473.5,585.2 466.5,589.5 459.6,594.6 452.6,599.4 445.7,603.0 438.7,604.0 431.8,603.9 424.8,603.6 417.9,603.2 410.9,602.3 404.0,599.4 397.0,595.3 390.1,590.7 383.1,586.5 376.2,582.0 369.2,577.2 362.3,572.7 355.3,569.4 348.4,567.5 341.4,566.0 334.5,564.7 327.5,563.6 320.6,562.4 313.6,561.0 306.7,559.8 299.7,558.7 292.8,558.0 285.8,557.5 278.9,557.2 271.9,556.9 265.0,556.7 258.0,556.7 251.1,556.7 244.1,556.7 237.2,556.7 230.2,556.7 223.3,557.0 216.3,557.7 209.4,558.6 202.4,559.5 195.5,560.6 188.5,562.2 181.6,563.9 174.6,565.3 167.7,566.4 160.7,567.2 153.8,568.0 146.8,568.6 139.9,569.0 132.9,569.0 126.0,569.0 119.0,569.0" fill="#5e0000"/>
<polygon points="119.0,513.0 126.0,513.0 132.9,513.0 139.9,513.0 146.8,512.5 153.8,511.8 160.7,511.0 167.7,510.1 174.6,509.1 181.6,507.8 188.5,506.4 195.5,504.9 202.4,503.5 209.4,501.8 216.3,500.1 223.3,498.7 230.2,497.9 237.2,498.0 244.1,498.4 251.1,499.1 258.0,499.9 265.0,500.9 271.9,502.5 278.9,504.6 285.8,506.7 292.8,508.5 299.7,509.9 306.7,511.1 313.6,512.4 320.6,513.9 327.5,515.5 334.5,517.5 341.4,519.6 348.4,521.9 355.3,524.2 362.3,526.9 369.2,529.9 376.2,532.8 383.1,535.5 390.1,538.1 397.0,541.0 404.0,543.5 410.9,545.0 417.9,545.2 424.8,544.4 431.8,543.2 438.7,541.7 445.7,539.9 452.6,537.0 459.6,533.8 466.5,530.6 473.5,528.2 480.4,525.8 487.4,523.6 494.3,521.7 501.3,520.3 508.2,519.5 515.2,518.9 522.1,518.3 529.1,517.6 536.0,516.7 543.0,515.2 549.9,513.6 556.9,512.2 563.8,511.3 570.8,510.5 577.7,509.7 584.7,509.1 591.6,508.9 598.6,509.9 605.5,513.2 612.5,517.5 619.4,521.5 626.4,524.2 633.3,526.7 640.3,529.0 647.2,530.7 654.2,531.4 661.1,530.9 668.1,530.0 675.0,529.0 682.0,528.4 688.9,528.4 695.9,528.4 702.8,528.4 709.8,528.4 716.7,528.4 723.7,528.3 730.6,528.2 737.6,528.2 744.5,528.3 751.5,528.9 758.4,529.9 765.4,531.1 772.3,532.4 779.3,534.7 786.2,537.5 793.2,539.8 800.1,540.9 807.1,540.5 814.0,540.1 821.0,539.9 827.9,539.8 834.9,539.5 841.8,537.7 848.8,535.0 855.7,532.4 862.7,530.8 869.6,529.9 876.6,529.1 883.5,528.4 890.5,528.1 897.4,528.1 904.4,528.1 911.3,528.2 918.3,528.3 925.2,528.2 932.2,526.3 939.1,523.1 946.1,519.5 953.0,516.5 960.0,514.5 966.9,512.7 973.9,511.1 980.8,509.7 987.8,509.7 994.7,509.7 1001.7,509.7 1001.7,550.3 994.7,550.3 987.8,550.3 980.8,550.4 973.9,553.5 966.9,556.6 960.0,559.6 953.0,562.5 946.1,565.9 939.1,569.5 932.2,572.5 925.2,574.2 918.3,574.1 911.3,573.4 904.4,572.5 897.4,571.8 890.5,571.7 883.5,572.3 876.6,573.7 869.6,575.5 862.7,577.6 855.7,580.7 848.8,585.3 841.8,590.2 834.9,594.3 827.9,596.7 821.0,598.6 814.0,600.1 807.1,600.8 800.1,600.8 793.2,597.6 786.2,591.4 779.3,584.3 772.3,578.6 765.4,574.9 758.4,571.4 751.5,568.4 744.5,566.4 737.6,566.1 730.6,566.1 723.7,566.2 716.7,566.2 709.8,566.0 702.8,565.3 695.9,564.4 688.9,563.7 682.0,563.5 675.0,563.6 668.1,563.7 661.1,563.9 654.2,563.9 647.2,563.7 640.3,563.0 633.3,562.0 626.4,561.1 619.4,560.2 612.5,559.1 605.5,558.0 598.6,557.2 591.6,556.9 584.7,556.9 577.7,556.9 570.8,556.9 563.8,556.9 556.9,557.1 549.9,557.7 543.0,558.6 536.0,559.7 529.1,560.7 522.1,561.7 515.2,562.8 508.2,564.3 501.3,566.0 494.3,568.7 487.4,572.5 480.4,576.9 473.5,581.3 466.5,585.4 459.6,590.4 452.6,595.3 445.7,598.8 438.7,600.0 431.8,599.9 424.8,599.7 417.9,599.3 410.9,598.4 404.0,595.8 397.0,591.9 390.1,587.7 383.1,583.7 376.2,579.5 369.2,575.0 362.3,570.7 355.3,567.5 348.4,565.4 341.4,563.7 334.5,562.3 327.5,561.0 320.6,559.7 313.6,558.3 306.7,557.1 299.7,556.0 292.8,555.3 285.8,554.9 278.9,554.5 271.9,554.2 265.0,554.1 258.0,554.1 251.1,554.2 244.1,554.2 237.2,554.3 230.2,554.4 223.3,554.9 216.3,555.6 209.4,556.6 202.4,557.6 195.5,558.8 188.5,560.3 181.6,562.0 174.6,563.5 167.7,564.5 160.7,565.4 153.8,566.3 146.8,566.9 139.9,567.4 132.9,567.4 126.0,567.4 119.0,567.4" fill="#710000"/>
<polygon points="119.0,520.0 126.0,520.0 132.9,520.0 139.9,520.0 146.8,519.4 153.8,518.7 160.7,517.8 167.7,516.9 174.6,515.9 181.6,514.6 188.5,513.1 195.5,511.7 202.4,510.3 209.4,508.8 216.3,507.2 223.3,505.9 230.2,505.2 237.2,505.1 244.1,505.4 251.1,505.9 258.0,506.5 265.0,507.3 271.9,508.6 278.9,510.3 285.8,512.0 292.8,513.5 299.7,514.8 306.7,516.0 313.6,517.3 320.6,518.7 327.5,520.4 334.5,522.3 341.4,524.5 348.4,526.9 355.3,529.3 362.3,532.0 369.2,535.0 376.2,537.9 383.1,540.5 390.1,543.1 397.0,545.8 404.0,548.1 410.9,549.5 417.9,549.6 424.8,548.8 431.8,547.6 438.7,546.3 445.7,544.5 452.6,541.6 459.6,538.1 466.5,534.9 473.5,532.4 480.4,530.1 487.4,527.9 494.3,526.1 501.3,524.8 508.2,524.0 515.2,523.4 522.1,522.8 529.1,522.2 536.0,521.2 543.0,519.8 549.9,518.3 556.9,517.0 563.8,516.2 570.8,515.6 577.7,515.1 584.7,514.6 591.6,514.4 598.6,515.3 605.5,518.3 612.5,522.1 619.4,525.7 626.4,528.1 633.3,530.4 640.3,532.4 647.2,533.9 654.2,534.5 661.1,534.1 668.1,533.1 675.0,532.1 682.0,531.5 688.9,531.5 695.9,531.5 702.8,531.5 709.8,531.5 716.7,531.5 723.7,531.4 730.6,531.2 737.6,531.1 744.5,531.3 751.5,532.1 758.4,533.4 765.4,535.0 772.3,536.5 779.3,539.0 786.2,541.7 793.2,544.0 800.1,544.7 807.1,543.9 814.0,543.0 821.0,542.4 827.9,542.2 834.9,541.9 841.8,540.1 848.8,537.4 855.7,534.8 862.7,533.3 869.6,532.5 876.6,531.8 883.5,531.2 890.5,530.8 897.4,530.8 904.4,531.0 911.3,531.2 918.3,531.4 925.2,531.3 932.2,529.5 939.1,526.2 946.1,522.6 953.0,519.6 960.0,517.5 966.9,515.5 973.9,513.7 980.8,512.2 987.8,512.2 994.7,512.2 1001.7,512.2 1001.7,546.0 994.7,546.0 987.8,546.0 980.8,546.0 973.9,548.9 966.9,551.8 960.0,554.6 953.0,557.5 946.1,560.8 939.1,564.5 932.2,567.6 925.2,569.3 918.3,569.3 911.3,568.6 904.4,567.8 897.4,567.2 890.5,567.1 883.5,567.8 876.6,569.2 869.6,571.1 862.7,573.3 855.7,576.4 848.8,580.9 841.8,585.7 834.9,589.7 827.9,592.0 821.0,593.8 814.0,594.9 807.1,595.1 800.1,594.5 793.2,591.4 786.2,585.6 779.3,579.1 772.3,573.9 765.4,570.5 758.4,567.1 751.5,564.3 744.5,562.5 737.6,562.1 730.6,562.2 723.7,562.4 716.7,562.5 709.8,562.3 702.8,561.7 695.9,561.1 688.9,560.5 682.0,560.4 675.0,560.6 668.1,561.0 661.1,561.3 654.2,561.4 647.2,561.1 640.3,560.4 633.3,559.4 626.4,558.3 619.4,557.3 612.5,556.0 605.5,554.6 598.6,553.5 591.6,553.2 584.7,553.2 577.7,553.2 570.8,553.2 563.8,553.2 556.9,553.4 549.9,554.2 543.0,555.2 536.0,556.3 529.1,557.3 522.1,558.2 515.2,559.3 508.2,560.5 501.3,562.1 494.3,564.5 487.4,567.9 480.4,571.9 473.5,576.0 466.5,580.0 459.6,584.9 452.6,589.7 445.7,593.3 438.7,594.6 431.8,594.6 424.8,594.5 417.9,594.1 410.9,593.3 404.0,590.8 397.0,587.4 390.1,583.6 383.1,580.0 376.2,576.2 369.2,572.0 362.3,568.0 355.3,564.8 348.4,562.6 341.4,560.7 334.5,559.0 327.5,557.5 320.6,556.1 313.6,554.7 306.7,553.5 299.7,552.4 292.8,551.7 285.8,551.3 278.9,550.9 271.9,550.7 265.0,550.6 258.0,550.7 251.1,550.8 244.1,551.0 237.2,551.2 230.2,551.4 223.3,552.0 216.3,552.9 209.4,554.0 202.4,555.1 195.5,556.3 188.5,557.9 181.6,559.5 174.6,561.0 167.7,562.1 160.7,563.1 153.8,563.9 146.8,564.7 139.9,565.3 132.9,565.3 126.0,565.3 119.0,565.3" fill="#890000"/>
<polygon points="119.0,528.7 126.0,528.7 132.9,528.7 139.9,528.7 146.8,528.0 153.8,527.2 160.7,526.3 167.7,525.3 174.6,524.3 181.6,523.0 188.5,521.6 195.5,520.2 202.4,518.9 209.4,517.5 216.3,516.0 223.3,514.9 230.2,514.2 237.2,514.1 244.1,514.1 251.1,514.4 258.0,514.8 265.0,515.3 271.9,516.3 278.9,517.5 285.8,518.7 292.8,519.8 299.7,520.9 306.7,522.0 313.6,523.3 320.6,524.7 327.5,526.4 334.5,528.4 341.4,530.7 348.4,533.1 355.3,535.6 362.3,538.4 369.2,541.4 376.2,544.3 383.1,546.9 390.1,549.3 397.0,551.8 404.0,553.9 410.9,555.1 417.9,555.0 424.8,554.2 431.8,553.2 438.7,552.0 445.7,550.4 452.6,547.3 459.6,543.6 466.5,540.2 473.5,537.7 480.4,535.5 487.4,533.4 494.3,531.7 501.3,530.4 508.2,529.6 515.2,529.0 522.1,528.5 529.1,527.9 536.0,527.0 543.0,525.6 549.9,524.2 556.9,523.0 563.8,522.4 570.8,522.1 577.7,521.7 584.7,521.5 591.6,521.4 598.6,522.2 605.5,524.6 612.5,527.9 619.4,530.9 626.4,532.9 633.3,534.9 640.3,536.6 647.2,537.9 654.2,538.4 661.1,538.0 668.1,537.1 675.0,536.1 682.0,535.4 688.9,535.4 695.9,535.4 702.8,535.4 709.8,535.4 716.7,535.4 723.7,535.2 730.6,535.0 737.6,534.8 744.5,535.0 751.5,536.1 758.4,537.8 765.4,539.8 772.3,541.7 779.3,544.4 786.2,547.1 793.2,549.2 800.1,549.6 807.1,548.1 814.0,546.5 821.0,545.6 827.9,545.2 834.9,544.8 841.8,543.0 848.8,540.3 855.7,537.7 862.7,536.4 869.6,535.7 876.6,535.1 883.5,534.6 890.5,534.2 897.4,534.3 904.4,534.6 911.3,534.9 918.3,535.2 925.2,535.2 932.2,533.4 939.1,530.2 946.1,526.5 953.0,523.4 960.0,521.2 966.9,519.0 973.9,517.1 980.8,515.3 987.8,515.3 994.7,515.3 1001.7,515.3 1001.7,540.5 994.7,540.5 987.8,540.5 980.8,540.6 973.9,543.2 966.9,545.8 960.0,548.5 953.0,551.2 946.1,554.6 939.1,558.2 932.2,561.4 925.2,563.2 918.3,563.2 911.3,562.7 904.4,562.0 897.4,561.5 890.5,561.5 883.5,562.1 876.6,563.6 869.6,565.6 862.7,567.9 855.7,571.1 848.8,575.5 841.8,580.1 834.9,584.0 827.9,586.1 821.0,587.7 814.0,588.4 807.1,588.0 800.1,586.7 793.2,583.6 786.2,578.3 779.3,572.5 772.3,568.0 765.4,564.9 758.4,561.9 751.5,559.2 744.5,557.5 737.6,557.2 730.6,557.4 723.7,557.6 716.7,557.8 709.8,557.7 702.8,557.4 695.9,556.9 688.9,556.6 682.0,556.5 675.0,556.9 668.1,557.5 661.1,558.1 654.2,558.3 647.2,558.0 640.3,557.2 633.3,556.1 626.4,554.9 619.4,553.7 612.5,552.0 605.5,550.3 598.6,549.0 591.6,548.6 584.7,548.6 577.7,548.6 570.8,548.6 563.8,548.6 556.9,548.9 549.9,549.7 543.0,550.9 536.0,552.1 529.1,553.1 522.1,554.0 515.2,554.8 508.2,555.9 501.3,557.2 494.3,559.2 487.4,562.2 480.4,565.7 473.5,569.4 466.5,573.2 459.6,577.9 452.6,582.7 445.7,586.4 438.7,587.8 431.8,588.0 424.8,587.9 417.9,587.6 410.9,586.8 404.0,584.7 397.0,581.8 390.1,578.5 383.1,575.4 376.2,572.1 369.2,568.3 362.3,564.6 355.3,561.5 348.4,559.1 341.4,556.9 334.5,554.9 327.5,553.2 320.6,551.7 313.6,550.2 306.7,549.0 299.7,547.9 292.8,547.2 285.8,546.8 278.9,546.5 271.9,546.3 265.0,546.2 258.0,546.3 251.1,546.6 244.1,546.9 237.2,547.2 230.2,547.7 223.3,548.4 216.3,549.5 209.4,550.7 202.4,552.0 195.5,553.2 188.5,554.8 181.6,556.4 174.6,557.8 167.7,559.0 160.7,560.1 153.8,561.1 146.8,561.9 139.9,562.7 132.9,562.7 126.0,562.7 119.0,562.7" fill="#9e0000"/>
<polygon points="119.0,537.4 126.0,537.4 132.9,537.4 139.9,537.4 146.8,536.6 153.8,535.7 160.7,534.8 167.7,533.8 174.6,532.7 181.6,531.4 188.5,530.0 195.5,528.7 202.4,527.4 209.4,526.2 216.3,524.9 223.3,523.8 230.2,523.2 237.2,523.0 244.1,522.9 251.1,522.9 258.0,523.1 265.0,523.4 271.9,523.9 278.9,524.6 285.8,525.4 292.8,526.1 299.7,527.0 306.7,528.0 313.6,529.3 320.6,530.8 327.5,532.4 334.5,534.5 341.4,536.9 348.4,539.4 355.3,541.9 362.3,544.7 369.2,547.7 376.2,550.7 383.1,553.2 390.1,555.4 397.0,557.8 404.0,559.7 410.9,560.7 417.9,560.5 424.8,559.7 431.8,558.7 438.7,557.8 445.7,556.2 452.6,553.0 459.6,549.0 466.5,545.4 473.5,543.0 480.4,540.8 487.4,538.9 494.3,537.2 501.3,536.0 508.2,535.2 515.2,534.7 522.1,534.2 529.1,533.6 536.0,532.7 543.0,531.4 549.9,530.0 556.9,529.0 563.8,528.7 570.8,528.5 577.7,528.4 584.7,528.3 591.6,528.3 598.6,529.0 605.5,531.0 612.5,533.7 619.4,536.1 626.4,537.8 633.3,539.4 640.3,540.9 647.2,541.9 654.2,542.3 661.1,541.9 668.1,541.0 675.0,540.0 682.0,539.4 688.9,539.3 695.9,539.3 702.8,539.3 709.8,539.3 716.7,539.3 723.7,539.1 730.6,538.7 737.6,538.5 744.5,538.8 751.5,540.1 758.4,542.2 765.4,544.6 772.3,546.8 779.3,549.8 786.2,552.5 793.2,554.3 800.1,554.4 807.1,552.3 814.0,550.1 821.0,548.8 827.9,548.2 834.9,547.7 841.8,545.9 848.8,543.2 855.7,540.7 862.7,539.5 869.6,539.0 876.6,538.5 883.5,538.0 890.5,537.6 897.4,537.7 904.4,538.1 911.3,538.6 918.3,539.0 925.2,539.1 932.2,537.3 939.1,534.1 946.1,530.5 953.0,527.3 960.0,524.9 966.9,522.6 973.9,520.4 980.8,518.4 987.8,518.4 994.7,518.4 1001.7,518.4 1001.7,535.0 994.7,535.0 987.8,535.0 980.8,535.1 973.9,537.4 966.9,539.8 960.0,542.3 953.0,544.9 946.1,548.3 939.1,552.0 932.2,555.2 925.2,557.0 918.3,557.1 911.3,556.7 904.4,556.2 897.4,555.8 890.5,555.8 883.5,556.5 876.6,558.0 869.6,560.1 862.7,562.6 855.7,565.8 848.8,570.1 841.8,574.5 834.9,578.2 827.9,580.3 821.0,581.7 814.0,582.0 807.1,580.8 800.1,578.9 793.2,575.8 786.2,571.1 779.3,566.0 772.3,562.1 765.4,559.4 758.4,556.6 751.5,554.2 744.5,552.6 737.6,552.3 730.6,552.5 723.7,552.9 716.7,553.1 709.8,553.1 702.8,553.0 695.9,552.8 688.9,552.7 682.0,552.7 675.0,553.2 668.1,554.0 661.1,554.8 654.2,555.2 647.2,554.9 640.3,554.0 633.3,552.8 626.4,551.4 619.4,550.1 612.5,548.1 605.5,546.0 598.6,544.4 591.6,543.9 584.7,543.9 577.7,543.9 570.8,544.0 563.8,544.0 556.9,544.3 549.9,545.3 543.0,546.6 536.0,547.9 529.1,548.9 522.1,549.7 515.2,550.4 508.2,551.2 501.3,552.3 494.3,554.0 487.4,556.5 480.4,559.5 473.5,562.8 466.5,566.3 459.6,571.0 452.6,575.8 445.7,579.5 438.7,581.1 431.8,581.4 424.8,581.4 417.9,581.1 410.9,580.4 404.0,578.6 397.0,576.2 390.1,573.4 383.1,570.8 376.2,567.9 369.2,564.6 362.3,561.2 355.3,558.2 348.4,555.7 341.4,553.2 334.5,550.8 327.5,548.8 320.6,547.2 313.6,545.7 306.7,544.4 299.7,543.4 292.8,542.8 285.8,542.4 278.9,542.1 271.9,541.9 265.0,541.9 258.0,542.0 251.1,542.3 244.1,542.8 237.2,543.3 230.2,543.9 223.3,544.8 216.3,546.0 209.4,547.4 202.4,548.8 195.5,550.2 188.5,551.7 181.6,553.2 174.6,554.7 167.7,556.0 160.7,557.1 153.8,558.2 146.8,559.1 139.9,560.0 132.9,560.0 126.0,560.0 119.0,560.0" fill="#af0000"/>
<polygon points="119.0,542.6 126.0,542.6 132.9,542.6 139.9,542.6 146.8,541.8 153.8,540.9 160.7,539.9 167.7,538.8 174.6,537.7 181.6,536.4 188.5,535.1 195.5,533.8 202.4,532.6 209.4,531.4 216.3,530.2 223.3,529.2 230.2,528.6 237.2,528.3 244.1,528.1 251.1,528.0 258.0,528.0 265.0,528.2 271.9,528.5 278.9,528.9 285.8,529.4 292.8,529.9 299.7,530.6 306.7,531.7 313.6,532.9 320.6,534.4 327.5,536.0 334.5,538.1 341.4,540.6 348.4,543.2 355.3,545.7 362.3,548.6 369.2,551.6 376.2,554.5 383.1,557.0 390.1,559.2 397.0,561.4 404.0,563.2 410.9,564.0 417.9,563.7 424.8,563.0 431.8,562.1 438.7,561.2 445.7,559.7 452.6,556.4 459.6,552.3 466.5,548.6 473.5,546.1 480.4,544.1 487.4,542.1 494.3,540.5 501.3,539.3 508.2,538.6 515.2,538.0 522.1,537.6 529.1,537.0 536.0,536.1 543.0,534.9 549.9,533.6 556.9,532.6 563.8,532.4 570.8,532.4 577.7,532.4 584.7,532.5 591.6,532.5 598.6,533.0 605.5,534.8 612.5,537.1 619.4,539.3 626.4,540.7 633.3,542.1 640.3,543.4 647.2,544.3 654.2,544.7 661.1,544.3 668.1,543.3 675.0,542.3 682.0,541.7 688.9,541.7 695.9,541.7 702.8,541.7 709.8,541.7 716.7,541.7 723.7,541.4 730.6,541.0 737.6,540.7 744.5,541.0 751.5,542.5 758.4,544.8 765.4,547.5 772.3,549.9 779.3,553.0 786.2,555.7 793.2,557.4 800.1,557.3 807.1,554.8 814.0,552.2 821.0,550.7 827.9,550.0 834.9,549.4 841.8,547.6 848.8,544.9 855.7,542.5 862.7,541.4 869.6,541.0 876.6,540.5 883.5,540.0 890.5,539.6 897.4,539.8 904.4,540.3 911.3,540.9 918.3,541.4 925.2,541.4 932.2,539.6 939.1,536.5 946.1,532.8 953.0,529.6 960.0,527.1 966.9,524.7 973.9,522.5 980.8,520.3 987.8,520.2 994.7,520.2 1001.7,520.2 1001.7,531.8 994.7,531.8 987.8,531.8 980.8,531.8 973.9,534.0 966.9,536.3 960.0,538.7 953.0,541.2 946.1,544.5 939.1,548.2 932.2,551.5 925.2,553.4 918.3,553.4 911.3,553.1 904.4,552.7 897.4,552.4 890.5,552.4 883.5,553.1 876.6,554.6 869.6,556.8 862.7,559.4 855.7,562.6 848.8,566.8 841.8,571.2 834.9,574.8 827.9,576.7 821.0,578.0 814.0,578.1 807.1,576.5 800.1,574.3 793.2,571.1 786.2,566.7 779.3,562.0 772.3,558.6 765.4,556.1 758.4,553.5 751.5,551.2 744.5,549.6 737.6,549.3 730.6,549.6 723.7,550.0 716.7,550.3 709.8,550.3 702.8,550.3 695.9,550.3 688.9,550.3 682.0,550.4 675.0,551.0 668.1,552.0 661.1,552.9 654.2,553.3 647.2,553.0 640.3,552.0 633.3,550.8 626.4,549.4 619.4,547.9 612.5,545.8 605.5,543.4 598.6,541.7 591.6,541.1 584.7,541.1 577.7,541.2 570.8,541.2 563.8,541.2 556.9,541.5 549.9,542.6 543.0,544.0 536.0,545.4 529.1,546.4 522.1,547.1 515.2,547.7 508.2,548.4 501.3,549.4 494.3,550.9 487.4,553.1 480.4,555.8 473.5,558.8 466.5,562.2 459.6,566.8 452.6,571.6 445.7,575.4 438.7,577.0 431.8,577.5 424.8,577.5 417.9,577.2 410.9,576.5 404.0,574.9 397.0,572.8 390.1,570.4 383.1,568.1 376.2,565.4 369.2,562.4 362.3,559.2 355.3,556.3 348.4,553.6 341.4,550.9 334.5,548.4 327.5,546.2 320.6,544.5 313.6,543.0 306.7,541.7 299.7,540.7 292.8,540.1 285.8,539.7 278.9,539.4 271.9,539.2 265.0,539.2 258.0,539.4 251.1,539.8 244.1,540.3 237.2,540.9 230.2,541.6 223.3,542.6 216.3,544.0 209.4,545.4 202.4,546.9 195.5,548.3 188.5,549.8 181.6,551.4 174.6,552.8 167.7,554.1 160.7,555.3 153.8,556.4 146.8,557.5 139.9,558.4 132.9,558.4 126.0,558.4 119.0,558.4" fill="#b80000"/>
</g>
<g filter="url(#b2)">
<polygon points="119.0,542.6 126.2,542.6 126.2,558.4 119.0,558.4" fill="#e30000"/>
<polygon points="126.0,542.6 133.2,542.6 133.2,558.4 126.0,558.4" fill="#e30000"/>
<polygon points="132.9,542.6 140.2,542.6 140.2,558.4 132.9,558.4" fill="#e30000"/>
<polygon points="139.9,542.6 147.1,541.8 147.1,557.5 139.9,558.4" fill="#e30000"/>
<polygon points="146.8,541.8 154.1,540.9 154.1,556.4 146.8,557.5" fill="#e20000"/>
<polygon points="153.8,540.9 161.0,539.9 161.0,555.3 153.8,556.4" fill="#e20000"/>
<polygon points="160.7,539.9 168.0,538.8 168.0,554.1 160.7,555.3" fill="#e20000"/>
<polygon points="167.7,538.8 174.9,537.7 174.9,552.8 167.7,554.1" fill="#e10000"/>
<polygon points="174.6,537.7 181.9,536.4 181.9,551.4 174.6,552.8" fill="#e10000"/>
<polygon points="181.6,536.4 188.8,535.1 188.8,549.8 181.6,551.4" fill="#e10000"/>
<polygon points="188.5,535.1 195.8,533.8 195.8,548.3 188.5,549.8" fill="#e10000"/>
<polygon points="195.5,533.8 202.7,532.6 202.7,546.9 195.5,548.3" fill="#e00000"/>
<polygon points="202.4,532.6 209.7,531.4 209.7,545.4 202.4,546.9" fill="#e00000"/>
<polygon points="209.4,531.4 216.6,530.2 216.6,544.0 209.4,545.4" fill="#e00000"/>
<polygon points="216.3,530.2 223.6,529.2 223.6,542.6 216.3,544.0" fill="#e00000"/>
<polygon points="223.3,529.2 230.5,528.6 230.5,541.6 223.3,542.6" fill="#df0000"/>
<polygon points="230.2,528.6 237.5,528.3 237.5,540.9 230.2,541.6" fill="#df0000"/>
<polygon points="237.2,528.3 244.4,528.1 244.4,540.3 237.2,540.9" fill="#df0000"/>
<polygon points="244.1,528.1 251.4,528.0 251.4,539.8 244.1,540.3" fill="#df0000"/>
<polygon points="251.1,528.0 258.3,528.0 258.3,539.4 251.1,539.8" fill="#df0000"/>
<polygon points="258.0,528.0 265.3,528.2 265.3,539.2 258.0,539.4" fill="#de0000"/>
<polygon points="265.0,528.2 272.2,528.5 272.2,539.2 265.0,539.2" fill="#de0000"/>
<polygon points="271.9,528.5 279.2,528.9 279.2,539.4 271.9,539.2" fill="#de0000"/>
<polygon points="278.9,528.9 286.1,529.4 286.1,539.7 278.9,539.4" fill="#de0000"/>
<polygon points="285.8,529.4 293.1,529.9 293.1,540.1 285.8,539.7" fill="#de0000"/>
<polygon points="292.8,529.9 300.0,530.6 300.0,540.7 292.8,540.1" fill="#de0000"/>
<polygon points="299.7,530.6 307.0,531.7 307.0,541.7 299.7,540.7" fill="#de0000"/>
<polygon points="306.7,531.7 313.9,532.9 313.9,543.0 306.7,541.7" fill="#de0000"/>
<polygon points="313.6,532.9 320.9,534.4 320.9,544.5 313.6,543.0" fill="#de0000"/>
<polygon points="320.6,534.4 327.8,536.0 327.8,546.2 320.6,544.5" fill="#de0000"/>
<polygon points="327.5,536.0 334.8,538.1 334.8,548.4 327.5,546.2" fill="#de0000"/>
<polygon points="334.5,538.1 341.7,540.6 341.7,550.9 334.5,548.4" fill="#de0000"/>
<polygon points="341.4,540.6 348.7,543.2 348.7,553.6 341.4,550.9" fill="#de0000"/>
<polygon points="348.4,543.2 355.6,545.7 355.6,556.3 348.4,553.6" fill="#de0000"/>
<polygon points="355.3,545.7 362.6,548.6 362.6,559.2 355.3,556.3" fill="#de0000"/>
<polygon points="362.3,548.6 369.5,551.6 369.5,562.4 362.3,559.2" fill="#de0000"/>
<polygon points="369.2,551.6 376.5,554.5 376.5,565.4 369.2,562.4" fill="#de0000"/>
<polygon points="376.2,554.5 383.4,557.0 383.4,568.1 376.2,565.4" fill="#de0000"/>
<polygon points="383.1,557.0 390.4,559.2 390.4,570.4 383.1,568.1" fill="#de0000"/>
<polygon points="390.1,559.2 397.3,561.4 397.3,572.8 390.1,570.4" fill="#de0000"/>
<polygon points="397.0,561.4 404.3,563.2 404.3,574.9 397.0,572.8" fill="#de0000"/>
<polygon points="404.0,563.2 411.2,564.0 411.2,576.5 404.0,574.9" fill="#de0000"/>
<polygon points="410.9,564.0 418.2,563.7 418.2,577.2 410.9,576.5" fill="#df0000"/>
<polygon points="417.9,563.7 425.1,563.0 425.1,577.5 417.9,577.2" fill="#e10000"/>
<polygon points="424.8,563.0 432.1,562.1 432.1,577.5 424.8,577.5" fill="#e20000"/>
<polygon points="431.8,562.1 439.0,561.2 439.0,577.0 431.8,577.5" fill="#e20000"/>
<polygon points="438.7,561.2 446.0,559.7 446.0,575.4 438.7,577.0" fill="#e30000"/>
<polygon points="445.7,559.7 452.9,556.4 452.9,571.6 445.7,575.4" fill="#e20000"/>
<polygon points="452.6,556.4 459.9,552.3 459.9,566.8 452.6,571.6" fill="#e20000"/>
<polygon points="459.6,552.3 466.8,548.6 466.8,562.2 459.6,566.8" fill="#e10000"/>
<polygon points="466.5,548.6 473.8,546.1 473.8,558.8 466.5,562.2" fill="#e10000"/>
<polygon points="473.5,546.1 480.7,544.1 480.7,555.8 473.5,558.8" fill="#e00000"/>
<polygon points="480.4,544.1 487.7,542.1 487.7,553.1 480.4,555.8" fill="#df0000"/>
<polygon points="487.4,542.1 494.6,540.5 494.6,550.9 487.4,553.1" fill="#df0000"/>
<polygon points="494.3,540.5 501.6,539.3 501.6,549.4 494.3,550.9" fill="#de0000"/>
<polygon points="501.3,539.3 508.5,538.6 508.5,548.4 501.3,549.4" fill="#de0000"/>
<polygon points="508.2,538.6 515.5,538.0 515.5,547.7 508.2,548.4" fill="#dd0000"/>
<polygon points="515.2,538.0 522.4,537.6 522.4,547.1 515.2,547.7" fill="#dd0000"/>
<polygon points="522.1,537.6 529.4,537.0 529.4,546.4 522.1,547.1" fill="#dd0000"/>
<polygon points="529.1,537.0 536.3,536.1 536.3,545.4 529.1,546.4" fill="#dc0000"/>
<polygon points="536.0,536.1 543.3,534.9 543.3,544.0 536.0,545.4" fill="#dc0000"/>
<polygon points="543.0,534.9 550.2,533.6 550.2,542.6 543.0,544.0" fill="#dc0000"/>
<polygon points="549.9,533.6 557.2,532.6 557.2,541.5 549.9,542.6" fill="#db0000"/>
<polygon points="556.9,532.6 564.1,532.4 564.1,541.2 556.9,541.5" fill="#db0000"/>
<polygon points="563.8,532.4 571.1,532.4 571.1,541.2 563.8,541.2" fill="#db0000"/>
<polygon points="570.8,532.4 578.0,532.4 578.0,541.2 570.8,541.2" fill="#da0000"/>
<polygon points="577.7,532.4 585.0,532.5 585.0,541.1 577.7,541.2" fill="#da0000"/>
<polygon points="584.7,532.5 591.9,532.5 591.9,541.1 584.7,541.1" fill="#da0000"/>
<polygon points="591.6,532.5 598.9,533.0 598.9,541.7 591.6,541.1" fill="#d90000"/>
<polygon points="598.6,533.0 605.8,534.8 605.8,543.4 598.6,541.7" fill="#d90000"/>
<polygon points="605.5,534.8 612.8,537.1 612.8,545.8 605.5,543.4" fill="#d90000"/>
<polygon points="612.5,537.1 619.7,539.3 619.7,547.9 612.5,545.8" fill="#d90000"/>
<polygon points="619.4,539.3 626.7,540.7 626.7,549.4 619.4,547.9" fill="#d80000"/>
<polygon points="626.4,540.7 633.6,542.1 633.6,550.8 626.4,549.4" fill="#d80000"/>
<polygon points="633.3,542.1 640.6,543.4 640.6,552.0 633.3,550.8" fill="#d80000"/>
<polygon points="640.3,543.4 647.5,544.3 647.5,553.0 640.3,552.0" fill="#d80000"/>
<polygon points="647.2,544.3 654.5,544.7 654.5,553.3 647.2,553.0" fill="#d70000"/>
<polygon points="654.2,544.7 661.4,544.3 661.4,552.9 654.2,553.3" fill="#d70000"/>
<polygon points="661.1,544.3 668.4,543.3 668.4,552.0 661.1,552.9" fill="#d70000"/>
<polygon points="668.1,543.3 675.3,542.3 675.3,551.0 668.1,552.0" fill="#d60000"/>
<polygon points="675.0,542.3 682.3,541.7 682.3,550.4 675.0,551.0" fill="#d60000"/>
<polygon points="682.0,541.7 689.2,541.7 689.2,550.3 682.0,550.4" fill="#d50000"/>
<polygon points="688.9,541.7 696.2,541.7 696.2,550.3 688.9,550.3" fill="#d40000"/>
<polygon points="695.9,541.7 703.1,541.7 703.1,550.3 695.9,550.3" fill="#d00000"/>
<polygon points="702.8,541.7 710.1,541.7 710.1,550.3 702.8,550.3" fill="#cb0000"/>
<polygon points="709.8,541.7 717.0,541.7 717.0,550.3 709.8,550.3" fill="#c60000"/>
<polygon points="716.7,541.7 724.0,541.4 724.0,550.0 716.7,550.3" fill="#c20000"/>
<polygon points="723.7,541.4 730.9,541.0 730.9,549.6 723.7,550.0" fill="#bf0000"/>
<polygon points="730.6,541.0 737.9,540.7 737.9,549.3 730.6,549.6" fill="#bd0000"/>
<polygon points="737.6,540.7 744.8,541.0 744.8,549.6 737.6,549.3" fill="#bb0000"/>
<polygon points="744.5,541.0 751.8,542.5 751.8,551.2 744.5,549.6" fill="#b90000"/>
<polygon points="751.5,542.5 758.7,544.8 758.7,553.5 751.5,551.2" fill="#b80000"/>
<polygon points="758.4,544.8 765.7,547.5 765.7,556.1 758.4,553.5" fill="#b70000"/>
<polygon points="765.4,547.5 772.6,549.9 772.6,558.6 765.4,556.1" fill="#b60000"/>
<polygon points="772.3,549.9 779.6,553.0 779.6,562.0 772.3,558.6" fill="#b70000"/>
<polygon points="779.3,553.0 786.5,555.7 786.5,566.7 779.3,562.0" fill="#bb0000"/>
<polygon points="786.2,555.7 793.5,557.4 793.5,571.1 786.2,566.7" fill="#c40000"/>
<polygon points="793.2,557.4 800.4,557.3 800.4,574.3 793.2,571.1" fill="#cd0000"/>
<polygon points="800.1,557.3 807.4,554.8 807.4,576.5 800.1,574.3" fill="#d70000"/>
<polygon points="807.1,554.8 814.3,552.2 814.3,578.1 807.1,576.5" fill="#e00000"/>
<polygon points="814.0,552.2 821.3,550.7 821.3,578.0 814.0,578.1" fill="#e60000"/>
<polygon points="821.0,550.7 828.2,550.0 828.2,576.7 821.0,578.0" fill="#e70000"/>
<polygon points="827.9,550.0 835.2,549.4 835.2,574.8 827.9,576.7" fill="#e60000"/>
<polygon points="834.9,549.4 842.1,547.6 842.1,571.2 834.9,574.8" fill="#e50000"/>
<polygon points="841.8,547.6 849.1,544.9 849.1,566.8 841.8,571.2" fill="#e30000"/>
<polygon points="848.8,544.9 856.0,542.5 856.0,562.6 848.8,566.8" fill="#e20000"/>
<polygon points="855.7,542.5 863.0,541.4 863.0,559.4 855.7,562.6" fill="#e20000"/>
<polygon points="862.7,541.4 869.9,541.0 869.9,556.8 862.7,559.4" fill="#e10000"/>
<polygon points="869.6,541.0 876.9,540.5 876.9,554.6 869.6,556.8" fill="#e10000"/>
<polygon points="876.6,540.5 883.8,540.0 883.8,553.1 876.6,554.6" fill="#e00000"/>
<polygon points="883.5,540.0 890.8,539.6 890.8,552.4 883.5,553.1" fill="#e00000"/>
<polygon points="890.5,539.6 897.7,539.8 897.7,552.4 890.5,552.4" fill="#e00000"/>
<polygon points="897.4,539.8 904.7,540.3 904.7,552.7 897.4,552.4" fill="#e00000"/>
<polygon points="904.4,540.3 911.6,540.9 911.6,553.1 904.4,552.7" fill="#e00000"/>
<polygon points="911.3,540.9 918.6,541.4 918.6,553.4 911.3,553.1" fill="#e00000"/>
<polygon points="918.3,541.4 925.5,541.4 925.5,553.4 918.3,553.4" fill="#e00000"/>
<polygon points="925.2,541.4 932.5,539.6 932.5,551.5 925.2,553.4" fill="#e00000"/>
<polygon points="932.2,539.6 939.4,536.5 939.4,548.2 932.2,551.5" fill="#e00000"/>
<polygon points="939.1,536.5 946.4,532.8 946.4,544.5 939.1,548.2" fill="#e00000"/>
<polygon points="946.1,532.8 953.3,529.6 953.3,541.2 946.1,544.5" fill="#e00000"/>
<polygon points="953.0,529.6 960.3,527.1 960.3,538.7 953.0,541.2" fill="#e00000"/>
<polygon points="960.0,527.1 967.2,524.7 967.2,536.3 960.0,538.7" fill="#e00000"/>
<polygon points="966.9,524.7 974.2,522.5 974.2,534.0 966.9,536.3" fill="#e00000"/>
<polygon points="973.9,522.5 981.1,520.3 981.1,531.8 973.9,534.0" fill="#e00000"/>
<polygon points="980.8,520.3 988.1,520.2 988.1,531.8 980.8,531.8" fill="#e00000"/>
<polygon points="987.8,520.2 995.0,520.2 995.0,531.8 987.8,531.8" fill="#e00000"/>
<polygon points="994.7,520.2 1002.0,520.2 1002.0,531.8 994.7,531.8" fill="#e00000"/>
</g>
</g>
</g>
<path d="M147.85 66 V802 M154.80 66 V802 M161.75 66 V802 M168.70 66 V802 M175.65 66 V802 M182.60 66 V802 M189.55 66 V802 M196.50 66 V802 M203.45 66 V802 M210.40 66 V802 M217.35 66 V802 M224.30 66 V802 M231.25 66 V802 M238.20 66 V802 M245.15 66 V802 M252.10 66 V802 M259.05 66 V802 M266.00 66 V802 M272.95 66 V802 M279.90 66 V802 M286.85 66 V802 M293.80 66 V802 M300.75 66 V802 M307.70 66 V802 M314.65 66 V802 M321.60 66 V802 M328.55 66 V802 M335.50 66 V802 M342.45 66 V802 M349.40 66 V802 M356.35 66 V802 M363.30 66 V802 M370.25 66 V802 M377.20 66 V802 M384.15 66 V802 M391.10 66 V802 M398.05 66 V802 M405.00 66 V802 M411.95 66 V802 M418.90 66 V802 M425.85 66 V802 M432.80 66 V802 M439.75 66 V802 M446.70 66 V802 M453.65 66 V802 M460.60 66 V802 M467.55 66 V802 M474.50 66 V802 M481.45 66 V802 M488.40 66 V802 M495.35 66 V802 M502.30 66 V802 M509.25 66 V802 M516.20 66 V802 M523.15 66 V802 M530.10 66 V802 M537.05 66 V802 M544.00 66 V802 M550.95 66 V802 M557.90 66 V802 M564.85 66 V802 M571.80 66 V802 M578.75 66 V802 M585.70 66 V802 M592.65 66 V802 M599.60 66 V802 M606.55 66 V802 M613.50 66 V802 M620.45 66 V802 M627.40 66 V802 M634.35 66 V802 M641.30 66 V802 M648.25 66 V802 M655.20 66 V802 M662.15 66 V802 M669.10 66 V802 M676.05 66 V802 M683.00 66 V802 M689.95 66 V802 M696.90 66 V802 M703.85 66 V802 M710.80 66 V802 M717.75 66 V802 M724.70 66 V802 M731.65 66 V802 M738.60 66 V802 M745.55 66 V802 M752.50 66 V802 M759.45 66 V802 M766.40 66 V802 M773.35 66 V802 M780.30 66 V802 M787.25 66 V802 M794.20 66 V802 M801.15 66 V802 M808.10 66 V802 M815.05 66 V802 M822.00 66 V802 M828.95 66 V802 M835.90 66 V802 M842.85 66 V802 M849.80 66 V802 M856.75 66 V802 M863.70 66 V802 M870.65 66 V802 M877.60 66 V802 M884.55 66 V802 M891.50 66 V802 M898.45 66 V802 M905.40 66 V802 M912.35 66 V802 M919.30 66 V802 M926.25 66 V802 M933.20 66 V802 M940.15 66 V802 M947.10 66 V802 M954.05 66 V802 M961.00 66 V802 M967.95 66 V802 M974.90 66 V802" stroke="#000087" stroke-width="1" stroke-opacity="0.55" fill="none"/>
<g clip-path="url(#cb)"><path d="M147.85 66 V802 M154.80 66 V802 M161.75 66 V802 M168.70 66 V802 M175.65 66 V802 M182.60 66 V802 M189.55 66 V802 M196.50 66 V802 M203.45 66 V802 M210.40 66 V802 M217.35 66 V802 M224.30 66 V802 M231.25 66 V802 M238.20 66 V802 M245.15 66 V802 M252.10 66 V802 M259.05 66 V802 M266.00 66 V802 M272.95 66 V802 M279.90 66 V802 M286.85 66 V802 M293.80 66 V802 M300.75 66 V802 M307.70 66 V802 M314.65 66 V802 M321.60 66 V802 M328.55 66 V802 M335.50 66 V802 M342.45 66 V802 M349.40 66 V802 M356.35 66 V802 M363.30 66 V802 M370.25 66 V802 M377.20 66 V802 M384.15 66 V802 M391.10 66 V802 M398.05 66 V802 M405.00 66 V802 M411.95 66 V802 M418.90 66 V802 M425.85 66 V802 M432.80 66 V802 M439.75 66 V802 M446.70 66 V802 M453.65 66 V802 M460.60 66 V802 M467.55 66 V802 M474.50 66 V802 M481.45 66 V802 M488.40 66 V802 M495.35 66 V802 M502.30 66 V802 M509.25 66 V802 M516.20 66 V802 M523.15 66 V802 M530.10 66 V802 M537.05 66 V802 M544.00 66 V802 M550.95 66 V802 M557.90 66 V802 M564.85 66 V802 M571.80 66 V802 M578.75 66 V802 M585.70 66 V802 M592.65 66 V802 M599.60 66 V802 M606.55 66 V802 M613.50 66 V802 M620.45 66 V802 M627.40 66 V802 M634.35 66 V802 M641.30 66 V802 M648.25 66 V802 M655.20 66 V802 M662.15 66 V802 M669.10 66 V802 M676.05 66 V802 M683.00 66 V802 M689.95 66 V802 M696.90 66 V802 M703.85 66 V802 M710.80 66 V802 M717.75 66 V802 M724.70 66 V802 M731.65 66 V802 M738.60 66 V802 M745.55 66 V802 M752.50 66 V802 M759.45 66 V802 M766.40 66 V802 M773.35 66 V802 M780.30 66 V802 M787.25 66 V802 M794.20 66 V802 M801.15 66 V802 M808.10 66 V802 M815.05 66 V802 M822.00 66 V802 M828.95 66 V802 M835.90 66 V802 M842.85 66 V802 M849.80 66 V802 M856.75 66 V802 M863.70 66 V802 M870.65 66 V802 M877.60 66 V802 M884.55 66 V802 M891.50 66 V802 M898.45 66 V802 M905.40 66 V802 M912.35 66 V802 M919.30 66 V802 M926.25 66 V802 M933.20 66 V802 M940.15 66 V802 M947.10 66 V802 M954.05 66 V802 M961.00 66 V802 M967.95 66 V802 M974.90 66 V802" stroke="#000050" stroke-width="1.0" stroke-opacity="0.75" fill="none"/></g>
</g>
<rect x="140.5" y="66.5" width="841" height="736" fill="none" stroke="#262626" stroke-width="1" stroke-opacity="0.55"/>
<g>
<rect x="1013" y="790.50" width="44" height="12.10" fill="rgb(0,0,143)"/>
<rect x="1013" y="779.00" width="44" height="12.10" fill="rgb(0,0,159)"/>
<rect x="1013" y="767.50" width="44" height="12.10" fill="rgb(0,0,175)"/>
<rect x="1013" y="756.00" width="44" height="12.10" fill="rgb(0,0,191)"/>
<rect x="1013" y="744.50" width="44" height="12.10" fill="rgb(0,0,207)"/>
<rect x="1013" y="733.00" width="44" height="12.10" fill="rgb(0,0,223)"/>
<rect x="1013" y="721.50" width="44" height="12.10" fill="rgb(0,0,239)"/>
<rect x="1013" y="710.00" width="44" height="12.10" fill="rgb(0,0,255)"/>
<rect x="1013" y="698.50" width="44" height="12.10" fill="rgb(0,16,255)"/>
<rect x="1013" y="687.00" width="44" height="12.10" fill="rgb(0,32,255)"/>
<rect x="1013" y="675.50" width="44" height="12.10" fill="rgb(0,48,255)"/>
<rect x="1013" y="664.00" width="44" height="12.10" fill="rgb(0,64,255)"/>
<rect x="1013" y="652.50" width="44" height="12.10" fill="rgb(0,80,255)"/>
<rect x="1013" y="641.00" width="44" height="12.10" fill="rgb(0,96,255)"/>
<rect x="1013" y="629.50" width="44" height="12.10" fill="rgb(0,112,255)"/>
<rect x="1013" y="618.00" width="44" height="12.10" fill="rgb(0,128,255)"/>
<rect x="1013" y="606.50" width="44" height="12.10" fill="rgb(0,143,255)"/>
<rect x="1013" y="595.00" width="44" height="12.10" fill="rgb(0,159,255)"/>
<rect x="1013" y="583.50" width="44" height="12.10" fill="rgb(0,175,255)"/>
<rect x="1013" y="572.00" width="44" height="12.10" fill="rgb(0,191,255)"/>
<rect x="1013" y="560.50" width="44" height="12.10" fill="rgb(0,207,255)"/>
<rect x="1013" y="549.00" width="44" height="12.10" fill="rgb(0,223,255)"/>
<rect x="1013" y="537.50" width="44" height="12.10" fill="rgb(0,239,255)"/>
<rect x="1013" y="526.00" width="44" height="12.10" fill="rgb(0,255,255)"/>
<rect x="1013" y="514.50" width="44" height="12.10" fill="rgb(16,255,239)"/>
<rect x="1013" y="503.00" width="44" height="12.10" fill="rgb(32,255,223)"/>
<rect x="1013" y="491.50" width="44" height="12.10" fill="rgb(48,255,207)"/>
<rect x="1013" y="480.00" width="44" height="12.10" fill="rgb(64,255,191)"/>
<rect x="1013" y="468.50" width="44" height="12.10" fill="rgb(80,255,175)"/>
<rect x="1013" y="457.00" width="44" height="12.10" fill="rgb(96,255,159)"/>
<rect x="1013" y="445.50" width="44" height="12.10" fill="rgb(112,255,143)"/>
<rect x="1013" y="434.00" width="44" height="12.10" fill="rgb(128,255,128)"/>
<rect x="1013" y="422.50" width="44" height="12.10" fill="rgb(143,255,112)"/>
<rect x="1013" y="411.00" width="44" height="12.10" fill="rgb(159,255,96)"/>
<rect x="1013" y="399.50" width="44" height="12.10" fill="rgb(175,255,80)"/>
<rect x="1013" y="388.00" width="44" height="12.10" fill="rgb(191,255,64)"/>
<rect x="1013" y="376.50" width="44" height="12.10" fill="rgb(207,255,48)"/>
<rect x="1013" y="365.00" width="44" height="12.10" fill="rgb(223,255,32)"/>
<rect x="1013" y="353.50" width="44" height="12.10" fill="rgb(239,255,16)"/>
<rect x="1013" y="342.00" width="44" height="12.10" fill="rgb(255,255,0)"/>
<rect x="1013" y="330.50" width="44" height="12.10" fill="rgb(255,239,0)"/>
<rect x="1013" y="319.00" width="44" height="12.10" fill="rgb(255,223,0)"/>
<rect x="1013" y="307.50" width="44" height="12.10" fill="rgb(255,207,0)"/>
<rect x="1013" y="296.00" width="44" height="12.10" fill="rgb(255,191,0)"/>
<rect x="1013" y="284.50" width="44" height="12.10" fill="rgb(255,175,0)"/>
<rect x="1013" y="273.00" width="44" height="12.10" fill="rgb(255,159,0)"/>
<rect x="1013" y="261.50" width="44" height="12.10" fill="rgb(255,143,0)"/>
<rect x="1013" y="250.00" width="44" height="12.10" fill="rgb(255,128,0)"/>
<rect x="1013" y="238.50" width="44" height="12.10" fill="rgb(255,112,0)"/>
<rect x="1013" y="227.00" width="44" height="12.10" fill="rgb(255,96,0)"/>
<rect x="1013" y="215.50" width="44" height="12.10" fill="rgb(255,80,0)"/>
<rect x="1013" y="204.00" width="44" height="12.10" fill="rgb(255,64,0)"/>
<rect x="1013" y="192.50" width="44" height="12.10" fill="rgb(255,48,0)"/>
<rect x="1013" y="181.00" width="44" height="12.10" fill="rgb(255,32,0)"/>
<rect x="1013" y="169.50" width="44" height="12.10" fill="rgb(255,16,0)"/>
<rect x="1013" y="158.00" width="44" height="12.10" fill="rgb(255,0,0)"/>
<rect x="1013" y="146.50" width="44" height="12.10" fill="rgb(239,0,0)"/>
<rect x="1013" y="135.00" width="44" height="12.10" fill="rgb(223,0,0)"/>
<rect x="1013" y="123.50" width="44" height="12.10" fill="rgb(207,0,0)"/>
<rect x="1013" y="112.00" width="44" height="12.10" fill="rgb(191,0,0)"/>
<rect x="1013" y="100.50" width="44" height="12.10" fill="rgb(175,0,0)"/>
<rect x="1013" y="89.00" width="44" height="12.10" fill="rgb(159,0,0)"/>
<rect x="1013" y="77.50" width="44" height="12.10" fill="rgb(143,0,0)"/>
<rect x="1013" y="66.00" width="44" height="12.10" fill="rgb(128,0,0)"/>
<rect x="1013.5" y="66.5" width="43" height="736" fill="none" stroke="#262626" stroke-width="1.2"/>
</g>
<text class="t" x="560.5" y="52.3" text-anchor="middle" xml:space="preserve">f=4.65 MHz;  lat=50.04; long=14.48, time=0 is at 2017 07 25 20:00</text>
<text class="l" x="561.6" y="869" text-anchor="middle">time [min]</text>
<g transform="translate(83.6,476.5) rotate(-90)"><text class="l" transform="scale(1.36,1)" x="0" y="0">&#916;</text><text class="l" x="23.6" y="0">f [Hz]</text></g>
<text x="278.0" y="834" text-anchor="middle">20</text>
<text x="417.0" y="834" text-anchor="middle">40</text>
<text x="556.0" y="834" text-anchor="middle">60</text>
<text x="695.0" y="834" text-anchor="middle">80</text>
<text x="834.0" y="834" text-anchor="middle">100</text>
<text x="973.0" y="834" text-anchor="middle">120</text>
<text x="131.5" y="793.2" text-anchor="end">-10</text>
<text x="131.5" y="723.1" text-anchor="end">-8</text>
<text x="131.5" y="653.0" text-anchor="end">-6</text>
<text x="131.5" y="582.9" text-anchor="end">-4</text>
<text x="131.5" y="512.8" text-anchor="end">-2</text>
<text x="131.5" y="442.7" text-anchor="end">0</text>
<text x="131.5" y="372.6" text-anchor="end">2</text>
<text x="131.5" y="302.5" text-anchor="end">4</text>
<text x="131.5" y="232.4" text-anchor="end">6</text>
<text x="131.5" y="162.3" text-anchor="end">8</text>
<text x="131.5" y="92.2" text-anchor="end">10</text>
<text x="1064" y="783.4">4.5</text>
<path d="M1057.0 774.7 h-9" stroke="#262626" stroke-width="1.3"/>
<text x="1064" y="647.1">5</text>
<path d="M1057.0 638.4 h-9" stroke="#262626" stroke-width="1.3"/>
<text x="1064" y="510.8">5.5</text>
<path d="M1057.0 502.1 h-9" stroke="#262626" stroke-width="1.3"/>
<text x="1064" y="374.6">6</text>
<path d="M1057.0 365.9 h-9" stroke="#262626" stroke-width="1.3"/>
<text x="1064" y="238.3">6.5</text>
<path d="M1057.0 229.6 h-9" stroke="#262626" stroke-width="1.3"/>
<text x="1064" y="102.0">7</text>
<path d="M1057.0 93.3 h-9" stroke="#262626" stroke-width="1.3"/>
</svg>
</body></html>
